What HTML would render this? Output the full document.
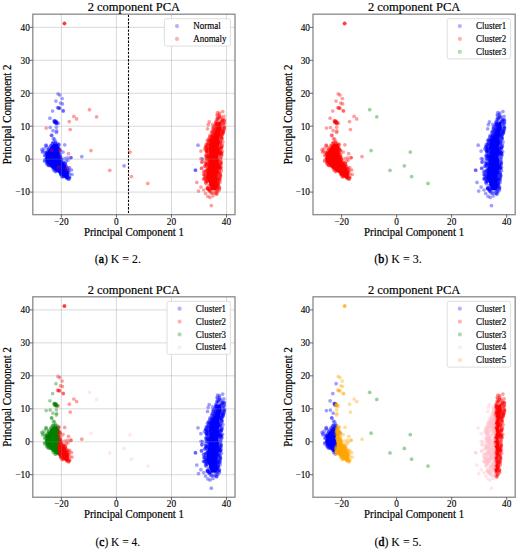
<!DOCTYPE html>
<html><head><meta charset="utf-8"><style>
html,body{margin:0;padding:0;background:#fff;}
svg{display:block;font-family:"Liberation Serif", serif;}
.g{stroke:#8a8a8a;stroke-opacity:0.4;stroke-width:0.8;}
.f{fill:none;stroke:#8e8e8e;stroke-width:1.35;}
.t{stroke:#444;stroke-width:0.8;}
.tl{font-size:9.3px;fill:#000;stroke:#000;stroke-width:0.12;}
.ti{font-size:12.7px;fill:#000;stroke:#000;stroke-width:0.18;}
.al{font-size:11.5px;fill:#000;stroke:#000;stroke-width:0.2;}
.lg{font-size:9.5px;fill:#000;stroke:#000;stroke-width:0.15;}
.cap{font-size:11.8px;fill:#000;stroke:#000;stroke-width:0.1;}
</style></head><body>
<svg width="518" height="550" viewBox="0 0 518 550">
<clipPath id="claL0"><rect x="0.0" y="0.0" width="250.0" height="280"/></clipPath><polygon points="53.1,144.0 52.8,144.5 52.4,145.0 52.0,145.5 51.6,146.0 51.3,146.5 50.9,147.0 50.5,147.5 50.1,148.0 49.8,148.5 49.4,149.0 49.0,149.5 48.6,150.0 48.3,150.5 47.9,151.0 47.6,151.5 47.4,152.0 47.1,152.5 46.9,153.0 46.7,153.5 46.5,154.0 46.4,154.5 46.2,155.0 46.1,155.5 45.9,156.0 45.8,156.5 45.7,157.0 45.7,157.5 45.7,158.0 45.7,158.5 45.7,159.0 45.8,159.5 45.9,160.0 46.0,160.5 46.1,161.0 46.4,161.5 46.7,162.0 47.0,162.5 47.3,163.0 47.8,163.5 48.2,164.0 48.6,164.5 49.1,165.0 49.6,165.5 50.1,166.0 50.6,166.5 51.1,167.0 51.6,167.5 52.2,168.0 52.8,168.5 53.3,169.0 53.9,169.5 54.6,170.0 55.2,170.5 55.9,171.0 56.5,171.5 57.1,172.0 57.8,172.5 58.4,173.0 59.1,173.5 59.8,174.0 60.4,174.5 61.1,175.0 61.8,175.5 62.5,176.0 63.2,176.5 63.9,177.0 64.6,177.5 65.2,178.0 65.9,178.5 66.7,179.0 67.8,179.0 67.9,178.5 68.0,178.0 68.2,177.5 68.3,177.0 68.3,176.5 68.4,176.0 68.5,175.5 68.5,175.0 68.5,174.5 68.4,174.0 68.3,173.5 68.3,173.0 68.1,172.5 68.0,172.0 67.8,171.5 67.7,171.0 67.5,170.5 67.3,170.0 67.1,169.5 66.9,169.0 66.6,168.5 66.4,168.0 66.1,167.5 65.9,167.0 65.6,166.5 65.3,166.0 65.0,165.5 64.7,165.0 64.3,164.5 64.0,164.0 63.6,163.5 63.3,163.0 62.9,162.5 62.4,162.0 62.0,161.5 61.5,161.0 61.1,160.5 60.7,160.0 60.3,159.5 59.9,159.0 59.8,158.5 59.6,158.0 59.5,157.5 59.3,157.0 59.3,156.5 59.2,156.0 59.1,155.5 59.1,155.0 59.1,154.5 59.0,154.0 58.9,153.5 58.9,153.0 58.9,152.5 58.9,152.0 58.9,151.5 58.9,151.0 58.9,150.5 58.9,150.0 58.9,149.5 58.9,149.0 58.8,148.5 58.7,148.0 58.6,147.5 58.5,147.0 58.4,146.5 58.2,146.0 58.0,145.5 57.9,145.0 57.6,144.5 57.4,144.0" fill="#0000ff" clip-path="url(#claL0)"/>
<clipPath id="claR0"><rect x="0.0" y="0.0" width="250.0" height="280"/></clipPath><polygon points="218.6,122.0 218.3,122.5 218.1,123.0 217.8,123.5 217.6,124.0 217.4,124.5 217.3,125.0 217.2,125.5 217.0,126.0 216.8,126.5 216.7,127.0 216.6,127.5 216.4,128.0 216.3,128.5 216.1,129.0 216.0,129.5 215.9,130.0 215.7,130.5 215.6,131.0 215.4,131.5 215.1,132.0 214.9,132.5 214.6,133.0 214.4,133.5 214.2,134.0 213.9,134.5 213.7,135.0 213.4,135.5 213.2,136.0 212.8,136.5 212.5,137.0 212.2,137.5 211.8,138.0 211.4,138.5 211.1,139.0 210.8,139.5 210.4,140.0 210.3,140.5 210.3,141.0 210.2,141.5 210.1,142.0 210.1,142.5 210.0,143.0 209.8,143.5 209.7,144.0 209.5,144.5 209.4,145.0 209.2,145.5 209.1,146.0 208.9,146.5 208.8,147.0 208.8,147.5 208.9,148.0 208.9,148.5 209.0,149.0 209.0,149.5 209.1,150.0 209.1,150.5 209.2,151.0 209.2,151.5 209.2,152.0 209.2,152.5 209.2,153.0 209.3,153.5 209.3,154.0 209.3,154.5 209.3,155.0 209.4,155.5 209.4,156.0 209.4,156.5 209.3,157.0 209.3,157.5 209.2,158.0 209.2,158.5 209.1,159.0 209.1,159.5 209.1,160.0 209.0,160.5 209.0,161.0 208.9,161.5 208.9,162.0 208.8,162.5 208.8,163.0 208.7,163.5 208.6,164.0 208.5,164.5 208.4,165.0 208.3,165.5 208.2,166.0 208.1,166.5 208.0,167.0 207.9,167.5 207.8,168.0 207.7,168.5 207.6,169.0 207.5,169.5 207.4,170.0 207.3,170.5 207.2,171.0 207.1,171.5 207.0,172.0 206.9,172.5 206.8,173.0 206.7,173.5 206.6,174.0 206.6,174.5 206.7,175.0 206.7,175.5 206.7,176.0 206.7,176.5 206.7,177.0 206.8,177.5 206.8,178.0 207.0,178.5 207.2,179.0 207.4,179.5 207.7,180.0 207.9,180.5 208.1,181.0 208.3,181.5 208.5,182.0 208.8,182.5 209.0,183.0 209.2,183.5 209.4,184.0 209.5,184.5 209.7,185.0 209.8,185.5 210.0,186.0 210.1,186.5 210.2,187.0 210.4,187.5 210.5,188.0 210.7,188.5 210.8,189.0 211.1,189.5 211.4,190.0 216.5,190.0 216.6,189.5 216.8,189.0 216.8,188.5 216.9,188.0 216.9,187.5 217.0,187.0 217.0,186.5 217.0,186.0 217.1,185.5 217.1,185.0 217.2,184.5 217.2,184.0 217.2,183.5 217.2,183.0 217.3,182.5 217.3,182.0 217.3,181.5 217.3,181.0 217.3,180.5 217.3,180.0 217.3,179.5 217.4,179.0 217.4,178.5 217.4,178.0 217.4,177.5 217.5,177.0 217.5,176.5 217.5,176.0 217.5,175.5 217.5,175.0 217.6,174.5 217.6,174.0 217.7,173.5 217.8,173.0 217.9,172.5 218.0,172.0 218.1,171.5 218.2,171.0 218.3,170.5 218.4,170.0 218.5,169.5 218.6,169.0 218.7,168.5 218.8,168.0 218.8,167.5 218.8,167.0 218.8,166.5 218.8,166.0 218.8,165.5 218.8,165.0 218.8,164.5 218.8,164.0 218.8,163.5 218.8,163.0 218.8,162.5 218.7,162.0 218.7,161.5 218.6,161.0 218.6,160.5 218.5,160.0 218.5,159.5 218.5,159.0 218.4,158.5 218.4,158.0 218.3,157.5 218.3,157.0 218.2,156.5 218.2,156.0 218.3,155.5 218.4,155.0 218.5,154.5 218.6,154.0 218.7,153.5 218.8,153.0 218.9,152.5 219.0,152.0 219.1,151.5 219.2,151.0 219.3,150.5 219.4,150.0 219.2,149.5 219.1,149.0 218.9,148.5 218.7,148.0 218.6,147.5 218.4,147.0 218.6,146.5 218.7,146.0 218.8,145.5 219.0,145.0 219.2,144.5 219.3,144.0 219.4,143.5 219.6,143.0 219.5,142.5 219.4,142.0 219.3,141.5 219.2,141.0 219.1,140.5 219.0,140.0 219.1,139.5 219.2,139.0 219.2,138.5 219.3,138.0 219.4,137.5 219.4,137.0 219.5,136.5 219.6,136.0 219.7,135.5 219.7,135.0 219.8,134.5 219.9,134.0 220.0,133.5 220.0,133.0 220.1,132.5 220.2,132.0 220.2,131.5 220.3,131.0 220.6,130.5 220.8,130.0 221.1,129.5 221.3,129.0 221.6,128.5 221.8,128.0 221.7,127.5 221.5,127.0 221.3,126.5 221.2,126.0 221.1,125.5 220.9,125.0 220.8,124.5 220.6,124.0 220.7,123.5 220.8,123.0 220.9,122.5 221.0,122.0" fill="#ff0000" clip-path="url(#claR0)"/>
<g fill="#0000ff" fill-opacity="0.38"><circle cx="53.4" cy="142.2" r="1.85"/><circle cx="55.6" cy="142.9" r="1.85"/><circle cx="52.7" cy="143.0" r="1.85"/><circle cx="54.8" cy="143.6" r="1.85"/><circle cx="52.2" cy="143.9" r="1.85"/><circle cx="57.7" cy="143.6" r="1.85"/><circle cx="56.3" cy="145.4" r="1.85"/><circle cx="55.8" cy="144.9" r="1.85"/><circle cx="59.3" cy="144.5" r="1.85"/><circle cx="58.3" cy="144.8" r="1.85"/><circle cx="51.2" cy="145.8" r="1.85"/><circle cx="58.0" cy="145.7" r="1.85"/><circle cx="55.7" cy="146.1" r="1.85"/><circle cx="53.7" cy="146.0" r="1.85"/><circle cx="50.7" cy="145.6" r="1.85"/><circle cx="56.6" cy="146.9" r="1.85"/><circle cx="52.7" cy="147.1" r="1.85"/><circle cx="54.2" cy="146.8" r="1.85"/><circle cx="57.9" cy="147.2" r="1.85"/><circle cx="51.9" cy="147.1" r="1.85"/><circle cx="58.8" cy="148.2" r="1.85"/><circle cx="51.9" cy="148.5" r="1.85"/><circle cx="49.9" cy="147.9" r="1.85"/><circle cx="57.4" cy="147.7" r="1.85"/><circle cx="54.3" cy="147.5" r="1.85"/><circle cx="56.4" cy="148.3" r="1.85"/><circle cx="58.9" cy="148.8" r="1.85"/><circle cx="56.6" cy="149.1" r="1.85"/><circle cx="55.2" cy="149.0" r="1.85"/><circle cx="58.5" cy="149.4" r="1.85"/><circle cx="53.8" cy="149.2" r="1.85"/><circle cx="48.6" cy="149.2" r="1.85"/><circle cx="60.4" cy="150.3" r="1.85"/><circle cx="50.9" cy="149.9" r="1.85"/><circle cx="56.0" cy="149.5" r="1.85"/><circle cx="53.3" cy="149.7" r="1.85"/><circle cx="48.6" cy="149.6" r="1.85"/><circle cx="57.4" cy="149.6" r="1.85"/><circle cx="51.9" cy="151.4" r="1.85"/><circle cx="47.4" cy="150.9" r="1.85"/><circle cx="54.1" cy="151.4" r="1.85"/><circle cx="57.9" cy="151.4" r="1.85"/><circle cx="50.3" cy="150.9" r="1.85"/><circle cx="51.4" cy="151.4" r="1.85"/><circle cx="59.9" cy="150.7" r="1.85"/><circle cx="49.2" cy="151.7" r="1.85"/><circle cx="52.9" cy="152.1" r="1.85"/><circle cx="49.7" cy="151.5" r="1.85"/><circle cx="52.0" cy="151.9" r="1.85"/><circle cx="54.1" cy="152.5" r="1.85"/><circle cx="56.0" cy="152.0" r="1.85"/><circle cx="54.9" cy="152.2" r="1.85"/><circle cx="59.0" cy="153.3" r="1.85"/><circle cx="58.6" cy="153.3" r="1.85"/><circle cx="51.3" cy="152.9" r="1.85"/><circle cx="46.9" cy="153.1" r="1.85"/><circle cx="46.2" cy="152.6" r="1.85"/><circle cx="48.5" cy="152.7" r="1.85"/><circle cx="50.5" cy="152.6" r="1.85"/><circle cx="45.3" cy="152.7" r="1.85"/><circle cx="50.6" cy="153.5" r="1.85"/><circle cx="58.6" cy="154.1" r="1.85"/><circle cx="47.3" cy="153.8" r="1.85"/><circle cx="50.4" cy="153.9" r="1.85"/><circle cx="46.9" cy="154.3" r="1.85"/><circle cx="60.5" cy="154.0" r="1.85"/><circle cx="52.5" cy="153.6" r="1.85"/><circle cx="46.5" cy="153.8" r="1.85"/><circle cx="57.9" cy="154.7" r="1.85"/><circle cx="45.0" cy="155.5" r="1.85"/><circle cx="53.1" cy="154.6" r="1.85"/><circle cx="53.3" cy="154.5" r="1.85"/><circle cx="53.1" cy="155.5" r="1.85"/><circle cx="58.5" cy="155.2" r="1.85"/><circle cx="48.8" cy="154.9" r="1.85"/><circle cx="47.3" cy="155.3" r="1.85"/><circle cx="57.2" cy="155.8" r="1.85"/><circle cx="48.0" cy="156.3" r="1.85"/><circle cx="60.6" cy="156.4" r="1.85"/><circle cx="57.6" cy="156.3" r="1.85"/><circle cx="56.5" cy="155.7" r="1.85"/><circle cx="52.9" cy="155.9" r="1.85"/><circle cx="44.8" cy="155.5" r="1.85"/><circle cx="48.9" cy="155.8" r="1.85"/><circle cx="60.2" cy="156.9" r="1.85"/><circle cx="59.8" cy="157.5" r="1.85"/><circle cx="60.1" cy="156.9" r="1.85"/><circle cx="47.8" cy="156.7" r="1.85"/><circle cx="47.4" cy="156.7" r="1.85"/><circle cx="54.6" cy="157.4" r="1.85"/><circle cx="58.2" cy="157.0" r="1.85"/><circle cx="55.1" cy="157.3" r="1.85"/><circle cx="55.4" cy="158.4" r="1.85"/><circle cx="57.5" cy="158.3" r="1.85"/><circle cx="52.3" cy="157.7" r="1.85"/><circle cx="57.6" cy="157.8" r="1.85"/><circle cx="57.8" cy="158.5" r="1.85"/><circle cx="50.9" cy="157.9" r="1.85"/><circle cx="60.3" cy="158.2" r="1.85"/><circle cx="47.0" cy="157.6" r="1.85"/><circle cx="46.7" cy="158.4" r="1.85"/><circle cx="46.6" cy="159.3" r="1.85"/><circle cx="61.2" cy="159.2" r="1.85"/><circle cx="50.2" cy="159.0" r="1.85"/><circle cx="46.4" cy="158.5" r="1.85"/><circle cx="61.0" cy="159.1" r="1.85"/><circle cx="53.3" cy="159.4" r="1.85"/><circle cx="51.6" cy="159.4" r="1.85"/><circle cx="58.5" cy="158.7" r="1.85"/><circle cx="49.6" cy="159.7" r="1.85"/><circle cx="54.9" cy="159.8" r="1.85"/><circle cx="51.8" cy="159.6" r="1.85"/><circle cx="60.7" cy="159.9" r="1.85"/><circle cx="52.5" cy="160.1" r="1.85"/><circle cx="60.6" cy="159.9" r="1.85"/><circle cx="60.8" cy="160.0" r="1.85"/><circle cx="53.9" cy="160.0" r="1.85"/><circle cx="44.6" cy="159.9" r="1.85"/><circle cx="44.6" cy="161.3" r="1.85"/><circle cx="47.7" cy="161.0" r="1.85"/><circle cx="58.0" cy="161.1" r="1.85"/><circle cx="50.6" cy="161.0" r="1.85"/><circle cx="54.8" cy="161.3" r="1.85"/><circle cx="46.5" cy="161.1" r="1.85"/><circle cx="49.1" cy="160.8" r="1.85"/><circle cx="58.9" cy="161.0" r="1.85"/><circle cx="54.9" cy="161.3" r="1.85"/><circle cx="53.5" cy="162.1" r="1.85"/><circle cx="54.7" cy="162.0" r="1.85"/><circle cx="58.2" cy="162.0" r="1.85"/><circle cx="55.2" cy="162.0" r="1.85"/><circle cx="62.9" cy="162.2" r="1.85"/><circle cx="61.7" cy="162.4" r="1.85"/><circle cx="50.0" cy="162.1" r="1.85"/><circle cx="62.9" cy="162.3" r="1.85"/><circle cx="47.7" cy="161.6" r="1.85"/><circle cx="47.1" cy="162.7" r="1.85"/><circle cx="47.1" cy="163.2" r="1.85"/><circle cx="60.8" cy="163.4" r="1.85"/><circle cx="48.7" cy="163.2" r="1.85"/><circle cx="58.4" cy="162.6" r="1.85"/><circle cx="62.7" cy="163.5" r="1.85"/><circle cx="49.9" cy="163.5" r="1.85"/><circle cx="53.3" cy="163.0" r="1.85"/><circle cx="64.7" cy="163.3" r="1.85"/><circle cx="54.8" cy="164.0" r="1.85"/><circle cx="53.0" cy="163.7" r="1.85"/><circle cx="52.7" cy="164.2" r="1.85"/><circle cx="47.0" cy="164.1" r="1.85"/><circle cx="55.0" cy="163.5" r="1.85"/><circle cx="52.9" cy="164.1" r="1.85"/><circle cx="56.3" cy="163.6" r="1.85"/><circle cx="65.3" cy="164.3" r="1.85"/><circle cx="65.1" cy="163.6" r="1.85"/><circle cx="48.2" cy="165.3" r="1.85"/><circle cx="52.6" cy="164.6" r="1.85"/><circle cx="55.4" cy="165.4" r="1.85"/><circle cx="62.9" cy="164.8" r="1.85"/><circle cx="50.3" cy="165.4" r="1.85"/><circle cx="58.2" cy="165.2" r="1.85"/><circle cx="49.2" cy="164.6" r="1.85"/><circle cx="60.4" cy="164.9" r="1.85"/><circle cx="48.9" cy="165.4" r="1.85"/><circle cx="63.2" cy="165.6" r="1.85"/><circle cx="64.3" cy="165.6" r="1.85"/><circle cx="64.4" cy="166.0" r="1.85"/><circle cx="54.7" cy="166.1" r="1.85"/><circle cx="65.6" cy="165.8" r="1.85"/><circle cx="50.9" cy="166.0" r="1.85"/><circle cx="52.9" cy="165.6" r="1.85"/><circle cx="51.5" cy="165.6" r="1.85"/><circle cx="52.2" cy="165.8" r="1.85"/><circle cx="63.2" cy="166.8" r="1.85"/><circle cx="58.5" cy="166.7" r="1.85"/><circle cx="55.7" cy="166.5" r="1.85"/><circle cx="54.0" cy="166.5" r="1.85"/><circle cx="62.7" cy="167.1" r="1.85"/><circle cx="52.9" cy="167.0" r="1.85"/><circle cx="66.3" cy="166.6" r="1.85"/><circle cx="64.2" cy="166.9" r="1.85"/><circle cx="58.4" cy="167.3" r="1.85"/><circle cx="59.4" cy="168.2" r="1.85"/><circle cx="67.7" cy="167.8" r="1.85"/><circle cx="65.1" cy="168.2" r="1.85"/><circle cx="61.7" cy="167.9" r="1.85"/><circle cx="56.6" cy="167.6" r="1.85"/><circle cx="52.9" cy="167.6" r="1.85"/><circle cx="63.5" cy="167.8" r="1.85"/><circle cx="53.4" cy="167.6" r="1.85"/><circle cx="66.3" cy="169.2" r="1.85"/><circle cx="56.4" cy="168.7" r="1.85"/><circle cx="56.6" cy="169.0" r="1.85"/><circle cx="54.3" cy="168.9" r="1.85"/><circle cx="56.1" cy="169.5" r="1.85"/><circle cx="68.0" cy="169.0" r="1.85"/><circle cx="55.8" cy="169.5" r="1.85"/><circle cx="56.9" cy="168.9" r="1.85"/><circle cx="59.1" cy="170.0" r="1.85"/><circle cx="61.0" cy="169.7" r="1.85"/><circle cx="61.0" cy="169.5" r="1.85"/><circle cx="57.2" cy="169.6" r="1.85"/><circle cx="59.4" cy="169.5" r="1.85"/><circle cx="53.4" cy="169.8" r="1.85"/><circle cx="56.7" cy="170.1" r="1.85"/><circle cx="61.4" cy="170.3" r="1.85"/><circle cx="65.0" cy="171.4" r="1.85"/><circle cx="60.1" cy="170.8" r="1.85"/><circle cx="69.1" cy="170.6" r="1.85"/><circle cx="65.2" cy="171.1" r="1.85"/><circle cx="55.0" cy="171.3" r="1.85"/><circle cx="67.7" cy="171.1" r="1.85"/><circle cx="65.3" cy="171.3" r="1.85"/><circle cx="62.9" cy="172.0" r="1.85"/><circle cx="67.3" cy="172.3" r="1.85"/><circle cx="67.2" cy="172.1" r="1.85"/><circle cx="68.1" cy="172.2" r="1.85"/><circle cx="65.3" cy="171.7" r="1.85"/><circle cx="56.0" cy="171.6" r="1.85"/><circle cx="60.6" cy="171.6" r="1.85"/><circle cx="64.1" cy="173.1" r="1.85"/><circle cx="65.0" cy="173.2" r="1.85"/><circle cx="63.2" cy="172.5" r="1.85"/><circle cx="67.2" cy="173.2" r="1.85"/><circle cx="63.4" cy="173.0" r="1.85"/><circle cx="65.4" cy="172.6" r="1.85"/><circle cx="61.1" cy="173.6" r="1.85"/><circle cx="61.3" cy="174.2" r="1.85"/><circle cx="60.6" cy="174.2" r="1.85"/><circle cx="69.7" cy="174.0" r="1.85"/><circle cx="62.7" cy="174.0" r="1.85"/><circle cx="67.6" cy="175.1" r="1.85"/><circle cx="66.3" cy="174.6" r="1.85"/><circle cx="61.1" cy="174.8" r="1.85"/><circle cx="67.4" cy="174.8" r="1.85"/><circle cx="65.5" cy="174.5" r="1.85"/><circle cx="63.3" cy="176.2" r="1.85"/><circle cx="67.2" cy="176.2" r="1.85"/><circle cx="63.5" cy="176.0" r="1.85"/><circle cx="65.1" cy="176.0" r="1.85"/><circle cx="62.0" cy="176.4" r="1.85"/><circle cx="69.7" cy="177.4" r="1.85"/><circle cx="62.4" cy="177.0" r="1.85"/><circle cx="68.5" cy="177.5" r="1.85"/><circle cx="65.7" cy="176.8" r="1.85"/><circle cx="69.3" cy="177.7" r="1.85"/><circle cx="67.1" cy="177.6" r="1.85"/><circle cx="66.8" cy="178.5" r="1.85"/><circle cx="68.6" cy="179.0" r="1.85"/><circle cx="68.9" cy="179.2" r="1.85"/><circle cx="58.0" cy="93.8" r="1.85"/><circle cx="59.8" cy="95.0" r="1.85"/><circle cx="62.1" cy="98.5" r="1.85"/><circle cx="55.9" cy="101.1" r="1.85"/><circle cx="60.6" cy="103.1" r="1.85"/><circle cx="62.4" cy="103.9" r="1.85"/><circle cx="57.6" cy="107.6" r="1.85"/><circle cx="58.4" cy="108.0" r="1.85"/><circle cx="59.2" cy="107.9" r="1.85"/><circle cx="59.8" cy="108.3" r="1.85"/><circle cx="63.0" cy="110.7" r="1.85"/><circle cx="63.4" cy="111.1" r="1.85"/><circle cx="52.6" cy="111.0" r="1.85"/><circle cx="49.9" cy="118.2" r="1.85"/><circle cx="54.0" cy="120.8" r="1.85"/><circle cx="54.6" cy="121.2" r="1.85"/><circle cx="55.2" cy="121.6" r="1.85"/><circle cx="55.8" cy="122.0" r="1.85"/><circle cx="56.4" cy="122.4" r="1.85"/><circle cx="57.0" cy="122.9" r="1.85"/><circle cx="54.4" cy="122.2" r="1.85"/><circle cx="55.6" cy="123.0" r="1.85"/><circle cx="56.6" cy="123.6" r="1.85"/><circle cx="55.0" cy="120.9" r="1.85"/><circle cx="56.2" cy="121.3" r="1.85"/><circle cx="55.3" cy="122.6" r="1.85"/><circle cx="58.2" cy="123.3" r="1.85"/><circle cx="50.2" cy="127.5" r="1.85"/><circle cx="56.4" cy="127.2" r="1.85"/><circle cx="53.0" cy="130.6" r="1.85"/><circle cx="56.7" cy="130.9" r="1.85"/><circle cx="56.4" cy="132.4" r="1.85"/><circle cx="51.4" cy="135.2" r="1.85"/><circle cx="51.8" cy="135.5" r="1.85"/><circle cx="53.3" cy="138.6" r="1.85"/><circle cx="54.5" cy="139.2" r="1.85"/><circle cx="55.5" cy="141.7" r="1.85"/><circle cx="46.2" cy="145.1" r="1.85"/><circle cx="64.7" cy="144.8" r="1.85"/><circle cx="41.8" cy="149.7" r="1.85"/><circle cx="43.0" cy="151.0" r="1.85"/><circle cx="45.8" cy="145.6" r="1.85"/><circle cx="47.0" cy="147.0" r="1.85"/><circle cx="42.5" cy="152.2" r="1.85"/><circle cx="44.0" cy="148.6" r="1.85"/><circle cx="66.1" cy="161.3" r="1.85"/><circle cx="67.3" cy="157.8" r="1.85"/><circle cx="70.8" cy="157.8" r="1.85"/><circle cx="69.6" cy="167.7" r="1.85"/><circle cx="68.0" cy="160.0" r="1.85"/><circle cx="71.0" cy="157.5" r="1.85"/><circle cx="63.0" cy="152.0" r="1.85"/><circle cx="64.5" cy="158.5" r="1.85"/><circle cx="71.5" cy="170.0" r="1.85"/><circle cx="72.0" cy="174.5" r="1.85"/><circle cx="81.8" cy="156.6" r="1.85"/><circle cx="124.1" cy="165.8" r="1.85"/><circle cx="195.6" cy="170.3" r="1.85"/><circle cx="195.3" cy="170.0" r="1.85"/><circle cx="198.0" cy="145.2" r="1.85"/><circle cx="202.6" cy="159.1" r="1.85"/></g>
<g fill="#ff0000" fill-opacity="0.38"><circle cx="222.7" cy="111.5" r="1.85"/><circle cx="217.6" cy="112.5" r="1.85"/><circle cx="219.5" cy="113.1" r="1.85"/><circle cx="219.5" cy="114.8" r="1.85"/><circle cx="217.0" cy="114.8" r="1.85"/><circle cx="217.6" cy="115.9" r="1.85"/><circle cx="223.9" cy="116.3" r="1.85"/><circle cx="219.5" cy="116.4" r="1.85"/><circle cx="221.2" cy="117.4" r="1.85"/><circle cx="219.8" cy="117.3" r="1.85"/><circle cx="216.8" cy="118.8" r="1.85"/><circle cx="218.4" cy="118.9" r="1.85"/><circle cx="218.1" cy="118.3" r="1.85"/><circle cx="217.4" cy="119.4" r="1.85"/><circle cx="224.3" cy="119.9" r="1.85"/><circle cx="223.0" cy="119.6" r="1.85"/><circle cx="224.2" cy="120.5" r="1.85"/><circle cx="222.2" cy="120.0" r="1.85"/><circle cx="222.3" cy="120.5" r="1.85"/><circle cx="221.3" cy="121.3" r="1.85"/><circle cx="215.8" cy="121.9" r="1.85"/><circle cx="216.5" cy="121.5" r="1.85"/><circle cx="217.7" cy="122.7" r="1.85"/><circle cx="224.2" cy="122.3" r="1.85"/><circle cx="221.1" cy="122.3" r="1.85"/><circle cx="220.2" cy="122.4" r="1.85"/><circle cx="215.9" cy="123.2" r="1.85"/><circle cx="223.3" cy="123.5" r="1.85"/><circle cx="216.5" cy="123.9" r="1.85"/><circle cx="224.2" cy="123.4" r="1.85"/><circle cx="215.9" cy="124.1" r="1.85"/><circle cx="217.5" cy="124.1" r="1.85"/><circle cx="216.4" cy="124.3" r="1.85"/><circle cx="219.8" cy="124.9" r="1.85"/><circle cx="221.7" cy="124.4" r="1.85"/><circle cx="219.4" cy="125.4" r="1.85"/><circle cx="217.3" cy="125.1" r="1.85"/><circle cx="216.7" cy="126.0" r="1.85"/><circle cx="215.0" cy="125.5" r="1.85"/><circle cx="220.5" cy="125.9" r="1.85"/><circle cx="216.5" cy="126.2" r="1.85"/><circle cx="217.9" cy="126.4" r="1.85"/><circle cx="224.3" cy="126.8" r="1.85"/><circle cx="223.4" cy="126.0" r="1.85"/><circle cx="213.7" cy="126.7" r="1.85"/><circle cx="218.8" cy="127.6" r="1.85"/><circle cx="213.1" cy="127.4" r="1.85"/><circle cx="224.3" cy="127.8" r="1.85"/><circle cx="223.4" cy="128.0" r="1.85"/><circle cx="216.1" cy="127.1" r="1.85"/><circle cx="219.2" cy="128.7" r="1.85"/><circle cx="224.3" cy="128.7" r="1.85"/><circle cx="220.7" cy="128.8" r="1.85"/><circle cx="218.4" cy="128.6" r="1.85"/><circle cx="213.3" cy="128.8" r="1.85"/><circle cx="215.6" cy="128.9" r="1.85"/><circle cx="216.2" cy="129.1" r="1.85"/><circle cx="215.5" cy="129.6" r="1.85"/><circle cx="220.9" cy="129.1" r="1.85"/><circle cx="213.3" cy="129.5" r="1.85"/><circle cx="219.5" cy="129.4" r="1.85"/><circle cx="219.3" cy="130.0" r="1.85"/><circle cx="215.8" cy="130.5" r="1.85"/><circle cx="223.6" cy="130.6" r="1.85"/><circle cx="222.7" cy="130.5" r="1.85"/><circle cx="215.0" cy="130.2" r="1.85"/><circle cx="223.6" cy="130.7" r="1.85"/><circle cx="212.1" cy="131.5" r="1.85"/><circle cx="219.9" cy="131.4" r="1.85"/><circle cx="214.9" cy="131.7" r="1.85"/><circle cx="222.8" cy="131.2" r="1.85"/><circle cx="212.3" cy="131.3" r="1.85"/><circle cx="216.9" cy="131.7" r="1.85"/><circle cx="221.1" cy="132.7" r="1.85"/><circle cx="217.5" cy="132.2" r="1.85"/><circle cx="223.2" cy="132.3" r="1.85"/><circle cx="221.4" cy="132.2" r="1.85"/><circle cx="214.1" cy="132.8" r="1.85"/><circle cx="215.0" cy="133.0" r="1.85"/><circle cx="213.3" cy="133.2" r="1.85"/><circle cx="216.1" cy="133.7" r="1.85"/><circle cx="222.8" cy="133.1" r="1.85"/><circle cx="215.8" cy="133.2" r="1.85"/><circle cx="223.1" cy="133.1" r="1.85"/><circle cx="211.6" cy="133.1" r="1.85"/><circle cx="222.0" cy="134.9" r="1.85"/><circle cx="219.9" cy="135.0" r="1.85"/><circle cx="222.4" cy="134.3" r="1.85"/><circle cx="212.8" cy="134.9" r="1.85"/><circle cx="220.0" cy="134.0" r="1.85"/><circle cx="219.0" cy="134.4" r="1.85"/><circle cx="214.3" cy="135.2" r="1.85"/><circle cx="210.0" cy="135.3" r="1.85"/><circle cx="214.6" cy="136.0" r="1.85"/><circle cx="211.6" cy="136.0" r="1.85"/><circle cx="212.7" cy="135.4" r="1.85"/><circle cx="220.8" cy="135.8" r="1.85"/><circle cx="210.0" cy="136.5" r="1.85"/><circle cx="214.4" cy="136.9" r="1.85"/><circle cx="212.0" cy="136.4" r="1.85"/><circle cx="221.6" cy="136.0" r="1.85"/><circle cx="215.0" cy="136.8" r="1.85"/><circle cx="219.8" cy="136.0" r="1.85"/><circle cx="209.5" cy="137.9" r="1.85"/><circle cx="212.3" cy="137.7" r="1.85"/><circle cx="221.4" cy="137.3" r="1.85"/><circle cx="212.5" cy="138.0" r="1.85"/><circle cx="217.4" cy="137.3" r="1.85"/><circle cx="218.8" cy="137.3" r="1.85"/><circle cx="212.6" cy="137.0" r="1.85"/><circle cx="221.5" cy="138.6" r="1.85"/><circle cx="221.9" cy="138.0" r="1.85"/><circle cx="211.4" cy="138.5" r="1.85"/><circle cx="222.1" cy="139.0" r="1.85"/><circle cx="213.7" cy="138.3" r="1.85"/><circle cx="214.3" cy="138.5" r="1.85"/><circle cx="210.1" cy="139.8" r="1.85"/><circle cx="218.6" cy="139.8" r="1.85"/><circle cx="219.1" cy="139.6" r="1.85"/><circle cx="212.3" cy="139.3" r="1.85"/><circle cx="212.8" cy="139.8" r="1.85"/><circle cx="208.5" cy="139.2" r="1.85"/><circle cx="210.7" cy="140.1" r="1.85"/><circle cx="207.4" cy="140.6" r="1.85"/><circle cx="212.0" cy="141.0" r="1.85"/><circle cx="220.8" cy="141.0" r="1.85"/><circle cx="211.0" cy="140.1" r="1.85"/><circle cx="208.4" cy="140.5" r="1.85"/><circle cx="218.0" cy="140.4" r="1.85"/><circle cx="213.4" cy="141.6" r="1.85"/><circle cx="217.6" cy="141.7" r="1.85"/><circle cx="220.3" cy="141.7" r="1.85"/><circle cx="208.7" cy="141.8" r="1.85"/><circle cx="211.4" cy="141.6" r="1.85"/><circle cx="212.7" cy="141.7" r="1.85"/><circle cx="209.9" cy="141.2" r="1.85"/><circle cx="210.6" cy="141.2" r="1.85"/><circle cx="216.1" cy="142.3" r="1.85"/><circle cx="213.1" cy="143.0" r="1.85"/><circle cx="214.9" cy="142.2" r="1.85"/><circle cx="219.9" cy="142.7" r="1.85"/><circle cx="222.9" cy="142.1" r="1.85"/><circle cx="214.4" cy="142.8" r="1.85"/><circle cx="220.4" cy="142.9" r="1.85"/><circle cx="211.2" cy="143.1" r="1.85"/><circle cx="209.5" cy="144.0" r="1.85"/><circle cx="216.0" cy="143.9" r="1.85"/><circle cx="212.5" cy="143.9" r="1.85"/><circle cx="213.8" cy="143.3" r="1.85"/><circle cx="219.3" cy="143.9" r="1.85"/><circle cx="208.1" cy="143.6" r="1.85"/><circle cx="216.6" cy="143.2" r="1.85"/><circle cx="208.4" cy="144.2" r="1.85"/><circle cx="210.3" cy="144.6" r="1.85"/><circle cx="216.9" cy="144.2" r="1.85"/><circle cx="206.2" cy="144.3" r="1.85"/><circle cx="217.3" cy="144.2" r="1.85"/><circle cx="211.2" cy="144.2" r="1.85"/><circle cx="219.3" cy="144.5" r="1.85"/><circle cx="207.1" cy="144.1" r="1.85"/><circle cx="214.9" cy="145.6" r="1.85"/><circle cx="207.3" cy="145.2" r="1.85"/><circle cx="217.3" cy="145.4" r="1.85"/><circle cx="210.5" cy="145.3" r="1.85"/><circle cx="221.6" cy="145.3" r="1.85"/><circle cx="215.2" cy="145.4" r="1.85"/><circle cx="212.7" cy="145.9" r="1.85"/><circle cx="222.3" cy="145.4" r="1.85"/><circle cx="217.5" cy="146.2" r="1.85"/><circle cx="205.5" cy="146.9" r="1.85"/><circle cx="212.5" cy="146.8" r="1.85"/><circle cx="212.2" cy="146.9" r="1.85"/><circle cx="213.1" cy="146.2" r="1.85"/><circle cx="205.7" cy="146.6" r="1.85"/><circle cx="216.1" cy="146.9" r="1.85"/><circle cx="206.9" cy="146.6" r="1.85"/><circle cx="213.8" cy="147.1" r="1.85"/><circle cx="210.1" cy="147.5" r="1.85"/><circle cx="220.8" cy="147.1" r="1.85"/><circle cx="213.5" cy="147.8" r="1.85"/><circle cx="221.5" cy="147.2" r="1.85"/><circle cx="207.5" cy="147.9" r="1.85"/><circle cx="221.7" cy="147.5" r="1.85"/><circle cx="206.2" cy="147.9" r="1.85"/><circle cx="220.8" cy="148.6" r="1.85"/><circle cx="219.4" cy="148.2" r="1.85"/><circle cx="218.8" cy="148.2" r="1.85"/><circle cx="212.3" cy="148.8" r="1.85"/><circle cx="219.5" cy="148.2" r="1.85"/><circle cx="209.1" cy="148.4" r="1.85"/><circle cx="214.2" cy="148.4" r="1.85"/><circle cx="207.5" cy="148.2" r="1.85"/><circle cx="221.0" cy="149.0" r="1.85"/><circle cx="215.2" cy="149.8" r="1.85"/><circle cx="206.2" cy="149.8" r="1.85"/><circle cx="207.6" cy="149.6" r="1.85"/><circle cx="215.0" cy="149.6" r="1.85"/><circle cx="210.8" cy="149.4" r="1.85"/><circle cx="215.6" cy="149.4" r="1.85"/><circle cx="216.9" cy="149.4" r="1.85"/><circle cx="206.0" cy="150.6" r="1.85"/><circle cx="214.0" cy="150.2" r="1.85"/><circle cx="218.7" cy="150.8" r="1.85"/><circle cx="213.5" cy="150.2" r="1.85"/><circle cx="213.8" cy="150.1" r="1.85"/><circle cx="207.8" cy="150.4" r="1.85"/><circle cx="207.2" cy="150.4" r="1.85"/><circle cx="214.4" cy="150.0" r="1.85"/><circle cx="207.1" cy="151.7" r="1.85"/><circle cx="218.8" cy="151.5" r="1.85"/><circle cx="206.6" cy="151.5" r="1.85"/><circle cx="212.1" cy="152.0" r="1.85"/><circle cx="208.0" cy="151.9" r="1.85"/><circle cx="222.5" cy="151.7" r="1.85"/><circle cx="219.5" cy="151.2" r="1.85"/><circle cx="213.9" cy="153.0" r="1.85"/><circle cx="221.0" cy="152.2" r="1.85"/><circle cx="218.9" cy="152.9" r="1.85"/><circle cx="206.8" cy="152.4" r="1.85"/><circle cx="218.3" cy="152.2" r="1.85"/><circle cx="220.7" cy="152.3" r="1.85"/><circle cx="219.3" cy="152.1" r="1.85"/><circle cx="220.9" cy="153.2" r="1.85"/><circle cx="210.1" cy="153.5" r="1.85"/><circle cx="211.0" cy="153.0" r="1.85"/><circle cx="208.8" cy="153.2" r="1.85"/><circle cx="221.2" cy="153.7" r="1.85"/><circle cx="220.5" cy="153.2" r="1.85"/><circle cx="218.7" cy="153.1" r="1.85"/><circle cx="216.1" cy="154.4" r="1.85"/><circle cx="219.9" cy="154.6" r="1.85"/><circle cx="215.2" cy="154.9" r="1.85"/><circle cx="207.5" cy="155.0" r="1.85"/><circle cx="216.0" cy="154.4" r="1.85"/><circle cx="218.7" cy="154.3" r="1.85"/><circle cx="221.8" cy="154.6" r="1.85"/><circle cx="218.1" cy="155.4" r="1.85"/><circle cx="208.7" cy="155.7" r="1.85"/><circle cx="206.6" cy="155.8" r="1.85"/><circle cx="209.9" cy="155.6" r="1.85"/><circle cx="221.5" cy="155.6" r="1.85"/><circle cx="216.4" cy="155.3" r="1.85"/><circle cx="205.9" cy="155.0" r="1.85"/><circle cx="215.6" cy="156.4" r="1.85"/><circle cx="214.0" cy="156.9" r="1.85"/><circle cx="208.0" cy="156.2" r="1.85"/><circle cx="216.2" cy="156.0" r="1.85"/><circle cx="205.9" cy="156.4" r="1.85"/><circle cx="207.5" cy="156.4" r="1.85"/><circle cx="209.4" cy="156.6" r="1.85"/><circle cx="209.1" cy="157.6" r="1.85"/><circle cx="213.4" cy="157.1" r="1.85"/><circle cx="220.8" cy="157.2" r="1.85"/><circle cx="208.2" cy="157.1" r="1.85"/><circle cx="216.0" cy="157.9" r="1.85"/><circle cx="218.3" cy="157.4" r="1.85"/><circle cx="210.0" cy="157.0" r="1.85"/><circle cx="214.8" cy="158.4" r="1.85"/><circle cx="216.2" cy="158.4" r="1.85"/><circle cx="220.9" cy="158.7" r="1.85"/><circle cx="209.7" cy="158.9" r="1.85"/><circle cx="206.4" cy="158.5" r="1.85"/><circle cx="212.3" cy="158.2" r="1.85"/><circle cx="206.6" cy="158.8" r="1.85"/><circle cx="214.6" cy="159.9" r="1.85"/><circle cx="207.9" cy="159.2" r="1.85"/><circle cx="215.6" cy="159.5" r="1.85"/><circle cx="216.1" cy="159.8" r="1.85"/><circle cx="208.5" cy="159.3" r="1.85"/><circle cx="210.5" cy="159.0" r="1.85"/><circle cx="220.2" cy="159.8" r="1.85"/><circle cx="217.3" cy="159.0" r="1.85"/><circle cx="217.9" cy="160.5" r="1.85"/><circle cx="217.8" cy="160.5" r="1.85"/><circle cx="209.3" cy="160.1" r="1.85"/><circle cx="209.4" cy="160.0" r="1.85"/><circle cx="211.1" cy="160.7" r="1.85"/><circle cx="217.0" cy="160.8" r="1.85"/><circle cx="217.3" cy="160.3" r="1.85"/><circle cx="212.7" cy="161.8" r="1.85"/><circle cx="214.2" cy="161.3" r="1.85"/><circle cx="216.2" cy="162.0" r="1.85"/><circle cx="209.1" cy="161.9" r="1.85"/><circle cx="205.7" cy="161.3" r="1.85"/><circle cx="209.4" cy="161.7" r="1.85"/><circle cx="221.2" cy="161.7" r="1.85"/><circle cx="220.2" cy="162.3" r="1.85"/><circle cx="209.4" cy="162.9" r="1.85"/><circle cx="216.0" cy="162.7" r="1.85"/><circle cx="216.6" cy="163.0" r="1.85"/><circle cx="213.3" cy="162.8" r="1.85"/><circle cx="217.1" cy="162.9" r="1.85"/><circle cx="212.7" cy="162.7" r="1.85"/><circle cx="215.0" cy="162.3" r="1.85"/><circle cx="215.8" cy="163.1" r="1.85"/><circle cx="220.8" cy="163.1" r="1.85"/><circle cx="205.7" cy="163.1" r="1.85"/><circle cx="221.1" cy="163.3" r="1.85"/><circle cx="207.6" cy="163.0" r="1.85"/><circle cx="205.9" cy="163.7" r="1.85"/><circle cx="216.0" cy="163.7" r="1.85"/><circle cx="217.8" cy="163.1" r="1.85"/><circle cx="211.3" cy="164.8" r="1.85"/><circle cx="219.2" cy="164.9" r="1.85"/><circle cx="206.1" cy="164.9" r="1.85"/><circle cx="220.8" cy="164.9" r="1.85"/><circle cx="206.9" cy="164.2" r="1.85"/><circle cx="206.9" cy="164.0" r="1.85"/><circle cx="219.7" cy="164.8" r="1.85"/><circle cx="216.0" cy="164.8" r="1.85"/><circle cx="209.8" cy="165.1" r="1.85"/><circle cx="206.5" cy="165.8" r="1.85"/><circle cx="208.4" cy="165.3" r="1.85"/><circle cx="212.2" cy="165.0" r="1.85"/><circle cx="209.3" cy="165.3" r="1.85"/><circle cx="217.3" cy="165.4" r="1.85"/><circle cx="210.4" cy="166.0" r="1.85"/><circle cx="213.6" cy="165.9" r="1.85"/><circle cx="205.1" cy="166.4" r="1.85"/><circle cx="212.3" cy="166.8" r="1.85"/><circle cx="210.7" cy="166.7" r="1.85"/><circle cx="214.1" cy="166.2" r="1.85"/><circle cx="219.9" cy="166.1" r="1.85"/><circle cx="219.1" cy="166.2" r="1.85"/><circle cx="204.6" cy="166.2" r="1.85"/><circle cx="218.1" cy="167.0" r="1.85"/><circle cx="213.2" cy="167.5" r="1.85"/><circle cx="218.7" cy="167.2" r="1.85"/><circle cx="213.3" cy="167.3" r="1.85"/><circle cx="219.3" cy="167.3" r="1.85"/><circle cx="221.3" cy="167.3" r="1.85"/><circle cx="208.2" cy="167.7" r="1.85"/><circle cx="213.3" cy="167.1" r="1.85"/><circle cx="215.8" cy="167.1" r="1.85"/><circle cx="218.5" cy="167.7" r="1.85"/><circle cx="215.5" cy="168.4" r="1.85"/><circle cx="211.4" cy="168.4" r="1.85"/><circle cx="220.2" cy="168.1" r="1.85"/><circle cx="220.2" cy="168.0" r="1.85"/><circle cx="207.9" cy="168.3" r="1.85"/><circle cx="220.4" cy="168.5" r="1.85"/><circle cx="211.0" cy="168.9" r="1.85"/><circle cx="208.4" cy="168.5" r="1.85"/><circle cx="217.6" cy="169.8" r="1.85"/><circle cx="215.6" cy="169.3" r="1.85"/><circle cx="209.9" cy="169.2" r="1.85"/><circle cx="219.2" cy="169.7" r="1.85"/><circle cx="217.4" cy="169.2" r="1.85"/><circle cx="211.9" cy="169.8" r="1.85"/><circle cx="214.4" cy="169.1" r="1.85"/><circle cx="212.3" cy="169.9" r="1.85"/><circle cx="207.2" cy="170.3" r="1.85"/><circle cx="216.5" cy="170.8" r="1.85"/><circle cx="206.6" cy="170.2" r="1.85"/><circle cx="208.3" cy="170.3" r="1.85"/><circle cx="213.2" cy="170.2" r="1.85"/><circle cx="209.7" cy="170.2" r="1.85"/><circle cx="221.4" cy="170.7" r="1.85"/><circle cx="205.6" cy="171.0" r="1.85"/><circle cx="210.5" cy="172.0" r="1.85"/><circle cx="217.9" cy="171.7" r="1.85"/><circle cx="211.4" cy="171.2" r="1.85"/><circle cx="215.1" cy="171.1" r="1.85"/><circle cx="207.3" cy="171.4" r="1.85"/><circle cx="204.2" cy="171.4" r="1.85"/><circle cx="217.8" cy="171.7" r="1.85"/><circle cx="212.6" cy="171.6" r="1.85"/><circle cx="206.0" cy="172.6" r="1.85"/><circle cx="210.7" cy="172.7" r="1.85"/><circle cx="219.7" cy="172.4" r="1.85"/><circle cx="213.7" cy="172.7" r="1.85"/><circle cx="211.0" cy="172.2" r="1.85"/><circle cx="216.4" cy="172.9" r="1.85"/><circle cx="217.3" cy="172.7" r="1.85"/><circle cx="218.7" cy="172.7" r="1.85"/><circle cx="211.4" cy="173.3" r="1.85"/><circle cx="214.5" cy="173.1" r="1.85"/><circle cx="210.8" cy="173.8" r="1.85"/><circle cx="216.0" cy="173.6" r="1.85"/><circle cx="207.7" cy="173.4" r="1.85"/><circle cx="211.4" cy="173.6" r="1.85"/><circle cx="210.6" cy="173.7" r="1.85"/><circle cx="219.9" cy="173.2" r="1.85"/><circle cx="217.1" cy="174.4" r="1.85"/><circle cx="211.9" cy="175.0" r="1.85"/><circle cx="203.8" cy="174.5" r="1.85"/><circle cx="206.0" cy="174.8" r="1.85"/><circle cx="220.0" cy="174.5" r="1.85"/><circle cx="204.9" cy="174.6" r="1.85"/><circle cx="212.8" cy="174.7" r="1.85"/><circle cx="212.3" cy="174.6" r="1.85"/><circle cx="212.5" cy="175.4" r="1.85"/><circle cx="220.1" cy="175.2" r="1.85"/><circle cx="215.4" cy="175.4" r="1.85"/><circle cx="216.8" cy="175.1" r="1.85"/><circle cx="220.7" cy="175.4" r="1.85"/><circle cx="204.2" cy="175.3" r="1.85"/><circle cx="210.3" cy="175.0" r="1.85"/><circle cx="210.6" cy="175.4" r="1.85"/><circle cx="209.5" cy="176.3" r="1.85"/><circle cx="207.2" cy="176.7" r="1.85"/><circle cx="219.9" cy="176.5" r="1.85"/><circle cx="207.1" cy="176.8" r="1.85"/><circle cx="210.2" cy="176.2" r="1.85"/><circle cx="205.5" cy="176.8" r="1.85"/><circle cx="217.6" cy="176.6" r="1.85"/><circle cx="211.6" cy="176.6" r="1.85"/><circle cx="220.3" cy="177.4" r="1.85"/><circle cx="214.5" cy="177.8" r="1.85"/><circle cx="217.7" cy="177.5" r="1.85"/><circle cx="208.5" cy="177.5" r="1.85"/><circle cx="205.5" cy="177.8" r="1.85"/><circle cx="209.5" cy="177.9" r="1.85"/><circle cx="208.0" cy="177.4" r="1.85"/><circle cx="207.8" cy="177.4" r="1.85"/><circle cx="203.6" cy="178.7" r="1.85"/><circle cx="208.4" cy="178.2" r="1.85"/><circle cx="208.8" cy="178.5" r="1.85"/><circle cx="211.0" cy="178.6" r="1.85"/><circle cx="215.0" cy="178.4" r="1.85"/><circle cx="219.6" cy="178.9" r="1.85"/><circle cx="204.5" cy="178.8" r="1.85"/><circle cx="219.2" cy="178.8" r="1.85"/><circle cx="218.0" cy="179.6" r="1.85"/><circle cx="204.2" cy="179.0" r="1.85"/><circle cx="220.0" cy="179.7" r="1.85"/><circle cx="208.2" cy="179.1" r="1.85"/><circle cx="206.4" cy="179.2" r="1.85"/><circle cx="217.1" cy="179.3" r="1.85"/><circle cx="206.5" cy="179.9" r="1.85"/><circle cx="217.3" cy="179.2" r="1.85"/><circle cx="214.4" cy="180.8" r="1.85"/><circle cx="215.4" cy="180.9" r="1.85"/><circle cx="217.3" cy="180.8" r="1.85"/><circle cx="207.6" cy="180.7" r="1.85"/><circle cx="213.1" cy="180.7" r="1.85"/><circle cx="211.6" cy="180.9" r="1.85"/><circle cx="213.5" cy="180.3" r="1.85"/><circle cx="207.0" cy="181.5" r="1.85"/><circle cx="205.7" cy="181.5" r="1.85"/><circle cx="207.1" cy="181.5" r="1.85"/><circle cx="212.8" cy="181.5" r="1.85"/><circle cx="218.6" cy="181.0" r="1.85"/><circle cx="218.2" cy="181.5" r="1.85"/><circle cx="213.8" cy="181.7" r="1.85"/><circle cx="211.1" cy="182.4" r="1.85"/><circle cx="220.1" cy="182.1" r="1.85"/><circle cx="215.1" cy="182.6" r="1.85"/><circle cx="205.7" cy="182.6" r="1.85"/><circle cx="215.8" cy="182.9" r="1.85"/><circle cx="210.4" cy="183.0" r="1.85"/><circle cx="213.2" cy="182.5" r="1.85"/><circle cx="206.2" cy="183.7" r="1.85"/><circle cx="215.1" cy="183.3" r="1.85"/><circle cx="218.6" cy="183.4" r="1.85"/><circle cx="212.8" cy="183.5" r="1.85"/><circle cx="217.3" cy="183.2" r="1.85"/><circle cx="212.2" cy="183.4" r="1.85"/><circle cx="218.1" cy="184.3" r="1.85"/><circle cx="218.1" cy="184.4" r="1.85"/><circle cx="213.4" cy="184.3" r="1.85"/><circle cx="213.4" cy="185.0" r="1.85"/><circle cx="215.6" cy="184.8" r="1.85"/><circle cx="210.9" cy="184.3" r="1.85"/><circle cx="210.4" cy="184.6" r="1.85"/><circle cx="217.5" cy="185.0" r="1.85"/><circle cx="216.6" cy="185.9" r="1.85"/><circle cx="214.1" cy="185.0" r="1.85"/><circle cx="210.6" cy="185.0" r="1.85"/><circle cx="209.0" cy="185.9" r="1.85"/><circle cx="215.0" cy="185.7" r="1.85"/><circle cx="219.2" cy="186.6" r="1.85"/><circle cx="215.2" cy="186.6" r="1.85"/><circle cx="216.3" cy="186.6" r="1.85"/><circle cx="216.1" cy="186.2" r="1.85"/><circle cx="215.9" cy="186.5" r="1.85"/><circle cx="217.2" cy="186.1" r="1.85"/><circle cx="207.4" cy="187.8" r="1.85"/><circle cx="219.3" cy="187.7" r="1.85"/><circle cx="211.9" cy="187.8" r="1.85"/><circle cx="217.5" cy="187.6" r="1.85"/><circle cx="210.4" cy="187.3" r="1.85"/><circle cx="212.6" cy="187.3" r="1.85"/><circle cx="215.6" cy="188.9" r="1.85"/><circle cx="207.9" cy="188.6" r="1.85"/><circle cx="207.7" cy="188.1" r="1.85"/><circle cx="217.8" cy="188.6" r="1.85"/><circle cx="219.3" cy="188.4" r="1.85"/><circle cx="207.3" cy="188.4" r="1.85"/><circle cx="219.4" cy="190.0" r="1.85"/><circle cx="213.6" cy="189.4" r="1.85"/><circle cx="208.9" cy="189.6" r="1.85"/><circle cx="210.3" cy="189.2" r="1.85"/><circle cx="207.8" cy="189.0" r="1.85"/><circle cx="209.6" cy="191.0" r="1.85"/><circle cx="209.2" cy="190.9" r="1.85"/><circle cx="209.7" cy="190.0" r="1.85"/><circle cx="216.5" cy="190.2" r="1.85"/><circle cx="210.8" cy="191.1" r="1.85"/><circle cx="217.1" cy="191.7" r="1.85"/><circle cx="217.9" cy="191.7" r="1.85"/><circle cx="215.5" cy="192.7" r="1.85"/><circle cx="214.0" cy="192.9" r="1.85"/><circle cx="212.0" cy="193.0" r="1.85"/><circle cx="210.9" cy="193.0" r="1.85"/><circle cx="216.7" cy="194.1" r="1.85"/><circle cx="64.4" cy="23.4" r="1.85"/><circle cx="64.6" cy="23.3" r="1.85"/><circle cx="64.3" cy="23.6" r="1.85"/><circle cx="89.5" cy="109.7" r="1.85"/><circle cx="96.6" cy="116.8" r="1.85"/><circle cx="73.9" cy="116.4" r="1.85"/><circle cx="76.6" cy="118.9" r="1.85"/><circle cx="69.3" cy="121.6" r="1.85"/><circle cx="70.2" cy="129.5" r="1.85"/><circle cx="46.2" cy="128.0" r="1.85"/><circle cx="68.5" cy="153.7" r="1.85"/><circle cx="90.9" cy="150.6" r="1.85"/><circle cx="109.8" cy="170.3" r="1.85"/><circle cx="130.1" cy="152.1" r="1.85"/><circle cx="131.4" cy="176.6" r="1.85"/><circle cx="147.8" cy="183.4" r="1.85"/><circle cx="51.6" cy="150.3" r="1.85"/><circle cx="59.8" cy="150.3" r="1.85"/><circle cx="58.6" cy="167.1" r="1.85"/><circle cx="66.7" cy="168.8" r="1.85"/><circle cx="200.9" cy="151.1" r="1.85"/><circle cx="201.9" cy="162.2" r="1.85"/><circle cx="201.6" cy="168.5" r="1.85"/><circle cx="196.8" cy="182.4" r="1.85"/><circle cx="198.5" cy="191.1" r="1.85"/><circle cx="200.9" cy="187.1" r="1.85"/><circle cx="203.8" cy="190.0" r="1.85"/><circle cx="207.8" cy="196.3" r="1.85"/><circle cx="210.1" cy="197.5" r="1.85"/><circle cx="213.0" cy="195.8" r="1.85"/><circle cx="211.3" cy="205.6" r="1.85"/><circle cx="201.4" cy="168.0" r="1.85"/><circle cx="202.0" cy="162.0" r="1.85"/><circle cx="201.0" cy="158.7" r="1.85"/><circle cx="209.2" cy="121.9" r="1.85"/><circle cx="208.2" cy="124.7" r="1.85"/><circle cx="207.5" cy="128.8" r="1.85"/><circle cx="212.7" cy="124.3" r="1.85"/><circle cx="204.5" cy="149.0" r="1.85"/><circle cx="203.5" cy="172.0" r="1.85"/><circle cx="205.5" cy="193.5" r="1.85"/><circle cx="216.5" cy="194.0" r="1.85"/></g>
<line x1="61.39" y1="14.20" x2="61.39" y2="214.65" class="g"/>
<line x1="116.43" y1="14.20" x2="116.43" y2="214.65" class="g"/>
<line x1="171.47" y1="14.20" x2="171.47" y2="214.65" class="g"/>
<line x1="226.51" y1="14.20" x2="226.51" y2="214.65" class="g"/>
<line x1="32.80" y1="192.10" x2="235.00" y2="192.10" class="g"/>
<line x1="32.80" y1="159.15" x2="235.00" y2="159.15" class="g"/>
<line x1="32.80" y1="126.20" x2="235.00" y2="126.20" class="g"/>
<line x1="32.80" y1="93.25" x2="235.00" y2="93.25" class="g"/>
<line x1="32.80" y1="60.30" x2="235.00" y2="60.30" class="g"/>
<line x1="32.80" y1="27.35" x2="235.00" y2="27.35" class="g"/>
<line x1="128.50" y1="14.70" x2="128.50" y2="214.65" stroke="#000" stroke-width="1.1" stroke-dasharray="2.3 1.4"/>
<rect x="32.80" y="14.20" width="202.20" height="200.45" class="f"/>
<line x1="61.39" y1="214.65" x2="61.39" y2="217.65" class="t"/>
<text x="61.39" y="224.85" class="tl" text-anchor="middle">−20</text>
<line x1="116.43" y1="214.65" x2="116.43" y2="217.65" class="t"/>
<text x="116.43" y="224.85" class="tl" text-anchor="middle">0</text>
<line x1="171.47" y1="214.65" x2="171.47" y2="217.65" class="t"/>
<text x="171.47" y="224.85" class="tl" text-anchor="middle">20</text>
<line x1="226.51" y1="214.65" x2="226.51" y2="217.65" class="t"/>
<text x="226.51" y="224.85" class="tl" text-anchor="middle">40</text>
<line x1="29.80" y1="192.10" x2="32.80" y2="192.10" class="t"/>
<text x="29.80" y="195.40" class="tl" text-anchor="end">−10</text>
<line x1="29.80" y1="159.15" x2="32.80" y2="159.15" class="t"/>
<text x="29.80" y="162.45" class="tl" text-anchor="end">0</text>
<line x1="29.80" y1="126.20" x2="32.80" y2="126.20" class="t"/>
<text x="29.80" y="129.50" class="tl" text-anchor="end">10</text>
<line x1="29.80" y1="93.25" x2="32.80" y2="93.25" class="t"/>
<text x="29.80" y="96.55" class="tl" text-anchor="end">20</text>
<line x1="29.80" y1="60.30" x2="32.80" y2="60.30" class="t"/>
<text x="29.80" y="63.60" class="tl" text-anchor="end">30</text>
<line x1="29.80" y1="27.35" x2="32.80" y2="27.35" class="t"/>
<text x="29.80" y="30.65" class="tl" text-anchor="end">40</text>
<text x="133.90" y="11.40" class="ti" text-anchor="middle" textLength="92.4" lengthAdjust="spacingAndGlyphs">2 component PCA</text>
<text x="133.90" y="235.60" class="al" text-anchor="middle" textLength="100" lengthAdjust="spacingAndGlyphs">Principal Component 1</text>
<text transform="translate(11.40,114.42) rotate(-90)" class="al" text-anchor="middle" textLength="99.6" lengthAdjust="spacingAndGlyphs">Principal Component 2</text>
<rect x="164.40" y="18.70" width="66.00" height="27.30" rx="1.8" fill="#fff" fill-opacity="0.93" stroke="#d6d6d6" stroke-width="0.8"/>
<circle cx="177.00" cy="26.10" r="2.1" fill="#0000ff" fill-opacity="0.3"/>
<text x="193.20" y="29.30" class="lg" textLength="27.5" lengthAdjust="spacingAndGlyphs">Normal</text>
<circle cx="177.00" cy="38.95" r="2.1" fill="#ff0000" fill-opacity="0.3"/>
<text x="193.20" y="42.15" class="lg" textLength="33.4" lengthAdjust="spacingAndGlyphs">Anomaly</text>
<text x="117.80" y="263.00" class="cap" text-anchor="middle" textLength="46.1" lengthAdjust="spacingAndGlyphs">(<tspan style="stroke-width:0.5">a</tspan>) K = 2.</text>
<clipPath id="clbL0"><rect x="280.2" y="0.0" width="250.0" height="280"/></clipPath><polygon points="333.3,144.0 333.0,144.5 332.6,145.0 332.2,145.5 331.8,146.0 331.5,146.5 331.1,147.0 330.7,147.5 330.3,148.0 330.0,148.5 329.6,149.0 329.2,149.5 328.8,150.0 328.5,150.5 328.1,151.0 327.8,151.5 327.6,152.0 327.3,152.5 327.1,153.0 326.9,153.5 326.7,154.0 326.6,154.5 326.4,155.0 326.3,155.5 326.1,156.0 326.0,156.5 325.9,157.0 325.9,157.5 325.9,158.0 325.9,158.5 325.9,159.0 326.0,159.5 326.1,160.0 326.2,160.5 326.3,161.0 326.6,161.5 326.9,162.0 327.2,162.5 327.5,163.0 328.0,163.5 328.4,164.0 328.8,164.5 329.3,165.0 329.8,165.5 330.3,166.0 330.8,166.5 331.3,167.0 331.8,167.5 332.4,168.0 333.0,168.5 333.5,169.0 334.1,169.5 334.8,170.0 335.4,170.5 336.1,171.0 336.7,171.5 337.3,172.0 338.0,172.5 338.6,173.0 339.3,173.5 340.0,174.0 340.6,174.5 341.3,175.0 342.0,175.5 342.7,176.0 343.4,176.5 344.1,177.0 344.8,177.5 345.4,178.0 346.1,178.5 346.9,179.0 348.0,179.0 348.1,178.5 348.2,178.0 348.4,177.5 348.5,177.0 348.5,176.5 348.6,176.0 348.7,175.5 348.7,175.0 348.7,174.5 348.6,174.0 348.5,173.5 348.5,173.0 348.3,172.5 348.2,172.0 348.0,171.5 347.9,171.0 347.7,170.5 347.5,170.0 347.3,169.5 347.1,169.0 346.8,168.5 346.6,168.0 346.3,167.5 346.1,167.0 345.8,166.5 345.5,166.0 345.2,165.5 344.9,165.0 344.5,164.5 344.2,164.0 343.8,163.5 343.5,163.0 343.1,162.5 342.6,162.0 342.2,161.5 341.7,161.0 341.3,160.5 340.9,160.0 340.5,159.5 340.1,159.0 340.0,158.5 339.8,158.0 339.7,157.5 339.5,157.0 339.5,156.5 339.4,156.0 339.3,155.5 339.3,155.0 339.3,154.5 339.2,154.0 339.1,153.5 339.1,153.0 339.1,152.5 339.1,152.0 339.1,151.5 339.1,151.0 339.1,150.5 339.1,150.0 339.1,149.5 339.1,149.0 339.0,148.5 338.9,148.0 338.8,147.5 338.7,147.0 338.6,146.5 338.4,146.0 338.2,145.5 338.1,145.0 337.8,144.5 337.6,144.0" fill="#ff0000" clip-path="url(#clbL0)"/>
<clipPath id="clbR0"><rect x="280.2" y="0.0" width="250.0" height="280"/></clipPath><polygon points="498.8,122.0 498.5,122.5 498.3,123.0 498.0,123.5 497.8,124.0 497.6,124.5 497.5,125.0 497.4,125.5 497.2,126.0 497.0,126.5 496.9,127.0 496.8,127.5 496.6,128.0 496.5,128.5 496.3,129.0 496.2,129.5 496.1,130.0 495.9,130.5 495.8,131.0 495.6,131.5 495.3,132.0 495.1,132.5 494.8,133.0 494.6,133.5 494.4,134.0 494.1,134.5 493.9,135.0 493.6,135.5 493.4,136.0 493.0,136.5 492.7,137.0 492.4,137.5 492.0,138.0 491.6,138.5 491.3,139.0 491.0,139.5 490.6,140.0 490.5,140.5 490.5,141.0 490.4,141.5 490.3,142.0 490.3,142.5 490.2,143.0 490.0,143.5 489.9,144.0 489.7,144.5 489.6,145.0 489.4,145.5 489.3,146.0 489.1,146.5 489.0,147.0 489.0,147.5 489.1,148.0 489.1,148.5 489.2,149.0 489.2,149.5 489.3,150.0 489.3,150.5 489.4,151.0 489.4,151.5 489.4,152.0 489.4,152.5 489.4,153.0 489.5,153.5 489.5,154.0 489.5,154.5 489.5,155.0 489.6,155.5 489.6,156.0 489.6,156.5 489.5,157.0 489.5,157.5 489.4,158.0 489.4,158.5 489.3,159.0 489.3,159.5 489.3,160.0 489.2,160.5 489.2,161.0 489.1,161.5 489.1,162.0 489.0,162.5 489.0,163.0 488.9,163.5 488.8,164.0 488.7,164.5 488.6,165.0 488.5,165.5 488.4,166.0 488.3,166.5 488.2,167.0 488.1,167.5 488.0,168.0 487.9,168.5 487.8,169.0 487.7,169.5 487.6,170.0 487.5,170.5 487.4,171.0 487.3,171.5 487.2,172.0 487.1,172.5 487.0,173.0 486.9,173.5 486.8,174.0 486.8,174.5 486.9,175.0 486.9,175.5 486.9,176.0 486.9,176.5 486.9,177.0 487.0,177.5 487.0,178.0 487.2,178.5 487.4,179.0 487.6,179.5 487.9,180.0 488.1,180.5 488.3,181.0 488.5,181.5 488.7,182.0 489.0,182.5 489.2,183.0 489.4,183.5 489.6,184.0 489.7,184.5 489.9,185.0 490.0,185.5 490.2,186.0 490.3,186.5 490.4,187.0 490.6,187.5 490.7,188.0 490.9,188.5 491.0,189.0 491.3,189.5 491.6,190.0 496.7,190.0 496.8,189.5 497.0,189.0 497.0,188.5 497.1,188.0 497.1,187.5 497.2,187.0 497.2,186.5 497.2,186.0 497.3,185.5 497.3,185.0 497.4,184.5 497.4,184.0 497.4,183.5 497.4,183.0 497.5,182.5 497.5,182.0 497.5,181.5 497.5,181.0 497.5,180.5 497.5,180.0 497.5,179.5 497.6,179.0 497.6,178.5 497.6,178.0 497.6,177.5 497.7,177.0 497.7,176.5 497.7,176.0 497.7,175.5 497.7,175.0 497.8,174.5 497.8,174.0 497.9,173.5 498.0,173.0 498.1,172.5 498.2,172.0 498.3,171.5 498.4,171.0 498.5,170.5 498.6,170.0 498.7,169.5 498.8,169.0 498.9,168.5 499.0,168.0 499.0,167.5 499.0,167.0 499.0,166.5 499.0,166.0 499.0,165.5 499.0,165.0 499.0,164.5 499.0,164.0 499.0,163.5 499.0,163.0 499.0,162.5 498.9,162.0 498.9,161.5 498.8,161.0 498.8,160.5 498.7,160.0 498.7,159.5 498.7,159.0 498.6,158.5 498.6,158.0 498.5,157.5 498.5,157.0 498.4,156.5 498.4,156.0 498.5,155.5 498.6,155.0 498.7,154.5 498.8,154.0 498.9,153.5 499.0,153.0 499.1,152.5 499.2,152.0 499.3,151.5 499.4,151.0 499.5,150.5 499.6,150.0 499.4,149.5 499.3,149.0 499.1,148.5 498.9,148.0 498.8,147.5 498.6,147.0 498.8,146.5 498.9,146.0 499.0,145.5 499.2,145.0 499.4,144.5 499.5,144.0 499.6,143.5 499.8,143.0 499.7,142.5 499.6,142.0 499.5,141.5 499.4,141.0 499.3,140.5 499.2,140.0 499.3,139.5 499.4,139.0 499.4,138.5 499.5,138.0 499.6,137.5 499.6,137.0 499.7,136.5 499.8,136.0 499.9,135.5 499.9,135.0 500.0,134.5 500.1,134.0 500.2,133.5 500.2,133.0 500.3,132.5 500.4,132.0 500.4,131.5 500.5,131.0 500.8,130.5 501.0,130.0 501.3,129.5 501.5,129.0 501.8,128.5 502.0,128.0 501.9,127.5 501.7,127.0 501.5,126.5 501.4,126.0 501.3,125.5 501.1,125.0 501.0,124.5 500.8,124.0 500.9,123.5 501.0,123.0 501.1,122.5 501.2,122.0" fill="#0000ff" clip-path="url(#clbR0)"/>
<g fill="#0000ff" fill-opacity="0.38"><circle cx="502.9" cy="111.5" r="1.85"/><circle cx="497.8" cy="112.5" r="1.85"/><circle cx="499.7" cy="113.1" r="1.85"/><circle cx="499.7" cy="114.8" r="1.85"/><circle cx="497.2" cy="114.8" r="1.85"/><circle cx="497.8" cy="115.9" r="1.85"/><circle cx="504.1" cy="116.3" r="1.85"/><circle cx="499.7" cy="116.4" r="1.85"/><circle cx="501.4" cy="117.4" r="1.85"/><circle cx="500.0" cy="117.3" r="1.85"/><circle cx="497.0" cy="118.8" r="1.85"/><circle cx="498.6" cy="118.9" r="1.85"/><circle cx="498.3" cy="118.3" r="1.85"/><circle cx="497.6" cy="119.4" r="1.85"/><circle cx="504.5" cy="119.9" r="1.85"/><circle cx="503.2" cy="119.6" r="1.85"/><circle cx="504.4" cy="120.5" r="1.85"/><circle cx="502.4" cy="120.0" r="1.85"/><circle cx="502.5" cy="120.5" r="1.85"/><circle cx="501.5" cy="121.3" r="1.85"/><circle cx="496.0" cy="121.9" r="1.85"/><circle cx="496.7" cy="121.5" r="1.85"/><circle cx="497.9" cy="122.7" r="1.85"/><circle cx="504.4" cy="122.3" r="1.85"/><circle cx="501.3" cy="122.3" r="1.85"/><circle cx="500.4" cy="122.4" r="1.85"/><circle cx="496.1" cy="123.2" r="1.85"/><circle cx="503.5" cy="123.5" r="1.85"/><circle cx="496.7" cy="123.9" r="1.85"/><circle cx="504.4" cy="123.4" r="1.85"/><circle cx="496.1" cy="124.1" r="1.85"/><circle cx="497.7" cy="124.1" r="1.85"/><circle cx="496.6" cy="124.3" r="1.85"/><circle cx="500.0" cy="124.9" r="1.85"/><circle cx="501.9" cy="124.4" r="1.85"/><circle cx="499.6" cy="125.4" r="1.85"/><circle cx="497.5" cy="125.1" r="1.85"/><circle cx="496.9" cy="126.0" r="1.85"/><circle cx="495.2" cy="125.5" r="1.85"/><circle cx="500.7" cy="125.9" r="1.85"/><circle cx="496.7" cy="126.2" r="1.85"/><circle cx="498.1" cy="126.4" r="1.85"/><circle cx="504.5" cy="126.8" r="1.85"/><circle cx="503.6" cy="126.0" r="1.85"/><circle cx="493.9" cy="126.7" r="1.85"/><circle cx="499.0" cy="127.6" r="1.85"/><circle cx="493.3" cy="127.4" r="1.85"/><circle cx="504.5" cy="127.8" r="1.85"/><circle cx="503.6" cy="128.0" r="1.85"/><circle cx="496.3" cy="127.1" r="1.85"/><circle cx="499.4" cy="128.7" r="1.85"/><circle cx="504.5" cy="128.7" r="1.85"/><circle cx="500.9" cy="128.8" r="1.85"/><circle cx="498.6" cy="128.6" r="1.85"/><circle cx="493.5" cy="128.8" r="1.85"/><circle cx="495.8" cy="128.9" r="1.85"/><circle cx="496.4" cy="129.1" r="1.85"/><circle cx="495.7" cy="129.6" r="1.85"/><circle cx="501.1" cy="129.1" r="1.85"/><circle cx="493.5" cy="129.5" r="1.85"/><circle cx="499.7" cy="129.4" r="1.85"/><circle cx="499.5" cy="130.0" r="1.85"/><circle cx="496.0" cy="130.5" r="1.85"/><circle cx="503.8" cy="130.6" r="1.85"/><circle cx="502.9" cy="130.5" r="1.85"/><circle cx="495.2" cy="130.2" r="1.85"/><circle cx="503.8" cy="130.7" r="1.85"/><circle cx="492.3" cy="131.5" r="1.85"/><circle cx="500.1" cy="131.4" r="1.85"/><circle cx="495.1" cy="131.7" r="1.85"/><circle cx="503.0" cy="131.2" r="1.85"/><circle cx="492.5" cy="131.3" r="1.85"/><circle cx="497.1" cy="131.7" r="1.85"/><circle cx="501.3" cy="132.7" r="1.85"/><circle cx="497.7" cy="132.2" r="1.85"/><circle cx="503.4" cy="132.3" r="1.85"/><circle cx="501.6" cy="132.2" r="1.85"/><circle cx="494.3" cy="132.8" r="1.85"/><circle cx="495.2" cy="133.0" r="1.85"/><circle cx="493.5" cy="133.2" r="1.85"/><circle cx="496.3" cy="133.7" r="1.85"/><circle cx="503.0" cy="133.1" r="1.85"/><circle cx="496.0" cy="133.2" r="1.85"/><circle cx="503.3" cy="133.1" r="1.85"/><circle cx="491.8" cy="133.1" r="1.85"/><circle cx="502.2" cy="134.9" r="1.85"/><circle cx="500.1" cy="135.0" r="1.85"/><circle cx="502.6" cy="134.3" r="1.85"/><circle cx="493.0" cy="134.9" r="1.85"/><circle cx="500.2" cy="134.0" r="1.85"/><circle cx="499.2" cy="134.4" r="1.85"/><circle cx="494.5" cy="135.2" r="1.85"/><circle cx="490.2" cy="135.3" r="1.85"/><circle cx="494.8" cy="136.0" r="1.85"/><circle cx="491.8" cy="136.0" r="1.85"/><circle cx="492.9" cy="135.4" r="1.85"/><circle cx="501.0" cy="135.8" r="1.85"/><circle cx="490.2" cy="136.5" r="1.85"/><circle cx="494.6" cy="136.9" r="1.85"/><circle cx="492.2" cy="136.4" r="1.85"/><circle cx="501.8" cy="136.0" r="1.85"/><circle cx="495.2" cy="136.8" r="1.85"/><circle cx="500.0" cy="136.0" r="1.85"/><circle cx="489.7" cy="137.9" r="1.85"/><circle cx="492.5" cy="137.7" r="1.85"/><circle cx="501.6" cy="137.3" r="1.85"/><circle cx="492.7" cy="138.0" r="1.85"/><circle cx="497.6" cy="137.3" r="1.85"/><circle cx="499.0" cy="137.3" r="1.85"/><circle cx="492.8" cy="137.0" r="1.85"/><circle cx="501.7" cy="138.6" r="1.85"/><circle cx="502.1" cy="138.0" r="1.85"/><circle cx="491.6" cy="138.5" r="1.85"/><circle cx="502.3" cy="139.0" r="1.85"/><circle cx="493.9" cy="138.3" r="1.85"/><circle cx="494.5" cy="138.5" r="1.85"/><circle cx="490.3" cy="139.8" r="1.85"/><circle cx="498.8" cy="139.8" r="1.85"/><circle cx="499.3" cy="139.6" r="1.85"/><circle cx="492.5" cy="139.3" r="1.85"/><circle cx="493.0" cy="139.8" r="1.85"/><circle cx="488.7" cy="139.2" r="1.85"/><circle cx="490.9" cy="140.1" r="1.85"/><circle cx="487.6" cy="140.6" r="1.85"/><circle cx="492.2" cy="141.0" r="1.85"/><circle cx="501.0" cy="141.0" r="1.85"/><circle cx="491.2" cy="140.1" r="1.85"/><circle cx="488.6" cy="140.5" r="1.85"/><circle cx="498.2" cy="140.4" r="1.85"/><circle cx="493.6" cy="141.6" r="1.85"/><circle cx="497.8" cy="141.7" r="1.85"/><circle cx="500.5" cy="141.7" r="1.85"/><circle cx="488.9" cy="141.8" r="1.85"/><circle cx="491.6" cy="141.6" r="1.85"/><circle cx="492.9" cy="141.7" r="1.85"/><circle cx="490.1" cy="141.2" r="1.85"/><circle cx="490.8" cy="141.2" r="1.85"/><circle cx="496.3" cy="142.3" r="1.85"/><circle cx="493.3" cy="143.0" r="1.85"/><circle cx="495.1" cy="142.2" r="1.85"/><circle cx="500.1" cy="142.7" r="1.85"/><circle cx="503.1" cy="142.1" r="1.85"/><circle cx="494.6" cy="142.8" r="1.85"/><circle cx="500.6" cy="142.9" r="1.85"/><circle cx="491.4" cy="143.1" r="1.85"/><circle cx="489.7" cy="144.0" r="1.85"/><circle cx="496.2" cy="143.9" r="1.85"/><circle cx="492.7" cy="143.9" r="1.85"/><circle cx="494.0" cy="143.3" r="1.85"/><circle cx="499.5" cy="143.9" r="1.85"/><circle cx="488.3" cy="143.6" r="1.85"/><circle cx="496.8" cy="143.2" r="1.85"/><circle cx="488.6" cy="144.2" r="1.85"/><circle cx="490.5" cy="144.6" r="1.85"/><circle cx="497.1" cy="144.2" r="1.85"/><circle cx="486.4" cy="144.3" r="1.85"/><circle cx="497.5" cy="144.2" r="1.85"/><circle cx="491.4" cy="144.2" r="1.85"/><circle cx="499.5" cy="144.5" r="1.85"/><circle cx="487.3" cy="144.1" r="1.85"/><circle cx="495.1" cy="145.6" r="1.85"/><circle cx="487.5" cy="145.2" r="1.85"/><circle cx="497.5" cy="145.4" r="1.85"/><circle cx="490.7" cy="145.3" r="1.85"/><circle cx="501.8" cy="145.3" r="1.85"/><circle cx="495.4" cy="145.4" r="1.85"/><circle cx="492.9" cy="145.9" r="1.85"/><circle cx="502.5" cy="145.4" r="1.85"/><circle cx="497.7" cy="146.2" r="1.85"/><circle cx="485.7" cy="146.9" r="1.85"/><circle cx="492.7" cy="146.8" r="1.85"/><circle cx="492.4" cy="146.9" r="1.85"/><circle cx="493.3" cy="146.2" r="1.85"/><circle cx="485.9" cy="146.6" r="1.85"/><circle cx="496.3" cy="146.9" r="1.85"/><circle cx="487.1" cy="146.6" r="1.85"/><circle cx="494.0" cy="147.1" r="1.85"/><circle cx="490.3" cy="147.5" r="1.85"/><circle cx="501.0" cy="147.1" r="1.85"/><circle cx="493.7" cy="147.8" r="1.85"/><circle cx="501.7" cy="147.2" r="1.85"/><circle cx="487.7" cy="147.9" r="1.85"/><circle cx="501.9" cy="147.5" r="1.85"/><circle cx="486.4" cy="147.9" r="1.85"/><circle cx="501.0" cy="148.6" r="1.85"/><circle cx="499.6" cy="148.2" r="1.85"/><circle cx="499.0" cy="148.2" r="1.85"/><circle cx="492.5" cy="148.8" r="1.85"/><circle cx="499.7" cy="148.2" r="1.85"/><circle cx="489.3" cy="148.4" r="1.85"/><circle cx="494.4" cy="148.4" r="1.85"/><circle cx="487.7" cy="148.2" r="1.85"/><circle cx="501.2" cy="149.0" r="1.85"/><circle cx="495.4" cy="149.8" r="1.85"/><circle cx="486.4" cy="149.8" r="1.85"/><circle cx="487.8" cy="149.6" r="1.85"/><circle cx="495.2" cy="149.6" r="1.85"/><circle cx="491.0" cy="149.4" r="1.85"/><circle cx="495.8" cy="149.4" r="1.85"/><circle cx="497.1" cy="149.4" r="1.85"/><circle cx="486.2" cy="150.6" r="1.85"/><circle cx="494.2" cy="150.2" r="1.85"/><circle cx="498.9" cy="150.8" r="1.85"/><circle cx="493.7" cy="150.2" r="1.85"/><circle cx="494.0" cy="150.1" r="1.85"/><circle cx="488.0" cy="150.4" r="1.85"/><circle cx="487.4" cy="150.4" r="1.85"/><circle cx="494.6" cy="150.0" r="1.85"/><circle cx="487.3" cy="151.7" r="1.85"/><circle cx="499.0" cy="151.5" r="1.85"/><circle cx="486.8" cy="151.5" r="1.85"/><circle cx="492.3" cy="152.0" r="1.85"/><circle cx="488.2" cy="151.9" r="1.85"/><circle cx="502.7" cy="151.7" r="1.85"/><circle cx="499.7" cy="151.2" r="1.85"/><circle cx="494.1" cy="153.0" r="1.85"/><circle cx="501.2" cy="152.2" r="1.85"/><circle cx="499.1" cy="152.9" r="1.85"/><circle cx="487.0" cy="152.4" r="1.85"/><circle cx="498.5" cy="152.2" r="1.85"/><circle cx="500.9" cy="152.3" r="1.85"/><circle cx="499.5" cy="152.1" r="1.85"/><circle cx="501.1" cy="153.2" r="1.85"/><circle cx="490.3" cy="153.5" r="1.85"/><circle cx="491.2" cy="153.0" r="1.85"/><circle cx="489.0" cy="153.2" r="1.85"/><circle cx="501.4" cy="153.7" r="1.85"/><circle cx="500.7" cy="153.2" r="1.85"/><circle cx="498.9" cy="153.1" r="1.85"/><circle cx="496.3" cy="154.4" r="1.85"/><circle cx="500.1" cy="154.6" r="1.85"/><circle cx="495.4" cy="154.9" r="1.85"/><circle cx="487.7" cy="155.0" r="1.85"/><circle cx="496.2" cy="154.4" r="1.85"/><circle cx="498.9" cy="154.3" r="1.85"/><circle cx="502.0" cy="154.6" r="1.85"/><circle cx="498.3" cy="155.4" r="1.85"/><circle cx="488.9" cy="155.7" r="1.85"/><circle cx="486.8" cy="155.8" r="1.85"/><circle cx="490.1" cy="155.6" r="1.85"/><circle cx="501.7" cy="155.6" r="1.85"/><circle cx="496.6" cy="155.3" r="1.85"/><circle cx="486.1" cy="155.0" r="1.85"/><circle cx="495.8" cy="156.4" r="1.85"/><circle cx="494.2" cy="156.9" r="1.85"/><circle cx="488.2" cy="156.2" r="1.85"/><circle cx="496.4" cy="156.0" r="1.85"/><circle cx="486.1" cy="156.4" r="1.85"/><circle cx="487.7" cy="156.4" r="1.85"/><circle cx="489.6" cy="156.6" r="1.85"/><circle cx="489.3" cy="157.6" r="1.85"/><circle cx="493.6" cy="157.1" r="1.85"/><circle cx="501.0" cy="157.2" r="1.85"/><circle cx="488.4" cy="157.1" r="1.85"/><circle cx="496.2" cy="157.9" r="1.85"/><circle cx="498.5" cy="157.4" r="1.85"/><circle cx="490.2" cy="157.0" r="1.85"/><circle cx="495.0" cy="158.4" r="1.85"/><circle cx="496.4" cy="158.4" r="1.85"/><circle cx="501.1" cy="158.7" r="1.85"/><circle cx="489.9" cy="158.9" r="1.85"/><circle cx="486.6" cy="158.5" r="1.85"/><circle cx="492.5" cy="158.2" r="1.85"/><circle cx="486.8" cy="158.8" r="1.85"/><circle cx="494.8" cy="159.9" r="1.85"/><circle cx="488.1" cy="159.2" r="1.85"/><circle cx="495.8" cy="159.5" r="1.85"/><circle cx="496.3" cy="159.8" r="1.85"/><circle cx="488.7" cy="159.3" r="1.85"/><circle cx="490.7" cy="159.0" r="1.85"/><circle cx="500.4" cy="159.8" r="1.85"/><circle cx="497.5" cy="159.0" r="1.85"/><circle cx="498.1" cy="160.5" r="1.85"/><circle cx="498.0" cy="160.5" r="1.85"/><circle cx="489.5" cy="160.1" r="1.85"/><circle cx="489.6" cy="160.0" r="1.85"/><circle cx="491.3" cy="160.7" r="1.85"/><circle cx="497.2" cy="160.8" r="1.85"/><circle cx="497.5" cy="160.3" r="1.85"/><circle cx="492.9" cy="161.8" r="1.85"/><circle cx="494.4" cy="161.3" r="1.85"/><circle cx="496.4" cy="162.0" r="1.85"/><circle cx="489.3" cy="161.9" r="1.85"/><circle cx="485.9" cy="161.3" r="1.85"/><circle cx="489.6" cy="161.7" r="1.85"/><circle cx="501.4" cy="161.7" r="1.85"/><circle cx="500.4" cy="162.3" r="1.85"/><circle cx="489.6" cy="162.9" r="1.85"/><circle cx="496.2" cy="162.7" r="1.85"/><circle cx="496.8" cy="163.0" r="1.85"/><circle cx="493.5" cy="162.8" r="1.85"/><circle cx="497.3" cy="162.9" r="1.85"/><circle cx="492.9" cy="162.7" r="1.85"/><circle cx="495.2" cy="162.3" r="1.85"/><circle cx="496.0" cy="163.1" r="1.85"/><circle cx="501.0" cy="163.1" r="1.85"/><circle cx="485.9" cy="163.1" r="1.85"/><circle cx="501.3" cy="163.3" r="1.85"/><circle cx="487.8" cy="163.0" r="1.85"/><circle cx="486.1" cy="163.7" r="1.85"/><circle cx="496.2" cy="163.7" r="1.85"/><circle cx="498.0" cy="163.1" r="1.85"/><circle cx="491.5" cy="164.8" r="1.85"/><circle cx="499.4" cy="164.9" r="1.85"/><circle cx="486.3" cy="164.9" r="1.85"/><circle cx="501.0" cy="164.9" r="1.85"/><circle cx="487.1" cy="164.2" r="1.85"/><circle cx="487.1" cy="164.0" r="1.85"/><circle cx="499.9" cy="164.8" r="1.85"/><circle cx="496.2" cy="164.8" r="1.85"/><circle cx="490.0" cy="165.1" r="1.85"/><circle cx="486.7" cy="165.8" r="1.85"/><circle cx="488.6" cy="165.3" r="1.85"/><circle cx="492.4" cy="165.0" r="1.85"/><circle cx="489.5" cy="165.3" r="1.85"/><circle cx="497.5" cy="165.4" r="1.85"/><circle cx="490.6" cy="166.0" r="1.85"/><circle cx="493.8" cy="165.9" r="1.85"/><circle cx="485.3" cy="166.4" r="1.85"/><circle cx="492.5" cy="166.8" r="1.85"/><circle cx="490.9" cy="166.7" r="1.85"/><circle cx="494.3" cy="166.2" r="1.85"/><circle cx="500.1" cy="166.1" r="1.85"/><circle cx="499.3" cy="166.2" r="1.85"/><circle cx="484.8" cy="166.2" r="1.85"/><circle cx="498.3" cy="167.0" r="1.85"/><circle cx="493.4" cy="167.5" r="1.85"/><circle cx="498.9" cy="167.2" r="1.85"/><circle cx="493.5" cy="167.3" r="1.85"/><circle cx="499.5" cy="167.3" r="1.85"/><circle cx="501.5" cy="167.3" r="1.85"/><circle cx="488.4" cy="167.7" r="1.85"/><circle cx="493.5" cy="167.1" r="1.85"/><circle cx="496.0" cy="167.1" r="1.85"/><circle cx="498.7" cy="167.7" r="1.85"/><circle cx="495.7" cy="168.4" r="1.85"/><circle cx="491.6" cy="168.4" r="1.85"/><circle cx="500.4" cy="168.1" r="1.85"/><circle cx="500.4" cy="168.0" r="1.85"/><circle cx="488.1" cy="168.3" r="1.85"/><circle cx="500.6" cy="168.5" r="1.85"/><circle cx="491.2" cy="168.9" r="1.85"/><circle cx="488.6" cy="168.5" r="1.85"/><circle cx="497.8" cy="169.8" r="1.85"/><circle cx="495.8" cy="169.3" r="1.85"/><circle cx="490.1" cy="169.2" r="1.85"/><circle cx="499.4" cy="169.7" r="1.85"/><circle cx="497.6" cy="169.2" r="1.85"/><circle cx="492.1" cy="169.8" r="1.85"/><circle cx="494.6" cy="169.1" r="1.85"/><circle cx="492.5" cy="169.9" r="1.85"/><circle cx="487.4" cy="170.3" r="1.85"/><circle cx="496.7" cy="170.8" r="1.85"/><circle cx="486.8" cy="170.2" r="1.85"/><circle cx="488.5" cy="170.3" r="1.85"/><circle cx="493.4" cy="170.2" r="1.85"/><circle cx="489.9" cy="170.2" r="1.85"/><circle cx="501.6" cy="170.7" r="1.85"/><circle cx="485.8" cy="171.0" r="1.85"/><circle cx="490.7" cy="172.0" r="1.85"/><circle cx="498.1" cy="171.7" r="1.85"/><circle cx="491.6" cy="171.2" r="1.85"/><circle cx="495.3" cy="171.1" r="1.85"/><circle cx="487.5" cy="171.4" r="1.85"/><circle cx="484.4" cy="171.4" r="1.85"/><circle cx="498.0" cy="171.7" r="1.85"/><circle cx="492.8" cy="171.6" r="1.85"/><circle cx="486.2" cy="172.6" r="1.85"/><circle cx="490.9" cy="172.7" r="1.85"/><circle cx="499.9" cy="172.4" r="1.85"/><circle cx="493.9" cy="172.7" r="1.85"/><circle cx="491.2" cy="172.2" r="1.85"/><circle cx="496.6" cy="172.9" r="1.85"/><circle cx="497.5" cy="172.7" r="1.85"/><circle cx="498.9" cy="172.7" r="1.85"/><circle cx="491.6" cy="173.3" r="1.85"/><circle cx="494.7" cy="173.1" r="1.85"/><circle cx="491.0" cy="173.8" r="1.85"/><circle cx="496.2" cy="173.6" r="1.85"/><circle cx="487.9" cy="173.4" r="1.85"/><circle cx="491.6" cy="173.6" r="1.85"/><circle cx="490.8" cy="173.7" r="1.85"/><circle cx="500.1" cy="173.2" r="1.85"/><circle cx="497.3" cy="174.4" r="1.85"/><circle cx="492.1" cy="175.0" r="1.85"/><circle cx="484.0" cy="174.5" r="1.85"/><circle cx="486.2" cy="174.8" r="1.85"/><circle cx="500.2" cy="174.5" r="1.85"/><circle cx="485.1" cy="174.6" r="1.85"/><circle cx="493.0" cy="174.7" r="1.85"/><circle cx="492.5" cy="174.6" r="1.85"/><circle cx="492.7" cy="175.4" r="1.85"/><circle cx="500.3" cy="175.2" r="1.85"/><circle cx="495.6" cy="175.4" r="1.85"/><circle cx="497.0" cy="175.1" r="1.85"/><circle cx="500.9" cy="175.4" r="1.85"/><circle cx="484.4" cy="175.3" r="1.85"/><circle cx="490.5" cy="175.0" r="1.85"/><circle cx="490.8" cy="175.4" r="1.85"/><circle cx="489.7" cy="176.3" r="1.85"/><circle cx="487.4" cy="176.7" r="1.85"/><circle cx="500.1" cy="176.5" r="1.85"/><circle cx="487.3" cy="176.8" r="1.85"/><circle cx="490.4" cy="176.2" r="1.85"/><circle cx="485.7" cy="176.8" r="1.85"/><circle cx="497.8" cy="176.6" r="1.85"/><circle cx="491.8" cy="176.6" r="1.85"/><circle cx="500.5" cy="177.4" r="1.85"/><circle cx="494.7" cy="177.8" r="1.85"/><circle cx="497.9" cy="177.5" r="1.85"/><circle cx="488.7" cy="177.5" r="1.85"/><circle cx="485.7" cy="177.8" r="1.85"/><circle cx="489.7" cy="177.9" r="1.85"/><circle cx="488.2" cy="177.4" r="1.85"/><circle cx="488.0" cy="177.4" r="1.85"/><circle cx="483.8" cy="178.7" r="1.85"/><circle cx="488.6" cy="178.2" r="1.85"/><circle cx="489.0" cy="178.5" r="1.85"/><circle cx="491.2" cy="178.6" r="1.85"/><circle cx="495.2" cy="178.4" r="1.85"/><circle cx="499.8" cy="178.9" r="1.85"/><circle cx="484.7" cy="178.8" r="1.85"/><circle cx="499.4" cy="178.8" r="1.85"/><circle cx="498.2" cy="179.6" r="1.85"/><circle cx="484.4" cy="179.0" r="1.85"/><circle cx="500.2" cy="179.7" r="1.85"/><circle cx="488.4" cy="179.1" r="1.85"/><circle cx="486.6" cy="179.2" r="1.85"/><circle cx="497.3" cy="179.3" r="1.85"/><circle cx="486.7" cy="179.9" r="1.85"/><circle cx="497.5" cy="179.2" r="1.85"/><circle cx="494.6" cy="180.8" r="1.85"/><circle cx="495.6" cy="180.9" r="1.85"/><circle cx="497.5" cy="180.8" r="1.85"/><circle cx="487.8" cy="180.7" r="1.85"/><circle cx="493.3" cy="180.7" r="1.85"/><circle cx="491.8" cy="180.9" r="1.85"/><circle cx="493.7" cy="180.3" r="1.85"/><circle cx="487.2" cy="181.5" r="1.85"/><circle cx="485.9" cy="181.5" r="1.85"/><circle cx="487.3" cy="181.5" r="1.85"/><circle cx="493.0" cy="181.5" r="1.85"/><circle cx="498.8" cy="181.0" r="1.85"/><circle cx="498.4" cy="181.5" r="1.85"/><circle cx="494.0" cy="181.7" r="1.85"/><circle cx="491.3" cy="182.4" r="1.85"/><circle cx="500.3" cy="182.1" r="1.85"/><circle cx="495.3" cy="182.6" r="1.85"/><circle cx="485.9" cy="182.6" r="1.85"/><circle cx="496.0" cy="182.9" r="1.85"/><circle cx="490.6" cy="183.0" r="1.85"/><circle cx="493.4" cy="182.5" r="1.85"/><circle cx="486.4" cy="183.7" r="1.85"/><circle cx="495.3" cy="183.3" r="1.85"/><circle cx="498.8" cy="183.4" r="1.85"/><circle cx="493.0" cy="183.5" r="1.85"/><circle cx="497.5" cy="183.2" r="1.85"/><circle cx="492.4" cy="183.4" r="1.85"/><circle cx="498.3" cy="184.3" r="1.85"/><circle cx="498.3" cy="184.4" r="1.85"/><circle cx="493.6" cy="184.3" r="1.85"/><circle cx="493.6" cy="185.0" r="1.85"/><circle cx="495.8" cy="184.8" r="1.85"/><circle cx="491.1" cy="184.3" r="1.85"/><circle cx="490.6" cy="184.6" r="1.85"/><circle cx="497.7" cy="185.0" r="1.85"/><circle cx="496.8" cy="185.9" r="1.85"/><circle cx="494.3" cy="185.0" r="1.85"/><circle cx="490.8" cy="185.0" r="1.85"/><circle cx="489.2" cy="185.9" r="1.85"/><circle cx="495.2" cy="185.7" r="1.85"/><circle cx="499.4" cy="186.6" r="1.85"/><circle cx="495.4" cy="186.6" r="1.85"/><circle cx="496.5" cy="186.6" r="1.85"/><circle cx="496.3" cy="186.2" r="1.85"/><circle cx="496.1" cy="186.5" r="1.85"/><circle cx="497.4" cy="186.1" r="1.85"/><circle cx="487.6" cy="187.8" r="1.85"/><circle cx="499.5" cy="187.7" r="1.85"/><circle cx="492.1" cy="187.8" r="1.85"/><circle cx="497.7" cy="187.6" r="1.85"/><circle cx="490.6" cy="187.3" r="1.85"/><circle cx="492.8" cy="187.3" r="1.85"/><circle cx="495.8" cy="188.9" r="1.85"/><circle cx="488.1" cy="188.6" r="1.85"/><circle cx="487.9" cy="188.1" r="1.85"/><circle cx="498.0" cy="188.6" r="1.85"/><circle cx="499.5" cy="188.4" r="1.85"/><circle cx="487.5" cy="188.4" r="1.85"/><circle cx="499.6" cy="190.0" r="1.85"/><circle cx="493.8" cy="189.4" r="1.85"/><circle cx="489.1" cy="189.6" r="1.85"/><circle cx="490.5" cy="189.2" r="1.85"/><circle cx="488.0" cy="189.0" r="1.85"/><circle cx="489.8" cy="191.0" r="1.85"/><circle cx="489.4" cy="190.9" r="1.85"/><circle cx="489.9" cy="190.0" r="1.85"/><circle cx="496.7" cy="190.2" r="1.85"/><circle cx="491.0" cy="191.1" r="1.85"/><circle cx="497.3" cy="191.7" r="1.85"/><circle cx="498.1" cy="191.7" r="1.85"/><circle cx="495.7" cy="192.7" r="1.85"/><circle cx="494.2" cy="192.9" r="1.85"/><circle cx="492.2" cy="193.0" r="1.85"/><circle cx="491.1" cy="193.0" r="1.85"/><circle cx="496.9" cy="194.1" r="1.85"/><circle cx="475.8" cy="170.3" r="1.85"/><circle cx="475.5" cy="170.0" r="1.85"/><circle cx="478.2" cy="145.2" r="1.85"/><circle cx="482.8" cy="159.1" r="1.85"/><circle cx="481.1" cy="151.1" r="1.85"/><circle cx="482.1" cy="162.2" r="1.85"/><circle cx="481.8" cy="168.5" r="1.85"/><circle cx="477.0" cy="182.4" r="1.85"/><circle cx="478.7" cy="191.1" r="1.85"/><circle cx="481.1" cy="187.1" r="1.85"/><circle cx="484.0" cy="190.0" r="1.85"/><circle cx="488.0" cy="196.3" r="1.85"/><circle cx="490.3" cy="197.5" r="1.85"/><circle cx="493.2" cy="195.8" r="1.85"/><circle cx="491.5" cy="205.6" r="1.85"/><circle cx="481.6" cy="168.0" r="1.85"/><circle cx="482.2" cy="162.0" r="1.85"/><circle cx="481.2" cy="158.7" r="1.85"/><circle cx="489.4" cy="121.9" r="1.85"/><circle cx="488.4" cy="124.7" r="1.85"/><circle cx="487.7" cy="128.8" r="1.85"/><circle cx="492.9" cy="124.3" r="1.85"/><circle cx="484.7" cy="149.0" r="1.85"/><circle cx="483.7" cy="172.0" r="1.85"/><circle cx="485.7" cy="193.5" r="1.85"/><circle cx="496.7" cy="194.0" r="1.85"/></g>
<g fill="#ff0000" fill-opacity="0.38"><circle cx="333.6" cy="142.2" r="1.85"/><circle cx="335.8" cy="142.9" r="1.85"/><circle cx="332.9" cy="143.0" r="1.85"/><circle cx="335.0" cy="143.6" r="1.85"/><circle cx="332.4" cy="143.9" r="1.85"/><circle cx="337.9" cy="143.6" r="1.85"/><circle cx="336.5" cy="145.4" r="1.85"/><circle cx="336.0" cy="144.9" r="1.85"/><circle cx="339.5" cy="144.5" r="1.85"/><circle cx="338.5" cy="144.8" r="1.85"/><circle cx="331.4" cy="145.8" r="1.85"/><circle cx="338.2" cy="145.7" r="1.85"/><circle cx="335.9" cy="146.1" r="1.85"/><circle cx="333.9" cy="146.0" r="1.85"/><circle cx="330.9" cy="145.6" r="1.85"/><circle cx="336.8" cy="146.9" r="1.85"/><circle cx="332.9" cy="147.1" r="1.85"/><circle cx="334.4" cy="146.8" r="1.85"/><circle cx="338.1" cy="147.2" r="1.85"/><circle cx="332.1" cy="147.1" r="1.85"/><circle cx="339.0" cy="148.2" r="1.85"/><circle cx="332.1" cy="148.5" r="1.85"/><circle cx="330.1" cy="147.9" r="1.85"/><circle cx="337.6" cy="147.7" r="1.85"/><circle cx="334.5" cy="147.5" r="1.85"/><circle cx="336.6" cy="148.3" r="1.85"/><circle cx="339.1" cy="148.8" r="1.85"/><circle cx="336.8" cy="149.1" r="1.85"/><circle cx="335.4" cy="149.0" r="1.85"/><circle cx="338.7" cy="149.4" r="1.85"/><circle cx="334.0" cy="149.2" r="1.85"/><circle cx="328.8" cy="149.2" r="1.85"/><circle cx="340.6" cy="150.3" r="1.85"/><circle cx="331.1" cy="149.9" r="1.85"/><circle cx="336.2" cy="149.5" r="1.85"/><circle cx="333.5" cy="149.7" r="1.85"/><circle cx="328.8" cy="149.6" r="1.85"/><circle cx="337.6" cy="149.6" r="1.85"/><circle cx="332.1" cy="151.4" r="1.85"/><circle cx="327.6" cy="150.9" r="1.85"/><circle cx="334.3" cy="151.4" r="1.85"/><circle cx="338.1" cy="151.4" r="1.85"/><circle cx="330.5" cy="150.9" r="1.85"/><circle cx="331.6" cy="151.4" r="1.85"/><circle cx="340.1" cy="150.7" r="1.85"/><circle cx="329.4" cy="151.7" r="1.85"/><circle cx="333.1" cy="152.1" r="1.85"/><circle cx="329.9" cy="151.5" r="1.85"/><circle cx="332.2" cy="151.9" r="1.85"/><circle cx="334.3" cy="152.5" r="1.85"/><circle cx="336.2" cy="152.0" r="1.85"/><circle cx="335.1" cy="152.2" r="1.85"/><circle cx="339.2" cy="153.3" r="1.85"/><circle cx="338.8" cy="153.3" r="1.85"/><circle cx="331.5" cy="152.9" r="1.85"/><circle cx="327.1" cy="153.1" r="1.85"/><circle cx="326.4" cy="152.6" r="1.85"/><circle cx="328.7" cy="152.7" r="1.85"/><circle cx="330.7" cy="152.6" r="1.85"/><circle cx="325.5" cy="152.7" r="1.85"/><circle cx="330.8" cy="153.5" r="1.85"/><circle cx="338.8" cy="154.1" r="1.85"/><circle cx="327.5" cy="153.8" r="1.85"/><circle cx="330.6" cy="153.9" r="1.85"/><circle cx="327.1" cy="154.3" r="1.85"/><circle cx="340.7" cy="154.0" r="1.85"/><circle cx="332.7" cy="153.6" r="1.85"/><circle cx="326.7" cy="153.8" r="1.85"/><circle cx="338.1" cy="154.7" r="1.85"/><circle cx="325.2" cy="155.5" r="1.85"/><circle cx="333.3" cy="154.6" r="1.85"/><circle cx="333.5" cy="154.5" r="1.85"/><circle cx="333.3" cy="155.5" r="1.85"/><circle cx="338.7" cy="155.2" r="1.85"/><circle cx="329.0" cy="154.9" r="1.85"/><circle cx="327.5" cy="155.3" r="1.85"/><circle cx="337.4" cy="155.8" r="1.85"/><circle cx="328.2" cy="156.3" r="1.85"/><circle cx="340.8" cy="156.4" r="1.85"/><circle cx="337.8" cy="156.3" r="1.85"/><circle cx="336.7" cy="155.7" r="1.85"/><circle cx="333.1" cy="155.9" r="1.85"/><circle cx="325.0" cy="155.5" r="1.85"/><circle cx="329.1" cy="155.8" r="1.85"/><circle cx="340.4" cy="156.9" r="1.85"/><circle cx="340.0" cy="157.5" r="1.85"/><circle cx="340.3" cy="156.9" r="1.85"/><circle cx="328.0" cy="156.7" r="1.85"/><circle cx="327.6" cy="156.7" r="1.85"/><circle cx="334.8" cy="157.4" r="1.85"/><circle cx="338.4" cy="157.0" r="1.85"/><circle cx="335.3" cy="157.3" r="1.85"/><circle cx="335.6" cy="158.4" r="1.85"/><circle cx="337.7" cy="158.3" r="1.85"/><circle cx="332.5" cy="157.7" r="1.85"/><circle cx="337.8" cy="157.8" r="1.85"/><circle cx="338.0" cy="158.5" r="1.85"/><circle cx="331.1" cy="157.9" r="1.85"/><circle cx="340.5" cy="158.2" r="1.85"/><circle cx="327.2" cy="157.6" r="1.85"/><circle cx="326.9" cy="158.4" r="1.85"/><circle cx="326.8" cy="159.3" r="1.85"/><circle cx="341.4" cy="159.2" r="1.85"/><circle cx="330.4" cy="159.0" r="1.85"/><circle cx="326.6" cy="158.5" r="1.85"/><circle cx="341.2" cy="159.1" r="1.85"/><circle cx="333.5" cy="159.4" r="1.85"/><circle cx="331.8" cy="159.4" r="1.85"/><circle cx="338.7" cy="158.7" r="1.85"/><circle cx="329.8" cy="159.7" r="1.85"/><circle cx="335.1" cy="159.8" r="1.85"/><circle cx="332.0" cy="159.6" r="1.85"/><circle cx="340.9" cy="159.9" r="1.85"/><circle cx="332.7" cy="160.1" r="1.85"/><circle cx="340.8" cy="159.9" r="1.85"/><circle cx="341.0" cy="160.0" r="1.85"/><circle cx="334.1" cy="160.0" r="1.85"/><circle cx="324.8" cy="159.9" r="1.85"/><circle cx="324.8" cy="161.3" r="1.85"/><circle cx="327.9" cy="161.0" r="1.85"/><circle cx="338.2" cy="161.1" r="1.85"/><circle cx="330.8" cy="161.0" r="1.85"/><circle cx="335.0" cy="161.3" r="1.85"/><circle cx="326.7" cy="161.1" r="1.85"/><circle cx="329.3" cy="160.8" r="1.85"/><circle cx="339.1" cy="161.0" r="1.85"/><circle cx="335.1" cy="161.3" r="1.85"/><circle cx="333.7" cy="162.1" r="1.85"/><circle cx="334.9" cy="162.0" r="1.85"/><circle cx="338.4" cy="162.0" r="1.85"/><circle cx="335.4" cy="162.0" r="1.85"/><circle cx="343.1" cy="162.2" r="1.85"/><circle cx="341.9" cy="162.4" r="1.85"/><circle cx="330.2" cy="162.1" r="1.85"/><circle cx="343.1" cy="162.3" r="1.85"/><circle cx="327.9" cy="161.6" r="1.85"/><circle cx="327.3" cy="162.7" r="1.85"/><circle cx="327.3" cy="163.2" r="1.85"/><circle cx="341.0" cy="163.4" r="1.85"/><circle cx="328.9" cy="163.2" r="1.85"/><circle cx="338.6" cy="162.6" r="1.85"/><circle cx="342.9" cy="163.5" r="1.85"/><circle cx="330.1" cy="163.5" r="1.85"/><circle cx="333.5" cy="163.0" r="1.85"/><circle cx="344.9" cy="163.3" r="1.85"/><circle cx="335.0" cy="164.0" r="1.85"/><circle cx="333.2" cy="163.7" r="1.85"/><circle cx="332.9" cy="164.2" r="1.85"/><circle cx="327.2" cy="164.1" r="1.85"/><circle cx="335.2" cy="163.5" r="1.85"/><circle cx="333.1" cy="164.1" r="1.85"/><circle cx="336.5" cy="163.6" r="1.85"/><circle cx="345.5" cy="164.3" r="1.85"/><circle cx="345.3" cy="163.6" r="1.85"/><circle cx="328.4" cy="165.3" r="1.85"/><circle cx="332.8" cy="164.6" r="1.85"/><circle cx="335.6" cy="165.4" r="1.85"/><circle cx="343.1" cy="164.8" r="1.85"/><circle cx="330.5" cy="165.4" r="1.85"/><circle cx="338.4" cy="165.2" r="1.85"/><circle cx="329.4" cy="164.6" r="1.85"/><circle cx="340.6" cy="164.9" r="1.85"/><circle cx="329.1" cy="165.4" r="1.85"/><circle cx="343.4" cy="165.6" r="1.85"/><circle cx="344.5" cy="165.6" r="1.85"/><circle cx="344.6" cy="166.0" r="1.85"/><circle cx="334.9" cy="166.1" r="1.85"/><circle cx="345.8" cy="165.8" r="1.85"/><circle cx="331.1" cy="166.0" r="1.85"/><circle cx="333.1" cy="165.6" r="1.85"/><circle cx="331.7" cy="165.6" r="1.85"/><circle cx="332.4" cy="165.8" r="1.85"/><circle cx="343.4" cy="166.8" r="1.85"/><circle cx="338.7" cy="166.7" r="1.85"/><circle cx="335.9" cy="166.5" r="1.85"/><circle cx="334.2" cy="166.5" r="1.85"/><circle cx="342.9" cy="167.1" r="1.85"/><circle cx="333.1" cy="167.0" r="1.85"/><circle cx="346.5" cy="166.6" r="1.85"/><circle cx="344.4" cy="166.9" r="1.85"/><circle cx="338.6" cy="167.3" r="1.85"/><circle cx="339.6" cy="168.2" r="1.85"/><circle cx="347.9" cy="167.8" r="1.85"/><circle cx="345.3" cy="168.2" r="1.85"/><circle cx="341.9" cy="167.9" r="1.85"/><circle cx="336.8" cy="167.6" r="1.85"/><circle cx="333.1" cy="167.6" r="1.85"/><circle cx="343.7" cy="167.8" r="1.85"/><circle cx="333.6" cy="167.6" r="1.85"/><circle cx="346.5" cy="169.2" r="1.85"/><circle cx="336.6" cy="168.7" r="1.85"/><circle cx="336.8" cy="169.0" r="1.85"/><circle cx="334.5" cy="168.9" r="1.85"/><circle cx="336.3" cy="169.5" r="1.85"/><circle cx="348.2" cy="169.0" r="1.85"/><circle cx="336.0" cy="169.5" r="1.85"/><circle cx="337.1" cy="168.9" r="1.85"/><circle cx="339.3" cy="170.0" r="1.85"/><circle cx="341.2" cy="169.7" r="1.85"/><circle cx="341.2" cy="169.5" r="1.85"/><circle cx="337.4" cy="169.6" r="1.85"/><circle cx="339.6" cy="169.5" r="1.85"/><circle cx="333.6" cy="169.8" r="1.85"/><circle cx="336.9" cy="170.1" r="1.85"/><circle cx="341.6" cy="170.3" r="1.85"/><circle cx="345.2" cy="171.4" r="1.85"/><circle cx="340.3" cy="170.8" r="1.85"/><circle cx="349.3" cy="170.6" r="1.85"/><circle cx="345.4" cy="171.1" r="1.85"/><circle cx="335.2" cy="171.3" r="1.85"/><circle cx="347.9" cy="171.1" r="1.85"/><circle cx="345.5" cy="171.3" r="1.85"/><circle cx="343.1" cy="172.0" r="1.85"/><circle cx="347.5" cy="172.3" r="1.85"/><circle cx="347.4" cy="172.1" r="1.85"/><circle cx="348.3" cy="172.2" r="1.85"/><circle cx="345.5" cy="171.7" r="1.85"/><circle cx="336.2" cy="171.6" r="1.85"/><circle cx="340.8" cy="171.6" r="1.85"/><circle cx="344.3" cy="173.1" r="1.85"/><circle cx="345.2" cy="173.2" r="1.85"/><circle cx="343.4" cy="172.5" r="1.85"/><circle cx="347.4" cy="173.2" r="1.85"/><circle cx="343.6" cy="173.0" r="1.85"/><circle cx="345.6" cy="172.6" r="1.85"/><circle cx="341.3" cy="173.6" r="1.85"/><circle cx="341.5" cy="174.2" r="1.85"/><circle cx="340.8" cy="174.2" r="1.85"/><circle cx="349.9" cy="174.0" r="1.85"/><circle cx="342.9" cy="174.0" r="1.85"/><circle cx="347.8" cy="175.1" r="1.85"/><circle cx="346.5" cy="174.6" r="1.85"/><circle cx="341.3" cy="174.8" r="1.85"/><circle cx="347.6" cy="174.8" r="1.85"/><circle cx="345.7" cy="174.5" r="1.85"/><circle cx="343.5" cy="176.2" r="1.85"/><circle cx="347.4" cy="176.2" r="1.85"/><circle cx="343.7" cy="176.0" r="1.85"/><circle cx="345.3" cy="176.0" r="1.85"/><circle cx="342.2" cy="176.4" r="1.85"/><circle cx="349.9" cy="177.4" r="1.85"/><circle cx="342.6" cy="177.0" r="1.85"/><circle cx="348.7" cy="177.5" r="1.85"/><circle cx="345.9" cy="176.8" r="1.85"/><circle cx="349.5" cy="177.7" r="1.85"/><circle cx="347.3" cy="177.6" r="1.85"/><circle cx="347.0" cy="178.5" r="1.85"/><circle cx="348.8" cy="179.0" r="1.85"/><circle cx="349.1" cy="179.2" r="1.85"/><circle cx="338.2" cy="93.8" r="1.85"/><circle cx="340.0" cy="95.0" r="1.85"/><circle cx="342.3" cy="98.5" r="1.85"/><circle cx="336.1" cy="101.1" r="1.85"/><circle cx="340.8" cy="103.1" r="1.85"/><circle cx="342.6" cy="103.9" r="1.85"/><circle cx="337.8" cy="107.6" r="1.85"/><circle cx="338.6" cy="108.0" r="1.85"/><circle cx="339.4" cy="107.9" r="1.85"/><circle cx="340.0" cy="108.3" r="1.85"/><circle cx="343.2" cy="110.7" r="1.85"/><circle cx="343.6" cy="111.1" r="1.85"/><circle cx="332.8" cy="111.0" r="1.85"/><circle cx="330.1" cy="118.2" r="1.85"/><circle cx="334.2" cy="120.8" r="1.85"/><circle cx="334.8" cy="121.2" r="1.85"/><circle cx="335.4" cy="121.6" r="1.85"/><circle cx="336.0" cy="122.0" r="1.85"/><circle cx="336.6" cy="122.4" r="1.85"/><circle cx="337.2" cy="122.9" r="1.85"/><circle cx="334.6" cy="122.2" r="1.85"/><circle cx="335.8" cy="123.0" r="1.85"/><circle cx="336.8" cy="123.6" r="1.85"/><circle cx="335.2" cy="120.9" r="1.85"/><circle cx="336.4" cy="121.3" r="1.85"/><circle cx="335.5" cy="122.6" r="1.85"/><circle cx="338.4" cy="123.3" r="1.85"/><circle cx="330.4" cy="127.5" r="1.85"/><circle cx="336.6" cy="127.2" r="1.85"/><circle cx="333.2" cy="130.6" r="1.85"/><circle cx="336.9" cy="130.9" r="1.85"/><circle cx="336.6" cy="132.4" r="1.85"/><circle cx="331.6" cy="135.2" r="1.85"/><circle cx="332.0" cy="135.5" r="1.85"/><circle cx="333.5" cy="138.6" r="1.85"/><circle cx="334.7" cy="139.2" r="1.85"/><circle cx="335.7" cy="141.7" r="1.85"/><circle cx="326.4" cy="145.1" r="1.85"/><circle cx="344.9" cy="144.8" r="1.85"/><circle cx="322.0" cy="149.7" r="1.85"/><circle cx="323.2" cy="151.0" r="1.85"/><circle cx="326.0" cy="145.6" r="1.85"/><circle cx="327.2" cy="147.0" r="1.85"/><circle cx="322.7" cy="152.2" r="1.85"/><circle cx="324.2" cy="148.6" r="1.85"/><circle cx="346.3" cy="161.3" r="1.85"/><circle cx="347.5" cy="157.8" r="1.85"/><circle cx="351.0" cy="157.8" r="1.85"/><circle cx="349.8" cy="167.7" r="1.85"/><circle cx="348.2" cy="160.0" r="1.85"/><circle cx="351.2" cy="157.5" r="1.85"/><circle cx="343.2" cy="152.0" r="1.85"/><circle cx="344.7" cy="158.5" r="1.85"/><circle cx="351.7" cy="170.0" r="1.85"/><circle cx="352.2" cy="174.5" r="1.85"/><circle cx="344.6" cy="23.4" r="1.85"/><circle cx="344.8" cy="23.3" r="1.85"/><circle cx="344.5" cy="23.6" r="1.85"/><circle cx="354.1" cy="116.4" r="1.85"/><circle cx="356.8" cy="118.9" r="1.85"/><circle cx="349.5" cy="121.6" r="1.85"/><circle cx="350.4" cy="129.5" r="1.85"/><circle cx="326.4" cy="128.0" r="1.85"/><circle cx="348.7" cy="153.7" r="1.85"/><circle cx="362.0" cy="156.6" r="1.85"/><circle cx="331.8" cy="150.3" r="1.85"/><circle cx="340.0" cy="150.3" r="1.85"/><circle cx="338.8" cy="167.1" r="1.85"/><circle cx="346.9" cy="168.8" r="1.85"/></g>
<g fill="#008000" fill-opacity="0.38"><circle cx="369.7" cy="109.7" r="1.85"/><circle cx="376.8" cy="116.8" r="1.85"/><circle cx="371.1" cy="150.6" r="1.85"/><circle cx="390.0" cy="170.3" r="1.85"/><circle cx="410.3" cy="152.1" r="1.85"/><circle cx="411.6" cy="176.6" r="1.85"/><circle cx="428.0" cy="183.4" r="1.85"/><circle cx="404.3" cy="165.8" r="1.85"/></g>
<rect x="313.00" y="14.20" width="202.20" height="200.45" class="f"/>
<line x1="341.59" y1="214.65" x2="341.59" y2="217.65" class="t"/>
<text x="341.59" y="224.85" class="tl" text-anchor="middle">−20</text>
<line x1="396.63" y1="214.65" x2="396.63" y2="217.65" class="t"/>
<text x="396.63" y="224.85" class="tl" text-anchor="middle">0</text>
<line x1="451.67" y1="214.65" x2="451.67" y2="217.65" class="t"/>
<text x="451.67" y="224.85" class="tl" text-anchor="middle">20</text>
<line x1="506.71" y1="214.65" x2="506.71" y2="217.65" class="t"/>
<text x="506.71" y="224.85" class="tl" text-anchor="middle">40</text>
<line x1="310.00" y1="192.10" x2="313.00" y2="192.10" class="t"/>
<text x="310.00" y="195.40" class="tl" text-anchor="end">−10</text>
<line x1="310.00" y1="159.15" x2="313.00" y2="159.15" class="t"/>
<text x="310.00" y="162.45" class="tl" text-anchor="end">0</text>
<line x1="310.00" y1="126.20" x2="313.00" y2="126.20" class="t"/>
<text x="310.00" y="129.50" class="tl" text-anchor="end">10</text>
<line x1="310.00" y1="93.25" x2="313.00" y2="93.25" class="t"/>
<text x="310.00" y="96.55" class="tl" text-anchor="end">20</text>
<line x1="310.00" y1="60.30" x2="313.00" y2="60.30" class="t"/>
<text x="310.00" y="63.60" class="tl" text-anchor="end">30</text>
<line x1="310.00" y1="27.35" x2="313.00" y2="27.35" class="t"/>
<text x="310.00" y="30.65" class="tl" text-anchor="end">40</text>
<text x="414.10" y="11.40" class="ti" text-anchor="middle" textLength="92.4" lengthAdjust="spacingAndGlyphs">2 component PCA</text>
<text x="414.10" y="235.60" class="al" text-anchor="middle" textLength="100" lengthAdjust="spacingAndGlyphs">Principal Component 1</text>
<text transform="translate(291.60,114.42) rotate(-90)" class="al" text-anchor="middle" textLength="99.6" lengthAdjust="spacingAndGlyphs">Principal Component 2</text>
<rect x="447.20" y="18.70" width="63.40" height="40.15" rx="1.8" fill="#fff" fill-opacity="0.93" stroke="#d6d6d6" stroke-width="0.8"/>
<circle cx="459.80" cy="26.10" r="2.1" fill="#0000ff" fill-opacity="0.3"/>
<text x="476.00" y="29.30" class="lg" textLength="30.3" lengthAdjust="spacingAndGlyphs">Cluster1</text>
<circle cx="459.80" cy="38.95" r="2.1" fill="#ff0000" fill-opacity="0.3"/>
<text x="476.00" y="42.15" class="lg" textLength="30.3" lengthAdjust="spacingAndGlyphs">Cluster2</text>
<circle cx="459.80" cy="51.80" r="2.1" fill="#008000" fill-opacity="0.3"/>
<text x="476.00" y="55.00" class="lg" textLength="30.3" lengthAdjust="spacingAndGlyphs">Cluster3</text>
<text x="398.00" y="263.00" class="cap" text-anchor="middle" textLength="47.3" lengthAdjust="spacingAndGlyphs">(<tspan style="stroke-width:0.5">b</tspan>) K = 3.</text>
<clipPath id="clcL0"><rect x="0.0" y="282.6" width="58.0" height="280"/></clipPath><polygon points="53.1,426.6 52.8,427.1 52.4,427.6 52.0,428.1 51.6,428.6 51.3,429.1 50.9,429.6 50.5,430.1 50.1,430.6 49.8,431.1 49.4,431.6 49.0,432.1 48.6,432.6 48.3,433.1 47.9,433.6 47.6,434.1 47.4,434.6 47.1,435.1 46.9,435.6 46.7,436.1 46.5,436.6 46.4,437.1 46.2,437.6 46.1,438.1 45.9,438.6 45.8,439.1 45.7,439.6 45.7,440.1 45.7,440.6 45.7,441.1 45.7,441.6 45.8,442.1 45.9,442.6 46.0,443.1 46.1,443.6 46.4,444.1 46.7,444.6 47.0,445.1 47.3,445.6 47.8,446.1 48.2,446.6 48.6,447.1 49.1,447.6 49.6,448.1 50.1,448.6 50.6,449.1 51.1,449.6 51.6,450.1 52.2,450.6 52.8,451.1 53.3,451.6 53.9,452.1 54.6,452.6 55.2,453.1 55.9,453.6 56.5,454.1 57.1,454.6 57.8,455.1 58.4,455.6 59.1,456.1 59.8,456.6 60.4,457.1 61.1,457.6 61.8,458.1 62.5,458.6 63.2,459.1 63.9,459.6 64.6,460.1 65.2,460.6 65.9,461.1 66.7,461.6 67.8,461.6 67.9,461.1 68.0,460.6 68.2,460.1 68.3,459.6 68.3,459.1 68.4,458.6 68.5,458.1 68.5,457.6 68.5,457.1 68.4,456.6 68.3,456.1 68.3,455.6 68.1,455.1 68.0,454.6 67.8,454.1 67.7,453.6 67.5,453.1 67.3,452.6 67.1,452.1 66.9,451.6 66.6,451.1 66.4,450.6 66.1,450.1 65.9,449.6 65.6,449.1 65.3,448.6 65.0,448.1 64.7,447.6 64.3,447.1 64.0,446.6 63.6,446.1 63.3,445.6 62.9,445.1 62.4,444.6 62.0,444.1 61.5,443.6 61.1,443.1 60.7,442.6 60.3,442.1 59.9,441.6 59.8,441.1 59.6,440.6 59.5,440.1 59.3,439.6 59.3,439.1 59.2,438.6 59.1,438.1 59.1,437.6 59.1,437.1 59.0,436.6 58.9,436.1 58.9,435.6 58.9,435.1 58.9,434.6 58.9,434.1 58.9,433.6 58.9,433.1 58.9,432.6 58.9,432.1 58.9,431.6 58.8,431.1 58.7,430.6 58.6,430.1 58.5,429.6 58.4,429.1 58.2,428.6 58.0,428.1 57.9,427.6 57.6,427.1 57.4,426.6" fill="#008000" clip-path="url(#clcL0)"/><clipPath id="clcL1"><rect x="58.0" y="282.6" width="192.0" height="280"/></clipPath><polygon points="53.1,426.6 52.8,427.1 52.4,427.6 52.0,428.1 51.6,428.6 51.3,429.1 50.9,429.6 50.5,430.1 50.1,430.6 49.8,431.1 49.4,431.6 49.0,432.1 48.6,432.6 48.3,433.1 47.9,433.6 47.6,434.1 47.4,434.6 47.1,435.1 46.9,435.6 46.7,436.1 46.5,436.6 46.4,437.1 46.2,437.6 46.1,438.1 45.9,438.6 45.8,439.1 45.7,439.6 45.7,440.1 45.7,440.6 45.7,441.1 45.7,441.6 45.8,442.1 45.9,442.6 46.0,443.1 46.1,443.6 46.4,444.1 46.7,444.6 47.0,445.1 47.3,445.6 47.8,446.1 48.2,446.6 48.6,447.1 49.1,447.6 49.6,448.1 50.1,448.6 50.6,449.1 51.1,449.6 51.6,450.1 52.2,450.6 52.8,451.1 53.3,451.6 53.9,452.1 54.6,452.6 55.2,453.1 55.9,453.6 56.5,454.1 57.1,454.6 57.8,455.1 58.4,455.6 59.1,456.1 59.8,456.6 60.4,457.1 61.1,457.6 61.8,458.1 62.5,458.6 63.2,459.1 63.9,459.6 64.6,460.1 65.2,460.6 65.9,461.1 66.7,461.6 67.8,461.6 67.9,461.1 68.0,460.6 68.2,460.1 68.3,459.6 68.3,459.1 68.4,458.6 68.5,458.1 68.5,457.6 68.5,457.1 68.4,456.6 68.3,456.1 68.3,455.6 68.1,455.1 68.0,454.6 67.8,454.1 67.7,453.6 67.5,453.1 67.3,452.6 67.1,452.1 66.9,451.6 66.6,451.1 66.4,450.6 66.1,450.1 65.9,449.6 65.6,449.1 65.3,448.6 65.0,448.1 64.7,447.6 64.3,447.1 64.0,446.6 63.6,446.1 63.3,445.6 62.9,445.1 62.4,444.6 62.0,444.1 61.5,443.6 61.1,443.1 60.7,442.6 60.3,442.1 59.9,441.6 59.8,441.1 59.6,440.6 59.5,440.1 59.3,439.6 59.3,439.1 59.2,438.6 59.1,438.1 59.1,437.6 59.1,437.1 59.0,436.6 58.9,436.1 58.9,435.6 58.9,435.1 58.9,434.6 58.9,434.1 58.9,433.6 58.9,433.1 58.9,432.6 58.9,432.1 58.9,431.6 58.8,431.1 58.7,430.6 58.6,430.1 58.5,429.6 58.4,429.1 58.2,428.6 58.0,428.1 57.9,427.6 57.6,427.1 57.4,426.6" fill="#ff0000" clip-path="url(#clcL1)"/>
<clipPath id="clcR0"><rect x="0.0" y="282.6" width="250.0" height="280"/></clipPath><polygon points="218.6,404.6 218.3,405.1 218.1,405.6 217.8,406.1 217.6,406.6 217.4,407.1 217.3,407.6 217.2,408.1 217.0,408.6 216.8,409.1 216.7,409.6 216.6,410.1 216.4,410.6 216.3,411.1 216.1,411.6 216.0,412.1 215.9,412.6 215.7,413.1 215.6,413.6 215.4,414.1 215.1,414.6 214.9,415.1 214.6,415.6 214.4,416.1 214.2,416.6 213.9,417.1 213.7,417.6 213.4,418.1 213.2,418.6 212.8,419.1 212.5,419.6 212.2,420.1 211.8,420.6 211.4,421.1 211.1,421.6 210.8,422.1 210.4,422.6 210.3,423.1 210.3,423.6 210.2,424.1 210.1,424.6 210.1,425.1 210.0,425.6 209.8,426.1 209.7,426.6 209.5,427.1 209.4,427.6 209.2,428.1 209.1,428.6 208.9,429.1 208.8,429.6 208.8,430.1 208.9,430.6 208.9,431.1 209.0,431.6 209.0,432.1 209.1,432.6 209.1,433.1 209.2,433.6 209.2,434.1 209.2,434.6 209.2,435.1 209.2,435.6 209.3,436.1 209.3,436.6 209.3,437.1 209.3,437.6 209.4,438.1 209.4,438.6 209.4,439.1 209.3,439.6 209.3,440.1 209.2,440.6 209.2,441.1 209.1,441.6 209.1,442.1 209.1,442.6 209.0,443.1 209.0,443.6 208.9,444.1 208.9,444.6 208.8,445.1 208.8,445.6 208.7,446.1 208.6,446.6 208.5,447.1 208.4,447.6 208.3,448.1 208.2,448.6 208.1,449.1 208.0,449.6 207.9,450.1 207.8,450.6 207.7,451.1 207.6,451.6 207.5,452.1 207.4,452.6 207.3,453.1 207.2,453.6 207.1,454.1 207.0,454.6 206.9,455.1 206.8,455.6 206.7,456.1 206.6,456.6 206.6,457.1 206.7,457.6 206.7,458.1 206.7,458.6 206.7,459.1 206.7,459.6 206.8,460.1 206.8,460.6 207.0,461.1 207.2,461.6 207.4,462.1 207.7,462.6 207.9,463.1 208.1,463.6 208.3,464.1 208.5,464.6 208.8,465.1 209.0,465.6 209.2,466.1 209.4,466.6 209.5,467.1 209.7,467.6 209.8,468.1 210.0,468.6 210.1,469.1 210.2,469.6 210.4,470.1 210.5,470.6 210.7,471.1 210.8,471.6 211.1,472.1 211.4,472.6 216.5,472.6 216.6,472.1 216.8,471.6 216.8,471.1 216.9,470.6 216.9,470.1 217.0,469.6 217.0,469.1 217.0,468.6 217.1,468.1 217.1,467.6 217.2,467.1 217.2,466.6 217.2,466.1 217.2,465.6 217.3,465.1 217.3,464.6 217.3,464.1 217.3,463.6 217.3,463.1 217.3,462.6 217.3,462.1 217.4,461.6 217.4,461.1 217.4,460.6 217.4,460.1 217.5,459.6 217.5,459.1 217.5,458.6 217.5,458.1 217.5,457.6 217.6,457.1 217.6,456.6 217.7,456.1 217.8,455.6 217.9,455.1 218.0,454.6 218.1,454.1 218.2,453.6 218.3,453.1 218.4,452.6 218.5,452.1 218.6,451.6 218.7,451.1 218.8,450.6 218.8,450.1 218.8,449.6 218.8,449.1 218.8,448.6 218.8,448.1 218.8,447.6 218.8,447.1 218.8,446.6 218.8,446.1 218.8,445.6 218.8,445.1 218.7,444.6 218.7,444.1 218.6,443.6 218.6,443.1 218.5,442.6 218.5,442.1 218.5,441.6 218.4,441.1 218.4,440.6 218.3,440.1 218.3,439.6 218.2,439.1 218.2,438.6 218.3,438.1 218.4,437.6 218.5,437.1 218.6,436.6 218.7,436.1 218.8,435.6 218.9,435.1 219.0,434.6 219.1,434.1 219.2,433.6 219.3,433.1 219.4,432.6 219.2,432.1 219.1,431.6 218.9,431.1 218.7,430.6 218.6,430.1 218.4,429.6 218.6,429.1 218.7,428.6 218.8,428.1 219.0,427.6 219.2,427.1 219.3,426.6 219.4,426.1 219.6,425.6 219.5,425.1 219.4,424.6 219.3,424.1 219.2,423.6 219.1,423.1 219.0,422.6 219.1,422.1 219.2,421.6 219.2,421.1 219.3,420.6 219.4,420.1 219.4,419.6 219.5,419.1 219.6,418.6 219.7,418.1 219.7,417.6 219.8,417.1 219.9,416.6 220.0,416.1 220.0,415.6 220.1,415.1 220.2,414.6 220.2,414.1 220.3,413.6 220.6,413.1 220.8,412.6 221.1,412.1 221.3,411.6 221.6,411.1 221.8,410.6 221.7,410.1 221.5,409.6 221.3,409.1 221.2,408.6 221.1,408.1 220.9,407.6 220.8,407.1 220.6,406.6 220.7,406.1 220.8,405.6 220.9,405.1 221.0,404.6" fill="#0000ff" clip-path="url(#clcR0)"/>
<g fill="#0000ff" fill-opacity="0.38"><circle cx="222.7" cy="394.1" r="1.85"/><circle cx="217.6" cy="395.1" r="1.85"/><circle cx="219.5" cy="395.7" r="1.85"/><circle cx="219.5" cy="397.4" r="1.85"/><circle cx="217.0" cy="397.4" r="1.85"/><circle cx="217.6" cy="398.5" r="1.85"/><circle cx="223.9" cy="398.9" r="1.85"/><circle cx="219.5" cy="399.0" r="1.85"/><circle cx="221.2" cy="400.0" r="1.85"/><circle cx="219.8" cy="399.9" r="1.85"/><circle cx="216.8" cy="401.4" r="1.85"/><circle cx="218.4" cy="401.5" r="1.85"/><circle cx="218.1" cy="400.9" r="1.85"/><circle cx="217.4" cy="402.0" r="1.85"/><circle cx="224.3" cy="402.5" r="1.85"/><circle cx="223.0" cy="402.2" r="1.85"/><circle cx="224.2" cy="403.1" r="1.85"/><circle cx="222.2" cy="402.6" r="1.85"/><circle cx="222.3" cy="403.1" r="1.85"/><circle cx="221.3" cy="403.9" r="1.85"/><circle cx="215.8" cy="404.5" r="1.85"/><circle cx="216.5" cy="404.1" r="1.85"/><circle cx="217.7" cy="405.3" r="1.85"/><circle cx="224.2" cy="404.9" r="1.85"/><circle cx="221.1" cy="404.9" r="1.85"/><circle cx="220.2" cy="405.0" r="1.85"/><circle cx="215.9" cy="405.8" r="1.85"/><circle cx="223.3" cy="406.1" r="1.85"/><circle cx="216.5" cy="406.5" r="1.85"/><circle cx="224.2" cy="406.0" r="1.85"/><circle cx="215.9" cy="406.7" r="1.85"/><circle cx="217.5" cy="406.7" r="1.85"/><circle cx="216.4" cy="406.9" r="1.85"/><circle cx="219.8" cy="407.5" r="1.85"/><circle cx="221.7" cy="407.0" r="1.85"/><circle cx="219.4" cy="408.0" r="1.85"/><circle cx="217.3" cy="407.7" r="1.85"/><circle cx="216.7" cy="408.6" r="1.85"/><circle cx="215.0" cy="408.1" r="1.85"/><circle cx="220.5" cy="408.5" r="1.85"/><circle cx="216.5" cy="408.8" r="1.85"/><circle cx="217.9" cy="409.0" r="1.85"/><circle cx="224.3" cy="409.4" r="1.85"/><circle cx="223.4" cy="408.6" r="1.85"/><circle cx="213.7" cy="409.3" r="1.85"/><circle cx="218.8" cy="410.2" r="1.85"/><circle cx="213.1" cy="410.0" r="1.85"/><circle cx="224.3" cy="410.4" r="1.85"/><circle cx="223.4" cy="410.6" r="1.85"/><circle cx="216.1" cy="409.7" r="1.85"/><circle cx="219.2" cy="411.3" r="1.85"/><circle cx="224.3" cy="411.3" r="1.85"/><circle cx="220.7" cy="411.4" r="1.85"/><circle cx="218.4" cy="411.2" r="1.85"/><circle cx="213.3" cy="411.4" r="1.85"/><circle cx="215.6" cy="411.5" r="1.85"/><circle cx="216.2" cy="411.7" r="1.85"/><circle cx="215.5" cy="412.2" r="1.85"/><circle cx="220.9" cy="411.7" r="1.85"/><circle cx="213.3" cy="412.1" r="1.85"/><circle cx="219.5" cy="412.0" r="1.85"/><circle cx="219.3" cy="412.6" r="1.85"/><circle cx="215.8" cy="413.1" r="1.85"/><circle cx="223.6" cy="413.2" r="1.85"/><circle cx="222.7" cy="413.1" r="1.85"/><circle cx="215.0" cy="412.8" r="1.85"/><circle cx="223.6" cy="413.3" r="1.85"/><circle cx="212.1" cy="414.1" r="1.85"/><circle cx="219.9" cy="414.0" r="1.85"/><circle cx="214.9" cy="414.3" r="1.85"/><circle cx="222.8" cy="413.8" r="1.85"/><circle cx="212.3" cy="413.9" r="1.85"/><circle cx="216.9" cy="414.3" r="1.85"/><circle cx="221.1" cy="415.3" r="1.85"/><circle cx="217.5" cy="414.8" r="1.85"/><circle cx="223.2" cy="414.9" r="1.85"/><circle cx="221.4" cy="414.8" r="1.85"/><circle cx="214.1" cy="415.4" r="1.85"/><circle cx="215.0" cy="415.6" r="1.85"/><circle cx="213.3" cy="415.8" r="1.85"/><circle cx="216.1" cy="416.3" r="1.85"/><circle cx="222.8" cy="415.7" r="1.85"/><circle cx="215.8" cy="415.8" r="1.85"/><circle cx="223.1" cy="415.7" r="1.85"/><circle cx="211.6" cy="415.7" r="1.85"/><circle cx="222.0" cy="417.5" r="1.85"/><circle cx="219.9" cy="417.6" r="1.85"/><circle cx="222.4" cy="416.9" r="1.85"/><circle cx="212.8" cy="417.5" r="1.85"/><circle cx="220.0" cy="416.6" r="1.85"/><circle cx="219.0" cy="417.0" r="1.85"/><circle cx="214.3" cy="417.8" r="1.85"/><circle cx="210.0" cy="417.9" r="1.85"/><circle cx="214.6" cy="418.6" r="1.85"/><circle cx="211.6" cy="418.6" r="1.85"/><circle cx="212.7" cy="418.0" r="1.85"/><circle cx="220.8" cy="418.4" r="1.85"/><circle cx="210.0" cy="419.1" r="1.85"/><circle cx="214.4" cy="419.5" r="1.85"/><circle cx="212.0" cy="419.0" r="1.85"/><circle cx="221.6" cy="418.6" r="1.85"/><circle cx="215.0" cy="419.4" r="1.85"/><circle cx="219.8" cy="418.6" r="1.85"/><circle cx="209.5" cy="420.5" r="1.85"/><circle cx="212.3" cy="420.3" r="1.85"/><circle cx="221.4" cy="419.9" r="1.85"/><circle cx="212.5" cy="420.6" r="1.85"/><circle cx="217.4" cy="419.9" r="1.85"/><circle cx="218.8" cy="419.9" r="1.85"/><circle cx="212.6" cy="419.6" r="1.85"/><circle cx="221.5" cy="421.2" r="1.85"/><circle cx="221.9" cy="420.6" r="1.85"/><circle cx="211.4" cy="421.1" r="1.85"/><circle cx="222.1" cy="421.6" r="1.85"/><circle cx="213.7" cy="420.9" r="1.85"/><circle cx="214.3" cy="421.1" r="1.85"/><circle cx="210.1" cy="422.4" r="1.85"/><circle cx="218.6" cy="422.4" r="1.85"/><circle cx="219.1" cy="422.2" r="1.85"/><circle cx="212.3" cy="421.9" r="1.85"/><circle cx="212.8" cy="422.4" r="1.85"/><circle cx="208.5" cy="421.8" r="1.85"/><circle cx="210.7" cy="422.7" r="1.85"/><circle cx="207.4" cy="423.2" r="1.85"/><circle cx="212.0" cy="423.6" r="1.85"/><circle cx="220.8" cy="423.6" r="1.85"/><circle cx="211.0" cy="422.7" r="1.85"/><circle cx="208.4" cy="423.1" r="1.85"/><circle cx="218.0" cy="423.0" r="1.85"/><circle cx="213.4" cy="424.2" r="1.85"/><circle cx="217.6" cy="424.3" r="1.85"/><circle cx="220.3" cy="424.3" r="1.85"/><circle cx="208.7" cy="424.4" r="1.85"/><circle cx="211.4" cy="424.2" r="1.85"/><circle cx="212.7" cy="424.3" r="1.85"/><circle cx="209.9" cy="423.8" r="1.85"/><circle cx="210.6" cy="423.8" r="1.85"/><circle cx="216.1" cy="424.9" r="1.85"/><circle cx="213.1" cy="425.6" r="1.85"/><circle cx="214.9" cy="424.8" r="1.85"/><circle cx="219.9" cy="425.3" r="1.85"/><circle cx="222.9" cy="424.7" r="1.85"/><circle cx="214.4" cy="425.4" r="1.85"/><circle cx="220.4" cy="425.5" r="1.85"/><circle cx="211.2" cy="425.7" r="1.85"/><circle cx="209.5" cy="426.6" r="1.85"/><circle cx="216.0" cy="426.5" r="1.85"/><circle cx="212.5" cy="426.5" r="1.85"/><circle cx="213.8" cy="425.9" r="1.85"/><circle cx="219.3" cy="426.5" r="1.85"/><circle cx="208.1" cy="426.2" r="1.85"/><circle cx="216.6" cy="425.8" r="1.85"/><circle cx="208.4" cy="426.8" r="1.85"/><circle cx="210.3" cy="427.2" r="1.85"/><circle cx="216.9" cy="426.8" r="1.85"/><circle cx="206.2" cy="426.9" r="1.85"/><circle cx="217.3" cy="426.8" r="1.85"/><circle cx="211.2" cy="426.8" r="1.85"/><circle cx="219.3" cy="427.1" r="1.85"/><circle cx="207.1" cy="426.7" r="1.85"/><circle cx="214.9" cy="428.2" r="1.85"/><circle cx="207.3" cy="427.8" r="1.85"/><circle cx="217.3" cy="428.0" r="1.85"/><circle cx="210.5" cy="427.9" r="1.85"/><circle cx="221.6" cy="427.9" r="1.85"/><circle cx="215.2" cy="428.0" r="1.85"/><circle cx="212.7" cy="428.5" r="1.85"/><circle cx="222.3" cy="428.0" r="1.85"/><circle cx="217.5" cy="428.8" r="1.85"/><circle cx="205.5" cy="429.5" r="1.85"/><circle cx="212.5" cy="429.4" r="1.85"/><circle cx="212.2" cy="429.5" r="1.85"/><circle cx="213.1" cy="428.8" r="1.85"/><circle cx="205.7" cy="429.2" r="1.85"/><circle cx="216.1" cy="429.5" r="1.85"/><circle cx="206.9" cy="429.2" r="1.85"/><circle cx="213.8" cy="429.7" r="1.85"/><circle cx="210.1" cy="430.1" r="1.85"/><circle cx="220.8" cy="429.7" r="1.85"/><circle cx="213.5" cy="430.4" r="1.85"/><circle cx="221.5" cy="429.8" r="1.85"/><circle cx="207.5" cy="430.5" r="1.85"/><circle cx="221.7" cy="430.1" r="1.85"/><circle cx="206.2" cy="430.5" r="1.85"/><circle cx="220.8" cy="431.2" r="1.85"/><circle cx="219.4" cy="430.8" r="1.85"/><circle cx="218.8" cy="430.8" r="1.85"/><circle cx="212.3" cy="431.4" r="1.85"/><circle cx="219.5" cy="430.8" r="1.85"/><circle cx="209.1" cy="431.0" r="1.85"/><circle cx="214.2" cy="431.0" r="1.85"/><circle cx="207.5" cy="430.8" r="1.85"/><circle cx="221.0" cy="431.6" r="1.85"/><circle cx="215.2" cy="432.4" r="1.85"/><circle cx="206.2" cy="432.4" r="1.85"/><circle cx="207.6" cy="432.2" r="1.85"/><circle cx="215.0" cy="432.2" r="1.85"/><circle cx="210.8" cy="432.0" r="1.85"/><circle cx="215.6" cy="432.0" r="1.85"/><circle cx="216.9" cy="432.0" r="1.85"/><circle cx="206.0" cy="433.2" r="1.85"/><circle cx="214.0" cy="432.8" r="1.85"/><circle cx="218.7" cy="433.4" r="1.85"/><circle cx="213.5" cy="432.8" r="1.85"/><circle cx="213.8" cy="432.7" r="1.85"/><circle cx="207.8" cy="433.0" r="1.85"/><circle cx="207.2" cy="433.0" r="1.85"/><circle cx="214.4" cy="432.6" r="1.85"/><circle cx="207.1" cy="434.3" r="1.85"/><circle cx="218.8" cy="434.1" r="1.85"/><circle cx="206.6" cy="434.1" r="1.85"/><circle cx="212.1" cy="434.6" r="1.85"/><circle cx="208.0" cy="434.5" r="1.85"/><circle cx="222.5" cy="434.3" r="1.85"/><circle cx="219.5" cy="433.8" r="1.85"/><circle cx="213.9" cy="435.6" r="1.85"/><circle cx="221.0" cy="434.8" r="1.85"/><circle cx="218.9" cy="435.5" r="1.85"/><circle cx="206.8" cy="435.0" r="1.85"/><circle cx="218.3" cy="434.8" r="1.85"/><circle cx="220.7" cy="434.9" r="1.85"/><circle cx="219.3" cy="434.7" r="1.85"/><circle cx="220.9" cy="435.8" r="1.85"/><circle cx="210.1" cy="436.1" r="1.85"/><circle cx="211.0" cy="435.6" r="1.85"/><circle cx="208.8" cy="435.8" r="1.85"/><circle cx="221.2" cy="436.3" r="1.85"/><circle cx="220.5" cy="435.8" r="1.85"/><circle cx="218.7" cy="435.7" r="1.85"/><circle cx="216.1" cy="437.0" r="1.85"/><circle cx="219.9" cy="437.2" r="1.85"/><circle cx="215.2" cy="437.5" r="1.85"/><circle cx="207.5" cy="437.6" r="1.85"/><circle cx="216.0" cy="437.0" r="1.85"/><circle cx="218.7" cy="436.9" r="1.85"/><circle cx="221.8" cy="437.2" r="1.85"/><circle cx="218.1" cy="438.0" r="1.85"/><circle cx="208.7" cy="438.3" r="1.85"/><circle cx="206.6" cy="438.4" r="1.85"/><circle cx="209.9" cy="438.2" r="1.85"/><circle cx="221.5" cy="438.2" r="1.85"/><circle cx="216.4" cy="437.9" r="1.85"/><circle cx="205.9" cy="437.6" r="1.85"/><circle cx="215.6" cy="439.0" r="1.85"/><circle cx="214.0" cy="439.5" r="1.85"/><circle cx="208.0" cy="438.8" r="1.85"/><circle cx="216.2" cy="438.6" r="1.85"/><circle cx="205.9" cy="439.0" r="1.85"/><circle cx="207.5" cy="439.0" r="1.85"/><circle cx="209.4" cy="439.2" r="1.85"/><circle cx="209.1" cy="440.2" r="1.85"/><circle cx="213.4" cy="439.7" r="1.85"/><circle cx="220.8" cy="439.8" r="1.85"/><circle cx="208.2" cy="439.7" r="1.85"/><circle cx="216.0" cy="440.5" r="1.85"/><circle cx="218.3" cy="440.0" r="1.85"/><circle cx="210.0" cy="439.6" r="1.85"/><circle cx="214.8" cy="441.0" r="1.85"/><circle cx="216.2" cy="441.0" r="1.85"/><circle cx="220.9" cy="441.3" r="1.85"/><circle cx="209.7" cy="441.5" r="1.85"/><circle cx="206.4" cy="441.1" r="1.85"/><circle cx="212.3" cy="440.8" r="1.85"/><circle cx="206.6" cy="441.4" r="1.85"/><circle cx="214.6" cy="442.5" r="1.85"/><circle cx="207.9" cy="441.8" r="1.85"/><circle cx="215.6" cy="442.1" r="1.85"/><circle cx="216.1" cy="442.4" r="1.85"/><circle cx="208.5" cy="441.9" r="1.85"/><circle cx="210.5" cy="441.6" r="1.85"/><circle cx="220.2" cy="442.4" r="1.85"/><circle cx="217.3" cy="441.6" r="1.85"/><circle cx="217.9" cy="443.1" r="1.85"/><circle cx="217.8" cy="443.1" r="1.85"/><circle cx="209.3" cy="442.7" r="1.85"/><circle cx="209.4" cy="442.6" r="1.85"/><circle cx="211.1" cy="443.3" r="1.85"/><circle cx="217.0" cy="443.4" r="1.85"/><circle cx="217.3" cy="442.9" r="1.85"/><circle cx="212.7" cy="444.4" r="1.85"/><circle cx="214.2" cy="443.9" r="1.85"/><circle cx="216.2" cy="444.6" r="1.85"/><circle cx="209.1" cy="444.5" r="1.85"/><circle cx="205.7" cy="443.9" r="1.85"/><circle cx="209.4" cy="444.3" r="1.85"/><circle cx="221.2" cy="444.3" r="1.85"/><circle cx="220.2" cy="444.9" r="1.85"/><circle cx="209.4" cy="445.5" r="1.85"/><circle cx="216.0" cy="445.3" r="1.85"/><circle cx="216.6" cy="445.6" r="1.85"/><circle cx="213.3" cy="445.4" r="1.85"/><circle cx="217.1" cy="445.5" r="1.85"/><circle cx="212.7" cy="445.3" r="1.85"/><circle cx="215.0" cy="444.9" r="1.85"/><circle cx="215.8" cy="445.7" r="1.85"/><circle cx="220.8" cy="445.7" r="1.85"/><circle cx="205.7" cy="445.7" r="1.85"/><circle cx="221.1" cy="445.9" r="1.85"/><circle cx="207.6" cy="445.6" r="1.85"/><circle cx="205.9" cy="446.3" r="1.85"/><circle cx="216.0" cy="446.3" r="1.85"/><circle cx="217.8" cy="445.7" r="1.85"/><circle cx="211.3" cy="447.4" r="1.85"/><circle cx="219.2" cy="447.5" r="1.85"/><circle cx="206.1" cy="447.5" r="1.85"/><circle cx="220.8" cy="447.5" r="1.85"/><circle cx="206.9" cy="446.8" r="1.85"/><circle cx="206.9" cy="446.6" r="1.85"/><circle cx="219.7" cy="447.4" r="1.85"/><circle cx="216.0" cy="447.4" r="1.85"/><circle cx="209.8" cy="447.7" r="1.85"/><circle cx="206.5" cy="448.4" r="1.85"/><circle cx="208.4" cy="447.9" r="1.85"/><circle cx="212.2" cy="447.6" r="1.85"/><circle cx="209.3" cy="447.9" r="1.85"/><circle cx="217.3" cy="448.0" r="1.85"/><circle cx="210.4" cy="448.6" r="1.85"/><circle cx="213.6" cy="448.5" r="1.85"/><circle cx="205.1" cy="449.0" r="1.85"/><circle cx="212.3" cy="449.4" r="1.85"/><circle cx="210.7" cy="449.3" r="1.85"/><circle cx="214.1" cy="448.8" r="1.85"/><circle cx="219.9" cy="448.7" r="1.85"/><circle cx="219.1" cy="448.8" r="1.85"/><circle cx="204.6" cy="448.8" r="1.85"/><circle cx="218.1" cy="449.6" r="1.85"/><circle cx="213.2" cy="450.1" r="1.85"/><circle cx="218.7" cy="449.8" r="1.85"/><circle cx="213.3" cy="449.9" r="1.85"/><circle cx="219.3" cy="449.9" r="1.85"/><circle cx="221.3" cy="449.9" r="1.85"/><circle cx="208.2" cy="450.3" r="1.85"/><circle cx="213.3" cy="449.7" r="1.85"/><circle cx="215.8" cy="449.7" r="1.85"/><circle cx="218.5" cy="450.3" r="1.85"/><circle cx="215.5" cy="451.0" r="1.85"/><circle cx="211.4" cy="451.0" r="1.85"/><circle cx="220.2" cy="450.7" r="1.85"/><circle cx="220.2" cy="450.6" r="1.85"/><circle cx="207.9" cy="450.9" r="1.85"/><circle cx="220.4" cy="451.1" r="1.85"/><circle cx="211.0" cy="451.5" r="1.85"/><circle cx="208.4" cy="451.1" r="1.85"/><circle cx="217.6" cy="452.4" r="1.85"/><circle cx="215.6" cy="451.9" r="1.85"/><circle cx="209.9" cy="451.8" r="1.85"/><circle cx="219.2" cy="452.3" r="1.85"/><circle cx="217.4" cy="451.8" r="1.85"/><circle cx="211.9" cy="452.4" r="1.85"/><circle cx="214.4" cy="451.7" r="1.85"/><circle cx="212.3" cy="452.5" r="1.85"/><circle cx="207.2" cy="452.9" r="1.85"/><circle cx="216.5" cy="453.4" r="1.85"/><circle cx="206.6" cy="452.8" r="1.85"/><circle cx="208.3" cy="452.9" r="1.85"/><circle cx="213.2" cy="452.8" r="1.85"/><circle cx="209.7" cy="452.8" r="1.85"/><circle cx="221.4" cy="453.3" r="1.85"/><circle cx="205.6" cy="453.6" r="1.85"/><circle cx="210.5" cy="454.6" r="1.85"/><circle cx="217.9" cy="454.3" r="1.85"/><circle cx="211.4" cy="453.8" r="1.85"/><circle cx="215.1" cy="453.7" r="1.85"/><circle cx="207.3" cy="454.0" r="1.85"/><circle cx="204.2" cy="454.0" r="1.85"/><circle cx="217.8" cy="454.3" r="1.85"/><circle cx="212.6" cy="454.2" r="1.85"/><circle cx="206.0" cy="455.2" r="1.85"/><circle cx="210.7" cy="455.3" r="1.85"/><circle cx="219.7" cy="455.0" r="1.85"/><circle cx="213.7" cy="455.3" r="1.85"/><circle cx="211.0" cy="454.8" r="1.85"/><circle cx="216.4" cy="455.5" r="1.85"/><circle cx="217.3" cy="455.3" r="1.85"/><circle cx="218.7" cy="455.3" r="1.85"/><circle cx="211.4" cy="455.9" r="1.85"/><circle cx="214.5" cy="455.7" r="1.85"/><circle cx="210.8" cy="456.4" r="1.85"/><circle cx="216.0" cy="456.2" r="1.85"/><circle cx="207.7" cy="456.0" r="1.85"/><circle cx="211.4" cy="456.2" r="1.85"/><circle cx="210.6" cy="456.3" r="1.85"/><circle cx="219.9" cy="455.8" r="1.85"/><circle cx="217.1" cy="457.0" r="1.85"/><circle cx="211.9" cy="457.6" r="1.85"/><circle cx="203.8" cy="457.1" r="1.85"/><circle cx="206.0" cy="457.4" r="1.85"/><circle cx="220.0" cy="457.1" r="1.85"/><circle cx="204.9" cy="457.2" r="1.85"/><circle cx="212.8" cy="457.3" r="1.85"/><circle cx="212.3" cy="457.2" r="1.85"/><circle cx="212.5" cy="458.0" r="1.85"/><circle cx="220.1" cy="457.8" r="1.85"/><circle cx="215.4" cy="458.0" r="1.85"/><circle cx="216.8" cy="457.7" r="1.85"/><circle cx="220.7" cy="458.0" r="1.85"/><circle cx="204.2" cy="457.9" r="1.85"/><circle cx="210.3" cy="457.6" r="1.85"/><circle cx="210.6" cy="458.0" r="1.85"/><circle cx="209.5" cy="458.9" r="1.85"/><circle cx="207.2" cy="459.3" r="1.85"/><circle cx="219.9" cy="459.1" r="1.85"/><circle cx="207.1" cy="459.4" r="1.85"/><circle cx="210.2" cy="458.8" r="1.85"/><circle cx="205.5" cy="459.4" r="1.85"/><circle cx="217.6" cy="459.2" r="1.85"/><circle cx="211.6" cy="459.2" r="1.85"/><circle cx="220.3" cy="460.0" r="1.85"/><circle cx="214.5" cy="460.4" r="1.85"/><circle cx="217.7" cy="460.1" r="1.85"/><circle cx="208.5" cy="460.1" r="1.85"/><circle cx="205.5" cy="460.4" r="1.85"/><circle cx="209.5" cy="460.5" r="1.85"/><circle cx="208.0" cy="460.0" r="1.85"/><circle cx="207.8" cy="460.0" r="1.85"/><circle cx="203.6" cy="461.3" r="1.85"/><circle cx="208.4" cy="460.8" r="1.85"/><circle cx="208.8" cy="461.1" r="1.85"/><circle cx="211.0" cy="461.2" r="1.85"/><circle cx="215.0" cy="461.0" r="1.85"/><circle cx="219.6" cy="461.5" r="1.85"/><circle cx="204.5" cy="461.4" r="1.85"/><circle cx="219.2" cy="461.4" r="1.85"/><circle cx="218.0" cy="462.2" r="1.85"/><circle cx="204.2" cy="461.6" r="1.85"/><circle cx="220.0" cy="462.3" r="1.85"/><circle cx="208.2" cy="461.7" r="1.85"/><circle cx="206.4" cy="461.8" r="1.85"/><circle cx="217.1" cy="461.9" r="1.85"/><circle cx="206.5" cy="462.5" r="1.85"/><circle cx="217.3" cy="461.8" r="1.85"/><circle cx="214.4" cy="463.4" r="1.85"/><circle cx="215.4" cy="463.5" r="1.85"/><circle cx="217.3" cy="463.4" r="1.85"/><circle cx="207.6" cy="463.3" r="1.85"/><circle cx="213.1" cy="463.3" r="1.85"/><circle cx="211.6" cy="463.5" r="1.85"/><circle cx="213.5" cy="462.9" r="1.85"/><circle cx="207.0" cy="464.1" r="1.85"/><circle cx="205.7" cy="464.1" r="1.85"/><circle cx="207.1" cy="464.1" r="1.85"/><circle cx="212.8" cy="464.1" r="1.85"/><circle cx="218.6" cy="463.6" r="1.85"/><circle cx="218.2" cy="464.1" r="1.85"/><circle cx="213.8" cy="464.3" r="1.85"/><circle cx="211.1" cy="465.0" r="1.85"/><circle cx="220.1" cy="464.7" r="1.85"/><circle cx="215.1" cy="465.2" r="1.85"/><circle cx="205.7" cy="465.2" r="1.85"/><circle cx="215.8" cy="465.5" r="1.85"/><circle cx="210.4" cy="465.6" r="1.85"/><circle cx="213.2" cy="465.1" r="1.85"/><circle cx="206.2" cy="466.3" r="1.85"/><circle cx="215.1" cy="465.9" r="1.85"/><circle cx="218.6" cy="466.0" r="1.85"/><circle cx="212.8" cy="466.1" r="1.85"/><circle cx="217.3" cy="465.8" r="1.85"/><circle cx="212.2" cy="466.0" r="1.85"/><circle cx="218.1" cy="466.9" r="1.85"/><circle cx="218.1" cy="467.0" r="1.85"/><circle cx="213.4" cy="466.9" r="1.85"/><circle cx="213.4" cy="467.6" r="1.85"/><circle cx="215.6" cy="467.4" r="1.85"/><circle cx="210.9" cy="466.9" r="1.85"/><circle cx="210.4" cy="467.2" r="1.85"/><circle cx="217.5" cy="467.6" r="1.85"/><circle cx="216.6" cy="468.5" r="1.85"/><circle cx="214.1" cy="467.6" r="1.85"/><circle cx="210.6" cy="467.6" r="1.85"/><circle cx="209.0" cy="468.5" r="1.85"/><circle cx="215.0" cy="468.3" r="1.85"/><circle cx="219.2" cy="469.2" r="1.85"/><circle cx="215.2" cy="469.2" r="1.85"/><circle cx="216.3" cy="469.2" r="1.85"/><circle cx="216.1" cy="468.8" r="1.85"/><circle cx="215.9" cy="469.1" r="1.85"/><circle cx="217.2" cy="468.7" r="1.85"/><circle cx="207.4" cy="470.4" r="1.85"/><circle cx="219.3" cy="470.3" r="1.85"/><circle cx="211.9" cy="470.4" r="1.85"/><circle cx="217.5" cy="470.2" r="1.85"/><circle cx="210.4" cy="469.9" r="1.85"/><circle cx="212.6" cy="469.9" r="1.85"/><circle cx="215.6" cy="471.5" r="1.85"/><circle cx="207.9" cy="471.2" r="1.85"/><circle cx="207.7" cy="470.7" r="1.85"/><circle cx="217.8" cy="471.2" r="1.85"/><circle cx="219.3" cy="471.0" r="1.85"/><circle cx="207.3" cy="471.0" r="1.85"/><circle cx="219.4" cy="472.6" r="1.85"/><circle cx="213.6" cy="472.0" r="1.85"/><circle cx="208.9" cy="472.2" r="1.85"/><circle cx="210.3" cy="471.8" r="1.85"/><circle cx="207.8" cy="471.6" r="1.85"/><circle cx="209.6" cy="473.6" r="1.85"/><circle cx="209.2" cy="473.5" r="1.85"/><circle cx="209.7" cy="472.6" r="1.85"/><circle cx="216.5" cy="472.8" r="1.85"/><circle cx="210.8" cy="473.7" r="1.85"/><circle cx="217.1" cy="474.3" r="1.85"/><circle cx="217.9" cy="474.3" r="1.85"/><circle cx="215.5" cy="475.3" r="1.85"/><circle cx="214.0" cy="475.5" r="1.85"/><circle cx="212.0" cy="475.6" r="1.85"/><circle cx="210.9" cy="475.6" r="1.85"/><circle cx="216.7" cy="476.7" r="1.85"/><circle cx="195.6" cy="452.9" r="1.85"/><circle cx="195.3" cy="452.6" r="1.85"/><circle cx="198.0" cy="427.8" r="1.85"/><circle cx="202.6" cy="441.7" r="1.85"/><circle cx="200.9" cy="433.7" r="1.85"/><circle cx="201.9" cy="444.8" r="1.85"/><circle cx="201.6" cy="451.1" r="1.85"/><circle cx="196.8" cy="465.0" r="1.85"/><circle cx="198.5" cy="473.7" r="1.85"/><circle cx="200.9" cy="469.7" r="1.85"/><circle cx="203.8" cy="472.6" r="1.85"/><circle cx="207.8" cy="478.9" r="1.85"/><circle cx="210.1" cy="480.1" r="1.85"/><circle cx="213.0" cy="478.4" r="1.85"/><circle cx="211.3" cy="488.2" r="1.85"/><circle cx="201.4" cy="450.6" r="1.85"/><circle cx="202.0" cy="444.6" r="1.85"/><circle cx="201.0" cy="441.3" r="1.85"/><circle cx="209.2" cy="404.5" r="1.85"/><circle cx="208.2" cy="407.3" r="1.85"/><circle cx="207.5" cy="411.4" r="1.85"/><circle cx="212.7" cy="406.9" r="1.85"/><circle cx="204.5" cy="431.6" r="1.85"/><circle cx="203.5" cy="454.6" r="1.85"/><circle cx="205.5" cy="476.1" r="1.85"/><circle cx="216.5" cy="476.6" r="1.85"/></g>
<g fill="#ff0000" fill-opacity="0.38"><circle cx="59.3" cy="427.1" r="1.85"/><circle cx="58.3" cy="427.4" r="1.85"/><circle cx="58.0" cy="428.3" r="1.85"/><circle cx="58.8" cy="430.8" r="1.85"/><circle cx="58.9" cy="431.4" r="1.85"/><circle cx="58.5" cy="432.0" r="1.85"/><circle cx="60.4" cy="432.9" r="1.85"/><circle cx="59.9" cy="433.3" r="1.85"/><circle cx="59.0" cy="435.9" r="1.85"/><circle cx="58.6" cy="435.9" r="1.85"/><circle cx="58.6" cy="436.7" r="1.85"/><circle cx="60.5" cy="436.6" r="1.85"/><circle cx="58.5" cy="437.8" r="1.85"/><circle cx="60.6" cy="439.0" r="1.85"/><circle cx="60.2" cy="439.5" r="1.85"/><circle cx="59.8" cy="440.1" r="1.85"/><circle cx="60.1" cy="439.5" r="1.85"/><circle cx="58.2" cy="439.6" r="1.85"/><circle cx="60.3" cy="440.8" r="1.85"/><circle cx="61.2" cy="441.8" r="1.85"/><circle cx="61.0" cy="441.7" r="1.85"/><circle cx="58.5" cy="441.3" r="1.85"/><circle cx="60.7" cy="442.5" r="1.85"/><circle cx="60.6" cy="442.5" r="1.85"/><circle cx="60.8" cy="442.6" r="1.85"/><circle cx="58.9" cy="443.6" r="1.85"/><circle cx="58.2" cy="444.6" r="1.85"/><circle cx="62.9" cy="444.8" r="1.85"/><circle cx="61.7" cy="445.0" r="1.85"/><circle cx="62.9" cy="444.9" r="1.85"/><circle cx="60.8" cy="446.0" r="1.85"/><circle cx="58.4" cy="445.2" r="1.85"/><circle cx="62.7" cy="446.1" r="1.85"/><circle cx="64.7" cy="445.9" r="1.85"/><circle cx="65.3" cy="446.9" r="1.85"/><circle cx="65.1" cy="446.2" r="1.85"/><circle cx="62.9" cy="447.4" r="1.85"/><circle cx="58.2" cy="447.8" r="1.85"/><circle cx="60.4" cy="447.5" r="1.85"/><circle cx="63.2" cy="448.2" r="1.85"/><circle cx="64.3" cy="448.2" r="1.85"/><circle cx="64.4" cy="448.6" r="1.85"/><circle cx="65.6" cy="448.4" r="1.85"/><circle cx="63.2" cy="449.4" r="1.85"/><circle cx="58.5" cy="449.3" r="1.85"/><circle cx="62.7" cy="449.7" r="1.85"/><circle cx="66.3" cy="449.2" r="1.85"/><circle cx="64.2" cy="449.5" r="1.85"/><circle cx="58.4" cy="449.9" r="1.85"/><circle cx="59.4" cy="450.8" r="1.85"/><circle cx="67.7" cy="450.4" r="1.85"/><circle cx="65.1" cy="450.8" r="1.85"/><circle cx="61.7" cy="450.5" r="1.85"/><circle cx="63.5" cy="450.4" r="1.85"/><circle cx="66.3" cy="451.8" r="1.85"/><circle cx="68.0" cy="451.6" r="1.85"/><circle cx="59.1" cy="452.6" r="1.85"/><circle cx="61.0" cy="452.3" r="1.85"/><circle cx="61.0" cy="452.1" r="1.85"/><circle cx="59.4" cy="452.1" r="1.85"/><circle cx="61.4" cy="452.9" r="1.85"/><circle cx="65.0" cy="454.0" r="1.85"/><circle cx="60.1" cy="453.4" r="1.85"/><circle cx="69.1" cy="453.2" r="1.85"/><circle cx="65.2" cy="453.7" r="1.85"/><circle cx="67.7" cy="453.7" r="1.85"/><circle cx="65.3" cy="453.9" r="1.85"/><circle cx="62.9" cy="454.6" r="1.85"/><circle cx="67.3" cy="454.9" r="1.85"/><circle cx="67.2" cy="454.7" r="1.85"/><circle cx="68.1" cy="454.8" r="1.85"/><circle cx="65.3" cy="454.3" r="1.85"/><circle cx="60.6" cy="454.2" r="1.85"/><circle cx="64.1" cy="455.7" r="1.85"/><circle cx="65.0" cy="455.8" r="1.85"/><circle cx="63.2" cy="455.1" r="1.85"/><circle cx="67.2" cy="455.8" r="1.85"/><circle cx="63.4" cy="455.6" r="1.85"/><circle cx="65.4" cy="455.2" r="1.85"/><circle cx="61.1" cy="456.2" r="1.85"/><circle cx="61.3" cy="456.8" r="1.85"/><circle cx="60.6" cy="456.8" r="1.85"/><circle cx="69.7" cy="456.6" r="1.85"/><circle cx="62.7" cy="456.6" r="1.85"/><circle cx="67.6" cy="457.7" r="1.85"/><circle cx="66.3" cy="457.2" r="1.85"/><circle cx="61.1" cy="457.4" r="1.85"/><circle cx="67.4" cy="457.4" r="1.85"/><circle cx="65.5" cy="457.1" r="1.85"/><circle cx="63.3" cy="458.8" r="1.85"/><circle cx="67.2" cy="458.8" r="1.85"/><circle cx="63.5" cy="458.6" r="1.85"/><circle cx="65.1" cy="458.6" r="1.85"/><circle cx="62.0" cy="459.0" r="1.85"/><circle cx="69.7" cy="460.0" r="1.85"/><circle cx="62.4" cy="459.6" r="1.85"/><circle cx="68.5" cy="460.1" r="1.85"/><circle cx="65.7" cy="459.4" r="1.85"/><circle cx="69.3" cy="460.3" r="1.85"/><circle cx="67.1" cy="460.2" r="1.85"/><circle cx="66.8" cy="461.1" r="1.85"/><circle cx="68.6" cy="461.6" r="1.85"/><circle cx="68.9" cy="461.8" r="1.85"/><circle cx="58.0" cy="376.4" r="1.85"/><circle cx="59.8" cy="377.6" r="1.85"/><circle cx="62.1" cy="381.1" r="1.85"/><circle cx="60.6" cy="385.7" r="1.85"/><circle cx="62.4" cy="386.5" r="1.85"/><circle cx="57.6" cy="390.2" r="1.85"/><circle cx="58.4" cy="390.6" r="1.85"/><circle cx="59.2" cy="390.5" r="1.85"/><circle cx="59.8" cy="390.9" r="1.85"/><circle cx="63.0" cy="393.3" r="1.85"/><circle cx="63.4" cy="393.7" r="1.85"/><circle cx="58.2" cy="405.9" r="1.85"/><circle cx="64.7" cy="427.4" r="1.85"/><circle cx="66.1" cy="443.9" r="1.85"/><circle cx="67.3" cy="440.4" r="1.85"/><circle cx="70.8" cy="440.4" r="1.85"/><circle cx="69.6" cy="450.3" r="1.85"/><circle cx="68.0" cy="442.6" r="1.85"/><circle cx="71.0" cy="440.1" r="1.85"/><circle cx="63.0" cy="434.6" r="1.85"/><circle cx="64.5" cy="441.1" r="1.85"/><circle cx="71.5" cy="452.6" r="1.85"/><circle cx="72.0" cy="457.1" r="1.85"/><circle cx="64.4" cy="306.0" r="1.85"/><circle cx="64.6" cy="305.9" r="1.85"/><circle cx="64.3" cy="306.2" r="1.85"/><circle cx="73.9" cy="399.0" r="1.85"/><circle cx="76.6" cy="401.5" r="1.85"/><circle cx="69.3" cy="404.2" r="1.85"/><circle cx="70.2" cy="412.1" r="1.85"/><circle cx="68.5" cy="436.3" r="1.85"/><circle cx="81.8" cy="439.2" r="1.85"/><circle cx="59.8" cy="432.9" r="1.85"/><circle cx="58.6" cy="449.7" r="1.85"/><circle cx="66.7" cy="451.4" r="1.85"/></g>
<g fill="#008000" fill-opacity="0.38"><circle cx="53.4" cy="424.8" r="1.85"/><circle cx="55.6" cy="425.5" r="1.85"/><circle cx="52.7" cy="425.6" r="1.85"/><circle cx="54.8" cy="426.2" r="1.85"/><circle cx="52.2" cy="426.5" r="1.85"/><circle cx="57.7" cy="426.2" r="1.85"/><circle cx="56.3" cy="428.0" r="1.85"/><circle cx="55.8" cy="427.5" r="1.85"/><circle cx="51.2" cy="428.4" r="1.85"/><circle cx="55.7" cy="428.7" r="1.85"/><circle cx="53.7" cy="428.6" r="1.85"/><circle cx="50.7" cy="428.2" r="1.85"/><circle cx="56.6" cy="429.5" r="1.85"/><circle cx="52.7" cy="429.7" r="1.85"/><circle cx="54.2" cy="429.4" r="1.85"/><circle cx="57.9" cy="429.8" r="1.85"/><circle cx="51.9" cy="429.7" r="1.85"/><circle cx="51.9" cy="431.1" r="1.85"/><circle cx="49.9" cy="430.5" r="1.85"/><circle cx="57.4" cy="430.3" r="1.85"/><circle cx="54.3" cy="430.1" r="1.85"/><circle cx="56.4" cy="430.9" r="1.85"/><circle cx="56.6" cy="431.7" r="1.85"/><circle cx="55.2" cy="431.6" r="1.85"/><circle cx="53.8" cy="431.8" r="1.85"/><circle cx="48.6" cy="431.8" r="1.85"/><circle cx="50.9" cy="432.5" r="1.85"/><circle cx="56.0" cy="432.1" r="1.85"/><circle cx="53.3" cy="432.3" r="1.85"/><circle cx="48.6" cy="432.2" r="1.85"/><circle cx="57.4" cy="432.2" r="1.85"/><circle cx="51.9" cy="434.0" r="1.85"/><circle cx="47.4" cy="433.5" r="1.85"/><circle cx="54.1" cy="434.0" r="1.85"/><circle cx="57.9" cy="434.0" r="1.85"/><circle cx="50.3" cy="433.5" r="1.85"/><circle cx="51.4" cy="434.0" r="1.85"/><circle cx="49.2" cy="434.3" r="1.85"/><circle cx="52.9" cy="434.7" r="1.85"/><circle cx="49.7" cy="434.1" r="1.85"/><circle cx="52.0" cy="434.5" r="1.85"/><circle cx="54.1" cy="435.1" r="1.85"/><circle cx="56.0" cy="434.6" r="1.85"/><circle cx="54.9" cy="434.8" r="1.85"/><circle cx="51.3" cy="435.5" r="1.85"/><circle cx="46.9" cy="435.7" r="1.85"/><circle cx="46.2" cy="435.2" r="1.85"/><circle cx="48.5" cy="435.3" r="1.85"/><circle cx="50.5" cy="435.2" r="1.85"/><circle cx="45.3" cy="435.3" r="1.85"/><circle cx="50.6" cy="436.1" r="1.85"/><circle cx="47.3" cy="436.4" r="1.85"/><circle cx="50.4" cy="436.5" r="1.85"/><circle cx="46.9" cy="436.9" r="1.85"/><circle cx="52.5" cy="436.2" r="1.85"/><circle cx="46.5" cy="436.4" r="1.85"/><circle cx="57.9" cy="437.3" r="1.85"/><circle cx="45.0" cy="438.1" r="1.85"/><circle cx="53.1" cy="437.2" r="1.85"/><circle cx="53.3" cy="437.1" r="1.85"/><circle cx="53.1" cy="438.1" r="1.85"/><circle cx="48.8" cy="437.5" r="1.85"/><circle cx="47.3" cy="437.9" r="1.85"/><circle cx="57.2" cy="438.4" r="1.85"/><circle cx="48.0" cy="438.9" r="1.85"/><circle cx="57.6" cy="438.9" r="1.85"/><circle cx="56.5" cy="438.3" r="1.85"/><circle cx="52.9" cy="438.5" r="1.85"/><circle cx="44.8" cy="438.1" r="1.85"/><circle cx="48.9" cy="438.4" r="1.85"/><circle cx="47.8" cy="439.3" r="1.85"/><circle cx="47.4" cy="439.3" r="1.85"/><circle cx="54.6" cy="440.0" r="1.85"/><circle cx="55.1" cy="439.9" r="1.85"/><circle cx="55.4" cy="441.0" r="1.85"/><circle cx="57.5" cy="440.9" r="1.85"/><circle cx="52.3" cy="440.3" r="1.85"/><circle cx="57.6" cy="440.4" r="1.85"/><circle cx="57.8" cy="441.1" r="1.85"/><circle cx="50.9" cy="440.5" r="1.85"/><circle cx="47.0" cy="440.2" r="1.85"/><circle cx="46.7" cy="441.0" r="1.85"/><circle cx="46.6" cy="441.9" r="1.85"/><circle cx="50.2" cy="441.6" r="1.85"/><circle cx="46.4" cy="441.1" r="1.85"/><circle cx="53.3" cy="442.0" r="1.85"/><circle cx="51.6" cy="442.0" r="1.85"/><circle cx="49.6" cy="442.3" r="1.85"/><circle cx="54.9" cy="442.4" r="1.85"/><circle cx="51.8" cy="442.2" r="1.85"/><circle cx="52.5" cy="442.7" r="1.85"/><circle cx="53.9" cy="442.6" r="1.85"/><circle cx="44.6" cy="442.5" r="1.85"/><circle cx="44.6" cy="443.9" r="1.85"/><circle cx="47.7" cy="443.6" r="1.85"/><circle cx="58.0" cy="443.7" r="1.85"/><circle cx="50.6" cy="443.6" r="1.85"/><circle cx="54.8" cy="443.9" r="1.85"/><circle cx="46.5" cy="443.7" r="1.85"/><circle cx="49.1" cy="443.4" r="1.85"/><circle cx="54.9" cy="443.9" r="1.85"/><circle cx="53.5" cy="444.7" r="1.85"/><circle cx="54.7" cy="444.6" r="1.85"/><circle cx="55.2" cy="444.6" r="1.85"/><circle cx="50.0" cy="444.7" r="1.85"/><circle cx="47.7" cy="444.2" r="1.85"/><circle cx="47.1" cy="445.3" r="1.85"/><circle cx="47.1" cy="445.8" r="1.85"/><circle cx="48.7" cy="445.8" r="1.85"/><circle cx="49.9" cy="446.1" r="1.85"/><circle cx="53.3" cy="445.6" r="1.85"/><circle cx="54.8" cy="446.6" r="1.85"/><circle cx="53.0" cy="446.3" r="1.85"/><circle cx="52.7" cy="446.8" r="1.85"/><circle cx="47.0" cy="446.7" r="1.85"/><circle cx="55.0" cy="446.1" r="1.85"/><circle cx="52.9" cy="446.7" r="1.85"/><circle cx="56.3" cy="446.2" r="1.85"/><circle cx="48.2" cy="447.9" r="1.85"/><circle cx="52.6" cy="447.2" r="1.85"/><circle cx="55.4" cy="448.0" r="1.85"/><circle cx="50.3" cy="448.0" r="1.85"/><circle cx="49.2" cy="447.2" r="1.85"/><circle cx="48.9" cy="448.0" r="1.85"/><circle cx="54.7" cy="448.7" r="1.85"/><circle cx="50.9" cy="448.6" r="1.85"/><circle cx="52.9" cy="448.2" r="1.85"/><circle cx="51.5" cy="448.2" r="1.85"/><circle cx="52.2" cy="448.4" r="1.85"/><circle cx="55.7" cy="449.1" r="1.85"/><circle cx="54.0" cy="449.1" r="1.85"/><circle cx="52.9" cy="449.6" r="1.85"/><circle cx="56.6" cy="450.2" r="1.85"/><circle cx="52.9" cy="450.2" r="1.85"/><circle cx="53.4" cy="450.2" r="1.85"/><circle cx="56.4" cy="451.3" r="1.85"/><circle cx="56.6" cy="451.6" r="1.85"/><circle cx="54.3" cy="451.5" r="1.85"/><circle cx="56.1" cy="452.1" r="1.85"/><circle cx="55.8" cy="452.1" r="1.85"/><circle cx="56.9" cy="451.5" r="1.85"/><circle cx="57.2" cy="452.2" r="1.85"/><circle cx="53.4" cy="452.4" r="1.85"/><circle cx="56.7" cy="452.7" r="1.85"/><circle cx="55.0" cy="453.9" r="1.85"/><circle cx="56.0" cy="454.2" r="1.85"/><circle cx="55.9" cy="383.7" r="1.85"/><circle cx="52.6" cy="393.6" r="1.85"/><circle cx="49.9" cy="400.8" r="1.85"/><circle cx="54.0" cy="403.4" r="1.85"/><circle cx="54.6" cy="403.8" r="1.85"/><circle cx="55.2" cy="404.2" r="1.85"/><circle cx="55.8" cy="404.6" r="1.85"/><circle cx="56.4" cy="405.0" r="1.85"/><circle cx="57.0" cy="405.5" r="1.85"/><circle cx="54.4" cy="404.8" r="1.85"/><circle cx="55.6" cy="405.6" r="1.85"/><circle cx="56.6" cy="406.2" r="1.85"/><circle cx="55.0" cy="403.5" r="1.85"/><circle cx="56.2" cy="403.9" r="1.85"/><circle cx="55.3" cy="405.2" r="1.85"/><circle cx="50.2" cy="410.1" r="1.85"/><circle cx="56.4" cy="409.8" r="1.85"/><circle cx="53.0" cy="413.2" r="1.85"/><circle cx="56.7" cy="413.5" r="1.85"/><circle cx="56.4" cy="415.0" r="1.85"/><circle cx="51.4" cy="417.8" r="1.85"/><circle cx="51.8" cy="418.1" r="1.85"/><circle cx="53.3" cy="421.2" r="1.85"/><circle cx="54.5" cy="421.8" r="1.85"/><circle cx="55.5" cy="424.3" r="1.85"/><circle cx="46.2" cy="427.7" r="1.85"/><circle cx="41.8" cy="432.3" r="1.85"/><circle cx="43.0" cy="433.6" r="1.85"/><circle cx="45.8" cy="428.2" r="1.85"/><circle cx="47.0" cy="429.6" r="1.85"/><circle cx="42.5" cy="434.8" r="1.85"/><circle cx="44.0" cy="431.2" r="1.85"/><circle cx="46.2" cy="410.6" r="1.85"/><circle cx="51.6" cy="432.9" r="1.85"/></g>
<g fill="#ffc0cb" fill-opacity="0.38"><circle cx="89.5" cy="392.3" r="1.85"/><circle cx="96.6" cy="399.4" r="1.85"/><circle cx="90.9" cy="433.2" r="1.85"/><circle cx="109.8" cy="452.9" r="1.85"/><circle cx="130.1" cy="434.7" r="1.85"/><circle cx="131.4" cy="459.2" r="1.85"/><circle cx="147.8" cy="466.0" r="1.85"/><circle cx="124.1" cy="448.4" r="1.85"/></g>
<line x1="61.39" y1="296.80" x2="61.39" y2="497.25" class="g"/>
<line x1="116.43" y1="296.80" x2="116.43" y2="497.25" class="g"/>
<line x1="171.47" y1="296.80" x2="171.47" y2="497.25" class="g"/>
<line x1="226.51" y1="296.80" x2="226.51" y2="497.25" class="g"/>
<line x1="32.80" y1="474.70" x2="235.00" y2="474.70" class="g"/>
<line x1="32.80" y1="441.75" x2="235.00" y2="441.75" class="g"/>
<line x1="32.80" y1="408.80" x2="235.00" y2="408.80" class="g"/>
<line x1="32.80" y1="375.85" x2="235.00" y2="375.85" class="g"/>
<line x1="32.80" y1="342.90" x2="235.00" y2="342.90" class="g"/>
<line x1="32.80" y1="309.95" x2="235.00" y2="309.95" class="g"/>
<rect x="32.80" y="296.80" width="202.20" height="200.45" class="f"/>
<line x1="61.39" y1="497.25" x2="61.39" y2="500.25" class="t"/>
<text x="61.39" y="507.45" class="tl" text-anchor="middle">−20</text>
<line x1="116.43" y1="497.25" x2="116.43" y2="500.25" class="t"/>
<text x="116.43" y="507.45" class="tl" text-anchor="middle">0</text>
<line x1="171.47" y1="497.25" x2="171.47" y2="500.25" class="t"/>
<text x="171.47" y="507.45" class="tl" text-anchor="middle">20</text>
<line x1="226.51" y1="497.25" x2="226.51" y2="500.25" class="t"/>
<text x="226.51" y="507.45" class="tl" text-anchor="middle">40</text>
<line x1="29.80" y1="474.70" x2="32.80" y2="474.70" class="t"/>
<text x="29.80" y="478.00" class="tl" text-anchor="end">−10</text>
<line x1="29.80" y1="441.75" x2="32.80" y2="441.75" class="t"/>
<text x="29.80" y="445.05" class="tl" text-anchor="end">0</text>
<line x1="29.80" y1="408.80" x2="32.80" y2="408.80" class="t"/>
<text x="29.80" y="412.10" class="tl" text-anchor="end">10</text>
<line x1="29.80" y1="375.85" x2="32.80" y2="375.85" class="t"/>
<text x="29.80" y="379.15" class="tl" text-anchor="end">20</text>
<line x1="29.80" y1="342.90" x2="32.80" y2="342.90" class="t"/>
<text x="29.80" y="346.20" class="tl" text-anchor="end">30</text>
<line x1="29.80" y1="309.95" x2="32.80" y2="309.95" class="t"/>
<text x="29.80" y="313.25" class="tl" text-anchor="end">40</text>
<text x="133.90" y="294.00" class="ti" text-anchor="middle" textLength="92.4" lengthAdjust="spacingAndGlyphs">2 component PCA</text>
<text x="133.90" y="518.20" class="al" text-anchor="middle" textLength="100" lengthAdjust="spacingAndGlyphs">Principal Component 1</text>
<text transform="translate(11.40,397.02) rotate(-90)" class="al" text-anchor="middle" textLength="99.6" lengthAdjust="spacingAndGlyphs">Principal Component 2</text>
<rect x="167.00" y="301.30" width="63.40" height="53.00" rx="1.8" fill="#fff" fill-opacity="0.93" stroke="#d6d6d6" stroke-width="0.8"/>
<circle cx="179.60" cy="308.70" r="2.1" fill="#0000ff" fill-opacity="0.3"/>
<text x="195.80" y="311.90" class="lg" textLength="30.3" lengthAdjust="spacingAndGlyphs">Cluster1</text>
<circle cx="179.60" cy="321.55" r="2.1" fill="#ff0000" fill-opacity="0.3"/>
<text x="195.80" y="324.75" class="lg" textLength="30.3" lengthAdjust="spacingAndGlyphs">Cluster2</text>
<circle cx="179.60" cy="334.40" r="2.1" fill="#008000" fill-opacity="0.3"/>
<text x="195.80" y="337.60" class="lg" textLength="30.3" lengthAdjust="spacingAndGlyphs">Cluster3</text>
<circle cx="179.60" cy="347.25" r="2.1" fill="#ffc0cb" fill-opacity="0.3"/>
<text x="195.80" y="350.45" class="lg" textLength="30.3" lengthAdjust="spacingAndGlyphs">Cluster4</text>
<text x="117.80" y="545.60" class="cap" text-anchor="middle" textLength="44.5" lengthAdjust="spacingAndGlyphs">(<tspan style="stroke-width:0.5">c</tspan>) K = 4.</text>
<clipPath id="cldL0"><polygon points="280.2,412.6 335.7,412.6 335.7,413.6 335.7,414.6 335.7,415.6 335.7,416.6 335.7,417.6 335.7,418.6 335.7,419.6 336.3,420.6 336.3,421.6 336.3,422.6 336.3,423.6 336.2,424.6 336.2,425.6 336.2,426.6 336.1,427.6 336.1,428.6 336.1,429.6 336.1,430.6 336.0,431.6 336.0,432.6 336.0,433.6 335.9,434.6 335.9,435.6 335.9,436.6 335.8,437.6 335.8,438.6 335.8,439.6 335.8,440.6 335.7,441.6 335.7,442.6 335.7,443.6 335.6,444.6 335.6,445.6 335.6,446.6 335.6,447.6 335.5,448.6 335.5,449.6 335.5,450.6 335.4,451.6 335.4,452.6 335.4,453.6 335.3,454.6 335.3,455.6 335.3,456.6 335.2,457.6 335.2,458.6 335.2,459.6 335.2,460.6 335.1,461.6 335.1,462.6 335.1,463.6 335.0,464.6 335.0,465.6 335.0,466.6 280.2,466.6"/></clipPath><polygon points="333.3,426.6 333.0,427.1 332.6,427.6 332.2,428.1 331.8,428.6 331.5,429.1 331.1,429.6 330.7,430.1 330.3,430.6 330.0,431.1 329.6,431.6 329.2,432.1 328.8,432.6 328.5,433.1 328.1,433.6 327.8,434.1 327.6,434.6 327.3,435.1 327.1,435.6 326.9,436.1 326.7,436.6 326.6,437.1 326.4,437.6 326.3,438.1 326.1,438.6 326.0,439.1 325.9,439.6 325.9,440.1 325.9,440.6 325.9,441.1 325.9,441.6 326.0,442.1 326.1,442.6 326.2,443.1 326.3,443.6 326.6,444.1 326.9,444.6 327.2,445.1 327.5,445.6 328.0,446.1 328.4,446.6 328.8,447.1 329.3,447.6 329.8,448.1 330.3,448.6 330.8,449.1 331.3,449.6 331.8,450.1 332.4,450.6 333.0,451.1 333.5,451.6 334.1,452.1 334.8,452.6 335.4,453.1 336.1,453.6 336.7,454.1 337.3,454.6 338.0,455.1 338.6,455.6 339.3,456.1 340.0,456.6 340.6,457.1 341.3,457.6 342.0,458.1 342.7,458.6 343.4,459.1 344.1,459.6 344.8,460.1 345.4,460.6 346.1,461.1 346.9,461.6 348.0,461.6 348.1,461.1 348.2,460.6 348.4,460.1 348.5,459.6 348.5,459.1 348.6,458.6 348.7,458.1 348.7,457.6 348.7,457.1 348.6,456.6 348.5,456.1 348.5,455.6 348.3,455.1 348.2,454.6 348.0,454.1 347.9,453.6 347.7,453.1 347.5,452.6 347.3,452.1 347.1,451.6 346.8,451.1 346.6,450.6 346.3,450.1 346.1,449.6 345.8,449.1 345.5,448.6 345.2,448.1 344.9,447.6 344.5,447.1 344.2,446.6 343.8,446.1 343.5,445.6 343.1,445.1 342.6,444.6 342.2,444.1 341.7,443.6 341.3,443.1 340.9,442.6 340.5,442.1 340.1,441.6 340.0,441.1 339.8,440.6 339.7,440.1 339.5,439.6 339.5,439.1 339.4,438.6 339.3,438.1 339.3,437.6 339.3,437.1 339.2,436.6 339.1,436.1 339.1,435.6 339.1,435.1 339.1,434.6 339.1,434.1 339.1,433.6 339.1,433.1 339.1,432.6 339.1,432.1 339.1,431.6 339.0,431.1 338.9,430.6 338.8,430.1 338.7,429.6 338.6,429.1 338.4,428.6 338.2,428.1 338.1,427.6 337.8,427.1 337.6,426.6" fill="#0000ff" clip-path="url(#cldL0)"/><clipPath id="cldL1"><polygon points="530.2,412.6 335.7,412.6 335.7,413.6 335.7,414.6 335.7,415.6 335.7,416.6 335.7,417.6 335.7,418.6 335.7,419.6 336.3,420.6 336.3,421.6 336.3,422.6 336.3,423.6 336.2,424.6 336.2,425.6 336.2,426.6 336.1,427.6 336.1,428.6 336.1,429.6 336.1,430.6 336.0,431.6 336.0,432.6 336.0,433.6 335.9,434.6 335.9,435.6 335.9,436.6 335.8,437.6 335.8,438.6 335.8,439.6 335.8,440.6 335.7,441.6 335.7,442.6 335.7,443.6 335.6,444.6 335.6,445.6 335.6,446.6 335.6,447.6 335.5,448.6 335.5,449.6 335.5,450.6 335.4,451.6 335.4,452.6 335.4,453.6 335.3,454.6 335.3,455.6 335.3,456.6 335.2,457.6 335.2,458.6 335.2,459.6 335.2,460.6 335.1,461.6 335.1,462.6 335.1,463.6 335.0,464.6 335.0,465.6 335.0,466.6 530.2,466.6"/></clipPath><polygon points="333.3,426.6 333.0,427.1 332.6,427.6 332.2,428.1 331.8,428.6 331.5,429.1 331.1,429.6 330.7,430.1 330.3,430.6 330.0,431.1 329.6,431.6 329.2,432.1 328.8,432.6 328.5,433.1 328.1,433.6 327.8,434.1 327.6,434.6 327.3,435.1 327.1,435.6 326.9,436.1 326.7,436.6 326.6,437.1 326.4,437.6 326.3,438.1 326.1,438.6 326.0,439.1 325.9,439.6 325.9,440.1 325.9,440.6 325.9,441.1 325.9,441.6 326.0,442.1 326.1,442.6 326.2,443.1 326.3,443.6 326.6,444.1 326.9,444.6 327.2,445.1 327.5,445.6 328.0,446.1 328.4,446.6 328.8,447.1 329.3,447.6 329.8,448.1 330.3,448.6 330.8,449.1 331.3,449.6 331.8,450.1 332.4,450.6 333.0,451.1 333.5,451.6 334.1,452.1 334.8,452.6 335.4,453.1 336.1,453.6 336.7,454.1 337.3,454.6 338.0,455.1 338.6,455.6 339.3,456.1 340.0,456.6 340.6,457.1 341.3,457.6 342.0,458.1 342.7,458.6 343.4,459.1 344.1,459.6 344.8,460.1 345.4,460.6 346.1,461.1 346.9,461.6 348.0,461.6 348.1,461.1 348.2,460.6 348.4,460.1 348.5,459.6 348.5,459.1 348.6,458.6 348.7,458.1 348.7,457.6 348.7,457.1 348.6,456.6 348.5,456.1 348.5,455.6 348.3,455.1 348.2,454.6 348.0,454.1 347.9,453.6 347.7,453.1 347.5,452.6 347.3,452.1 347.1,451.6 346.8,451.1 346.6,450.6 346.3,450.1 346.1,449.6 345.8,449.1 345.5,448.6 345.2,448.1 344.9,447.6 344.5,447.1 344.2,446.6 343.8,446.1 343.5,445.6 343.1,445.1 342.6,444.6 342.2,444.1 341.7,443.6 341.3,443.1 340.9,442.6 340.5,442.1 340.1,441.6 340.0,441.1 339.8,440.6 339.7,440.1 339.5,439.6 339.5,439.1 339.4,438.6 339.3,438.1 339.3,437.6 339.3,437.1 339.2,436.6 339.1,436.1 339.1,435.6 339.1,435.1 339.1,434.6 339.1,434.1 339.1,433.6 339.1,433.1 339.1,432.6 339.1,432.1 339.1,431.6 339.0,431.1 338.9,430.6 338.8,430.1 338.7,429.6 338.6,429.1 338.4,428.6 338.2,428.1 338.1,427.6 337.8,427.1 337.6,426.6" fill="#ffa500" clip-path="url(#cldL1)"/>
<clipPath id="cldR0"><rect x="494.8" y="282.6" width="35.4" height="280"/></clipPath><polygon points="498.8,404.6 498.5,405.1 498.3,405.6 498.0,406.1 497.8,406.6 497.6,407.1 497.5,407.6 497.4,408.1 497.2,408.6 497.0,409.1 496.9,409.6 496.8,410.1 496.6,410.6 496.5,411.1 496.3,411.6 496.2,412.1 496.1,412.6 495.9,413.1 495.8,413.6 495.6,414.1 495.3,414.6 495.1,415.1 494.8,415.6 494.6,416.1 494.4,416.6 494.1,417.1 493.9,417.6 493.6,418.1 493.4,418.6 493.0,419.1 492.7,419.6 492.4,420.1 492.0,420.6 491.6,421.1 491.3,421.6 491.0,422.1 490.6,422.6 490.5,423.1 490.5,423.6 490.4,424.1 490.3,424.6 490.3,425.1 490.2,425.6 490.0,426.1 489.9,426.6 489.7,427.1 489.6,427.6 489.4,428.1 489.3,428.6 489.1,429.1 489.0,429.6 489.0,430.1 489.1,430.6 489.1,431.1 489.2,431.6 489.2,432.1 489.3,432.6 489.3,433.1 489.4,433.6 489.4,434.1 489.4,434.6 489.4,435.1 489.4,435.6 489.5,436.1 489.5,436.6 489.5,437.1 489.5,437.6 489.6,438.1 489.6,438.6 489.6,439.1 489.5,439.6 489.5,440.1 489.4,440.6 489.4,441.1 489.3,441.6 489.3,442.1 489.3,442.6 489.2,443.1 489.2,443.6 489.1,444.1 489.1,444.6 489.0,445.1 489.0,445.6 488.9,446.1 488.8,446.6 488.7,447.1 488.6,447.6 488.5,448.1 488.4,448.6 488.3,449.1 488.2,449.6 488.1,450.1 488.0,450.6 487.9,451.1 487.8,451.6 487.7,452.1 487.6,452.6 487.5,453.1 487.4,453.6 487.3,454.1 487.2,454.6 487.1,455.1 487.0,455.6 486.9,456.1 486.8,456.6 486.8,457.1 486.9,457.6 486.9,458.1 486.9,458.6 486.9,459.1 486.9,459.6 487.0,460.1 487.0,460.6 487.2,461.1 487.4,461.6 487.6,462.1 487.9,462.6 488.1,463.1 488.3,463.6 488.5,464.1 488.7,464.6 489.0,465.1 489.2,465.6 489.4,466.1 489.6,466.6 489.7,467.1 489.9,467.6 490.0,468.1 490.2,468.6 490.3,469.1 490.4,469.6 490.6,470.1 490.7,470.6 490.9,471.1 491.0,471.6 491.3,472.1 491.6,472.6 496.7,472.6 496.8,472.1 497.0,471.6 497.0,471.1 497.1,470.6 497.1,470.1 497.2,469.6 497.2,469.1 497.2,468.6 497.3,468.1 497.3,467.6 497.4,467.1 497.4,466.6 497.4,466.1 497.4,465.6 497.5,465.1 497.5,464.6 497.5,464.1 497.5,463.6 497.5,463.1 497.5,462.6 497.5,462.1 497.6,461.6 497.6,461.1 497.6,460.6 497.6,460.1 497.7,459.6 497.7,459.1 497.7,458.6 497.7,458.1 497.7,457.6 497.8,457.1 497.8,456.6 497.9,456.1 498.0,455.6 498.1,455.1 498.2,454.6 498.3,454.1 498.4,453.6 498.5,453.1 498.6,452.6 498.7,452.1 498.8,451.6 498.9,451.1 499.0,450.6 499.0,450.1 499.0,449.6 499.0,449.1 499.0,448.6 499.0,448.1 499.0,447.6 499.0,447.1 499.0,446.6 499.0,446.1 499.0,445.6 499.0,445.1 498.9,444.6 498.9,444.1 498.8,443.6 498.8,443.1 498.7,442.6 498.7,442.1 498.7,441.6 498.6,441.1 498.6,440.6 498.5,440.1 498.5,439.6 498.4,439.1 498.4,438.6 498.5,438.1 498.6,437.6 498.7,437.1 498.8,436.6 498.9,436.1 499.0,435.6 499.1,435.1 499.2,434.6 499.3,434.1 499.4,433.6 499.5,433.1 499.6,432.6 499.4,432.1 499.3,431.6 499.1,431.1 498.9,430.6 498.8,430.1 498.6,429.6 498.8,429.1 498.9,428.6 499.0,428.1 499.2,427.6 499.4,427.1 499.5,426.6 499.6,426.1 499.8,425.6 499.7,425.1 499.6,424.6 499.5,424.1 499.4,423.6 499.3,423.1 499.2,422.6 499.3,422.1 499.4,421.6 499.4,421.1 499.5,420.6 499.6,420.1 499.6,419.6 499.7,419.1 499.8,418.6 499.9,418.1 499.9,417.6 500.0,417.1 500.1,416.6 500.2,416.1 500.2,415.6 500.3,415.1 500.4,414.6 500.4,414.1 500.5,413.6 500.8,413.1 501.0,412.6 501.3,412.1 501.5,411.6 501.8,411.1 502.0,410.6 501.9,410.1 501.7,409.6 501.5,409.1 501.4,408.6 501.3,408.1 501.1,407.6 501.0,407.1 500.8,406.6 500.9,406.1 501.0,405.6 501.1,405.1 501.2,404.6" fill="#ff0000" clip-path="url(#cldR0)"/>
<g fill="#0000ff" fill-opacity="0.38"><circle cx="333.6" cy="424.8" r="1.85"/><circle cx="335.8" cy="425.5" r="1.85"/><circle cx="332.9" cy="425.6" r="1.85"/><circle cx="335.0" cy="426.2" r="1.85"/><circle cx="332.4" cy="426.5" r="1.85"/><circle cx="336.0" cy="427.5" r="1.85"/><circle cx="331.4" cy="428.4" r="1.85"/><circle cx="335.9" cy="428.7" r="1.85"/><circle cx="333.9" cy="428.6" r="1.85"/><circle cx="330.9" cy="428.2" r="1.85"/><circle cx="332.9" cy="429.7" r="1.85"/><circle cx="334.4" cy="429.4" r="1.85"/><circle cx="332.1" cy="429.7" r="1.85"/><circle cx="332.1" cy="431.1" r="1.85"/><circle cx="330.1" cy="430.5" r="1.85"/><circle cx="334.5" cy="430.1" r="1.85"/><circle cx="335.4" cy="431.6" r="1.85"/><circle cx="334.0" cy="431.8" r="1.85"/><circle cx="328.8" cy="431.8" r="1.85"/><circle cx="331.1" cy="432.5" r="1.85"/><circle cx="333.5" cy="432.3" r="1.85"/><circle cx="328.8" cy="432.2" r="1.85"/><circle cx="332.1" cy="434.0" r="1.85"/><circle cx="327.6" cy="433.5" r="1.85"/><circle cx="334.3" cy="434.0" r="1.85"/><circle cx="330.5" cy="433.5" r="1.85"/><circle cx="331.6" cy="434.0" r="1.85"/><circle cx="329.4" cy="434.3" r="1.85"/><circle cx="333.1" cy="434.7" r="1.85"/><circle cx="329.9" cy="434.1" r="1.85"/><circle cx="332.2" cy="434.5" r="1.85"/><circle cx="334.3" cy="435.1" r="1.85"/><circle cx="335.1" cy="434.8" r="1.85"/><circle cx="331.5" cy="435.5" r="1.85"/><circle cx="327.1" cy="435.7" r="1.85"/><circle cx="326.4" cy="435.2" r="1.85"/><circle cx="328.7" cy="435.3" r="1.85"/><circle cx="330.7" cy="435.2" r="1.85"/><circle cx="325.5" cy="435.3" r="1.85"/><circle cx="330.8" cy="436.1" r="1.85"/><circle cx="327.5" cy="436.4" r="1.85"/><circle cx="330.6" cy="436.5" r="1.85"/><circle cx="327.1" cy="436.9" r="1.85"/><circle cx="332.7" cy="436.2" r="1.85"/><circle cx="326.7" cy="436.4" r="1.85"/><circle cx="325.2" cy="438.1" r="1.85"/><circle cx="333.3" cy="437.2" r="1.85"/><circle cx="333.5" cy="437.1" r="1.85"/><circle cx="333.3" cy="438.1" r="1.85"/><circle cx="329.0" cy="437.5" r="1.85"/><circle cx="327.5" cy="437.9" r="1.85"/><circle cx="328.2" cy="438.9" r="1.85"/><circle cx="333.1" cy="438.5" r="1.85"/><circle cx="325.0" cy="438.1" r="1.85"/><circle cx="329.1" cy="438.4" r="1.85"/><circle cx="328.0" cy="439.3" r="1.85"/><circle cx="327.6" cy="439.3" r="1.85"/><circle cx="334.8" cy="440.0" r="1.85"/><circle cx="335.3" cy="439.9" r="1.85"/><circle cx="335.6" cy="441.0" r="1.85"/><circle cx="332.5" cy="440.3" r="1.85"/><circle cx="331.1" cy="440.5" r="1.85"/><circle cx="327.2" cy="440.2" r="1.85"/><circle cx="326.9" cy="441.0" r="1.85"/><circle cx="326.8" cy="441.9" r="1.85"/><circle cx="330.4" cy="441.6" r="1.85"/><circle cx="326.6" cy="441.1" r="1.85"/><circle cx="333.5" cy="442.0" r="1.85"/><circle cx="331.8" cy="442.0" r="1.85"/><circle cx="329.8" cy="442.3" r="1.85"/><circle cx="335.1" cy="442.4" r="1.85"/><circle cx="332.0" cy="442.2" r="1.85"/><circle cx="332.7" cy="442.7" r="1.85"/><circle cx="334.1" cy="442.6" r="1.85"/><circle cx="324.8" cy="442.5" r="1.85"/><circle cx="324.8" cy="443.9" r="1.85"/><circle cx="327.9" cy="443.6" r="1.85"/><circle cx="330.8" cy="443.6" r="1.85"/><circle cx="335.0" cy="443.9" r="1.85"/><circle cx="326.7" cy="443.7" r="1.85"/><circle cx="329.3" cy="443.4" r="1.85"/><circle cx="335.1" cy="443.9" r="1.85"/><circle cx="333.7" cy="444.7" r="1.85"/><circle cx="334.9" cy="444.6" r="1.85"/><circle cx="335.4" cy="444.6" r="1.85"/><circle cx="330.2" cy="444.7" r="1.85"/><circle cx="327.9" cy="444.2" r="1.85"/><circle cx="327.3" cy="445.3" r="1.85"/><circle cx="327.3" cy="445.8" r="1.85"/><circle cx="328.9" cy="445.8" r="1.85"/><circle cx="330.1" cy="446.1" r="1.85"/><circle cx="333.5" cy="445.6" r="1.85"/><circle cx="335.0" cy="446.6" r="1.85"/><circle cx="333.2" cy="446.3" r="1.85"/><circle cx="332.9" cy="446.8" r="1.85"/><circle cx="327.2" cy="446.7" r="1.85"/><circle cx="335.2" cy="446.1" r="1.85"/><circle cx="333.1" cy="446.7" r="1.85"/><circle cx="328.4" cy="447.9" r="1.85"/><circle cx="332.8" cy="447.2" r="1.85"/><circle cx="330.5" cy="448.0" r="1.85"/><circle cx="329.4" cy="447.2" r="1.85"/><circle cx="329.1" cy="448.0" r="1.85"/><circle cx="334.9" cy="448.7" r="1.85"/><circle cx="331.1" cy="448.6" r="1.85"/><circle cx="333.1" cy="448.2" r="1.85"/><circle cx="331.7" cy="448.2" r="1.85"/><circle cx="332.4" cy="448.4" r="1.85"/><circle cx="334.2" cy="449.1" r="1.85"/><circle cx="333.1" cy="449.6" r="1.85"/><circle cx="333.1" cy="450.2" r="1.85"/><circle cx="333.6" cy="450.2" r="1.85"/><circle cx="334.5" cy="451.5" r="1.85"/><circle cx="333.6" cy="452.4" r="1.85"/><circle cx="335.2" cy="453.9" r="1.85"/><circle cx="336.1" cy="383.7" r="1.85"/><circle cx="332.8" cy="393.6" r="1.85"/><circle cx="330.1" cy="400.8" r="1.85"/><circle cx="334.2" cy="403.4" r="1.85"/><circle cx="334.8" cy="403.8" r="1.85"/><circle cx="335.4" cy="404.2" r="1.85"/><circle cx="334.6" cy="404.8" r="1.85"/><circle cx="335.2" cy="403.5" r="1.85"/><circle cx="335.5" cy="405.2" r="1.85"/><circle cx="330.4" cy="410.1" r="1.85"/><circle cx="333.2" cy="413.2" r="1.85"/><circle cx="331.6" cy="417.8" r="1.85"/><circle cx="332.0" cy="418.1" r="1.85"/><circle cx="333.5" cy="421.2" r="1.85"/><circle cx="334.7" cy="421.8" r="1.85"/><circle cx="335.7" cy="424.3" r="1.85"/><circle cx="326.4" cy="427.7" r="1.85"/><circle cx="322.0" cy="432.3" r="1.85"/><circle cx="323.2" cy="433.6" r="1.85"/><circle cx="326.0" cy="428.2" r="1.85"/><circle cx="327.2" cy="429.6" r="1.85"/><circle cx="322.7" cy="434.8" r="1.85"/><circle cx="324.2" cy="431.2" r="1.85"/><circle cx="326.4" cy="410.6" r="1.85"/><circle cx="331.8" cy="432.9" r="1.85"/><circle cx="340.0" cy="432.9" r="1.85"/></g>
<g fill="#ff0000" fill-opacity="0.38"><circle cx="502.9" cy="394.1" r="1.85"/><circle cx="497.8" cy="395.1" r="1.85"/><circle cx="499.7" cy="395.7" r="1.85"/><circle cx="499.7" cy="397.4" r="1.85"/><circle cx="497.2" cy="397.4" r="1.85"/><circle cx="497.8" cy="398.5" r="1.85"/><circle cx="504.1" cy="398.9" r="1.85"/><circle cx="499.7" cy="399.0" r="1.85"/><circle cx="501.4" cy="400.0" r="1.85"/><circle cx="500.0" cy="399.9" r="1.85"/><circle cx="497.0" cy="401.4" r="1.85"/><circle cx="498.6" cy="401.5" r="1.85"/><circle cx="498.3" cy="400.9" r="1.85"/><circle cx="497.6" cy="402.0" r="1.85"/><circle cx="504.5" cy="402.5" r="1.85"/><circle cx="503.2" cy="402.2" r="1.85"/><circle cx="504.4" cy="403.1" r="1.85"/><circle cx="502.4" cy="402.6" r="1.85"/><circle cx="502.5" cy="403.1" r="1.85"/><circle cx="501.5" cy="403.9" r="1.85"/><circle cx="496.0" cy="404.5" r="1.85"/><circle cx="496.7" cy="404.1" r="1.85"/><circle cx="497.9" cy="405.3" r="1.85"/><circle cx="504.4" cy="404.9" r="1.85"/><circle cx="501.3" cy="404.9" r="1.85"/><circle cx="500.4" cy="405.0" r="1.85"/><circle cx="496.1" cy="405.8" r="1.85"/><circle cx="503.5" cy="406.1" r="1.85"/><circle cx="496.7" cy="406.5" r="1.85"/><circle cx="504.4" cy="406.0" r="1.85"/><circle cx="496.1" cy="406.7" r="1.85"/><circle cx="497.7" cy="406.7" r="1.85"/><circle cx="496.6" cy="406.9" r="1.85"/><circle cx="500.0" cy="407.5" r="1.85"/><circle cx="501.9" cy="407.0" r="1.85"/><circle cx="499.6" cy="408.0" r="1.85"/><circle cx="497.5" cy="407.7" r="1.85"/><circle cx="496.9" cy="408.6" r="1.85"/><circle cx="495.2" cy="408.1" r="1.85"/><circle cx="500.7" cy="408.5" r="1.85"/><circle cx="496.7" cy="408.8" r="1.85"/><circle cx="498.1" cy="409.0" r="1.85"/><circle cx="504.5" cy="409.4" r="1.85"/><circle cx="503.6" cy="408.6" r="1.85"/><circle cx="499.0" cy="410.2" r="1.85"/><circle cx="504.5" cy="410.4" r="1.85"/><circle cx="503.6" cy="410.6" r="1.85"/><circle cx="496.3" cy="409.7" r="1.85"/><circle cx="499.4" cy="411.3" r="1.85"/><circle cx="504.5" cy="411.3" r="1.85"/><circle cx="500.9" cy="411.4" r="1.85"/><circle cx="498.6" cy="411.2" r="1.85"/><circle cx="495.8" cy="411.5" r="1.85"/><circle cx="496.4" cy="411.7" r="1.85"/><circle cx="495.7" cy="412.2" r="1.85"/><circle cx="501.1" cy="411.7" r="1.85"/><circle cx="499.7" cy="412.0" r="1.85"/><circle cx="499.5" cy="412.6" r="1.85"/><circle cx="496.0" cy="413.1" r="1.85"/><circle cx="503.8" cy="413.2" r="1.85"/><circle cx="502.9" cy="413.1" r="1.85"/><circle cx="495.2" cy="412.8" r="1.85"/><circle cx="503.8" cy="413.3" r="1.85"/><circle cx="500.1" cy="414.0" r="1.85"/><circle cx="495.1" cy="414.3" r="1.85"/><circle cx="503.0" cy="413.8" r="1.85"/><circle cx="497.1" cy="414.3" r="1.85"/><circle cx="501.3" cy="415.3" r="1.85"/><circle cx="497.7" cy="414.8" r="1.85"/><circle cx="503.4" cy="414.9" r="1.85"/><circle cx="501.6" cy="414.8" r="1.85"/><circle cx="495.2" cy="415.6" r="1.85"/><circle cx="496.3" cy="416.3" r="1.85"/><circle cx="503.0" cy="415.7" r="1.85"/><circle cx="496.0" cy="415.8" r="1.85"/><circle cx="503.3" cy="415.7" r="1.85"/><circle cx="502.2" cy="417.5" r="1.85"/><circle cx="500.1" cy="417.6" r="1.85"/><circle cx="502.6" cy="416.9" r="1.85"/><circle cx="500.2" cy="416.6" r="1.85"/><circle cx="499.2" cy="417.0" r="1.85"/><circle cx="501.0" cy="418.4" r="1.85"/><circle cx="501.8" cy="418.6" r="1.85"/><circle cx="495.2" cy="419.4" r="1.85"/><circle cx="500.0" cy="418.6" r="1.85"/><circle cx="501.6" cy="419.9" r="1.85"/><circle cx="497.6" cy="419.9" r="1.85"/><circle cx="499.0" cy="419.9" r="1.85"/><circle cx="501.7" cy="421.2" r="1.85"/><circle cx="502.1" cy="420.6" r="1.85"/><circle cx="502.3" cy="421.6" r="1.85"/><circle cx="498.8" cy="422.4" r="1.85"/><circle cx="499.3" cy="422.2" r="1.85"/><circle cx="501.0" cy="423.6" r="1.85"/><circle cx="498.2" cy="423.0" r="1.85"/><circle cx="497.8" cy="424.3" r="1.85"/><circle cx="500.5" cy="424.3" r="1.85"/><circle cx="496.3" cy="424.9" r="1.85"/><circle cx="495.1" cy="424.8" r="1.85"/><circle cx="500.1" cy="425.3" r="1.85"/><circle cx="503.1" cy="424.7" r="1.85"/><circle cx="500.6" cy="425.5" r="1.85"/><circle cx="496.2" cy="426.5" r="1.85"/><circle cx="499.5" cy="426.5" r="1.85"/><circle cx="496.8" cy="425.8" r="1.85"/><circle cx="497.1" cy="426.8" r="1.85"/><circle cx="497.5" cy="426.8" r="1.85"/><circle cx="499.5" cy="427.1" r="1.85"/><circle cx="495.1" cy="428.2" r="1.85"/><circle cx="497.5" cy="428.0" r="1.85"/><circle cx="501.8" cy="427.9" r="1.85"/><circle cx="495.4" cy="428.0" r="1.85"/><circle cx="502.5" cy="428.0" r="1.85"/><circle cx="497.7" cy="428.8" r="1.85"/><circle cx="496.3" cy="429.5" r="1.85"/><circle cx="501.0" cy="429.7" r="1.85"/><circle cx="501.7" cy="429.8" r="1.85"/><circle cx="501.9" cy="430.1" r="1.85"/><circle cx="501.0" cy="431.2" r="1.85"/><circle cx="499.6" cy="430.8" r="1.85"/><circle cx="499.0" cy="430.8" r="1.85"/><circle cx="499.7" cy="430.8" r="1.85"/><circle cx="501.2" cy="431.6" r="1.85"/><circle cx="495.4" cy="432.4" r="1.85"/><circle cx="495.2" cy="432.2" r="1.85"/><circle cx="495.8" cy="432.0" r="1.85"/><circle cx="497.1" cy="432.0" r="1.85"/><circle cx="498.9" cy="433.4" r="1.85"/><circle cx="499.0" cy="434.1" r="1.85"/><circle cx="502.7" cy="434.3" r="1.85"/><circle cx="499.7" cy="433.8" r="1.85"/><circle cx="501.2" cy="434.8" r="1.85"/><circle cx="499.1" cy="435.5" r="1.85"/><circle cx="498.5" cy="434.8" r="1.85"/><circle cx="500.9" cy="434.9" r="1.85"/><circle cx="499.5" cy="434.7" r="1.85"/><circle cx="501.1" cy="435.8" r="1.85"/><circle cx="501.4" cy="436.3" r="1.85"/><circle cx="500.7" cy="435.8" r="1.85"/><circle cx="498.9" cy="435.7" r="1.85"/><circle cx="496.3" cy="437.0" r="1.85"/><circle cx="500.1" cy="437.2" r="1.85"/><circle cx="495.4" cy="437.5" r="1.85"/><circle cx="496.2" cy="437.0" r="1.85"/><circle cx="498.9" cy="436.9" r="1.85"/><circle cx="502.0" cy="437.2" r="1.85"/><circle cx="498.3" cy="438.0" r="1.85"/><circle cx="501.7" cy="438.2" r="1.85"/><circle cx="496.6" cy="437.9" r="1.85"/><circle cx="495.8" cy="439.0" r="1.85"/><circle cx="496.4" cy="438.6" r="1.85"/><circle cx="501.0" cy="439.8" r="1.85"/><circle cx="496.2" cy="440.5" r="1.85"/><circle cx="498.5" cy="440.0" r="1.85"/><circle cx="495.0" cy="441.0" r="1.85"/><circle cx="496.4" cy="441.0" r="1.85"/><circle cx="501.1" cy="441.3" r="1.85"/><circle cx="494.8" cy="442.5" r="1.85"/><circle cx="495.8" cy="442.1" r="1.85"/><circle cx="496.3" cy="442.4" r="1.85"/><circle cx="500.4" cy="442.4" r="1.85"/><circle cx="497.5" cy="441.6" r="1.85"/><circle cx="498.1" cy="443.1" r="1.85"/><circle cx="498.0" cy="443.1" r="1.85"/><circle cx="497.2" cy="443.4" r="1.85"/><circle cx="497.5" cy="442.9" r="1.85"/><circle cx="496.4" cy="444.6" r="1.85"/><circle cx="501.4" cy="444.3" r="1.85"/><circle cx="500.4" cy="444.9" r="1.85"/><circle cx="496.2" cy="445.3" r="1.85"/><circle cx="496.8" cy="445.6" r="1.85"/><circle cx="497.3" cy="445.5" r="1.85"/><circle cx="495.2" cy="444.9" r="1.85"/><circle cx="496.0" cy="445.7" r="1.85"/><circle cx="501.0" cy="445.7" r="1.85"/><circle cx="501.3" cy="445.9" r="1.85"/><circle cx="496.2" cy="446.3" r="1.85"/><circle cx="498.0" cy="445.7" r="1.85"/><circle cx="499.4" cy="447.5" r="1.85"/><circle cx="501.0" cy="447.5" r="1.85"/><circle cx="499.9" cy="447.4" r="1.85"/><circle cx="496.2" cy="447.4" r="1.85"/><circle cx="497.5" cy="448.0" r="1.85"/><circle cx="500.1" cy="448.7" r="1.85"/><circle cx="499.3" cy="448.8" r="1.85"/><circle cx="498.3" cy="449.6" r="1.85"/><circle cx="498.9" cy="449.8" r="1.85"/><circle cx="499.5" cy="449.9" r="1.85"/><circle cx="501.5" cy="449.9" r="1.85"/><circle cx="496.0" cy="449.7" r="1.85"/><circle cx="498.7" cy="450.3" r="1.85"/><circle cx="495.7" cy="451.0" r="1.85"/><circle cx="500.4" cy="450.7" r="1.85"/><circle cx="500.4" cy="450.6" r="1.85"/><circle cx="500.6" cy="451.1" r="1.85"/><circle cx="497.8" cy="452.4" r="1.85"/><circle cx="495.8" cy="451.9" r="1.85"/><circle cx="499.4" cy="452.3" r="1.85"/><circle cx="497.6" cy="451.8" r="1.85"/><circle cx="496.7" cy="453.4" r="1.85"/><circle cx="501.6" cy="453.3" r="1.85"/><circle cx="498.1" cy="454.3" r="1.85"/><circle cx="495.3" cy="453.7" r="1.85"/><circle cx="498.0" cy="454.3" r="1.85"/><circle cx="499.9" cy="455.0" r="1.85"/><circle cx="496.6" cy="455.5" r="1.85"/><circle cx="497.5" cy="455.3" r="1.85"/><circle cx="498.9" cy="455.3" r="1.85"/><circle cx="496.2" cy="456.2" r="1.85"/><circle cx="500.1" cy="455.8" r="1.85"/><circle cx="497.3" cy="457.0" r="1.85"/><circle cx="500.2" cy="457.1" r="1.85"/><circle cx="500.3" cy="457.8" r="1.85"/><circle cx="495.6" cy="458.0" r="1.85"/><circle cx="497.0" cy="457.7" r="1.85"/><circle cx="500.9" cy="458.0" r="1.85"/><circle cx="500.1" cy="459.1" r="1.85"/><circle cx="497.8" cy="459.2" r="1.85"/><circle cx="500.5" cy="460.0" r="1.85"/><circle cx="497.9" cy="460.1" r="1.85"/><circle cx="495.2" cy="461.0" r="1.85"/><circle cx="499.8" cy="461.5" r="1.85"/><circle cx="499.4" cy="461.4" r="1.85"/><circle cx="498.2" cy="462.2" r="1.85"/><circle cx="500.2" cy="462.3" r="1.85"/><circle cx="497.3" cy="461.9" r="1.85"/><circle cx="497.5" cy="461.8" r="1.85"/><circle cx="495.6" cy="463.5" r="1.85"/><circle cx="497.5" cy="463.4" r="1.85"/><circle cx="498.8" cy="463.6" r="1.85"/><circle cx="498.4" cy="464.1" r="1.85"/><circle cx="500.3" cy="464.7" r="1.85"/><circle cx="495.3" cy="465.2" r="1.85"/><circle cx="496.0" cy="465.5" r="1.85"/><circle cx="495.3" cy="465.9" r="1.85"/><circle cx="498.8" cy="466.0" r="1.85"/><circle cx="497.5" cy="465.8" r="1.85"/><circle cx="498.3" cy="466.9" r="1.85"/><circle cx="498.3" cy="467.0" r="1.85"/><circle cx="495.8" cy="467.4" r="1.85"/><circle cx="497.7" cy="467.6" r="1.85"/><circle cx="496.8" cy="468.5" r="1.85"/><circle cx="495.2" cy="468.3" r="1.85"/><circle cx="499.4" cy="469.2" r="1.85"/><circle cx="495.4" cy="469.2" r="1.85"/><circle cx="496.5" cy="469.2" r="1.85"/><circle cx="496.3" cy="468.8" r="1.85"/><circle cx="496.1" cy="469.1" r="1.85"/><circle cx="497.4" cy="468.7" r="1.85"/><circle cx="499.5" cy="470.3" r="1.85"/><circle cx="497.7" cy="470.2" r="1.85"/><circle cx="495.8" cy="471.5" r="1.85"/><circle cx="498.0" cy="471.2" r="1.85"/><circle cx="499.5" cy="471.0" r="1.85"/><circle cx="499.6" cy="472.6" r="1.85"/><circle cx="496.7" cy="472.8" r="1.85"/><circle cx="497.3" cy="474.3" r="1.85"/><circle cx="498.1" cy="474.3" r="1.85"/><circle cx="495.7" cy="475.3" r="1.85"/><circle cx="496.9" cy="476.7" r="1.85"/><circle cx="496.7" cy="476.6" r="1.85"/></g>
<g fill="#008000" fill-opacity="0.38"><circle cx="369.7" cy="392.3" r="1.85"/><circle cx="376.8" cy="399.4" r="1.85"/><circle cx="371.1" cy="433.2" r="1.85"/><circle cx="390.0" cy="452.9" r="1.85"/><circle cx="410.3" cy="434.7" r="1.85"/><circle cx="411.6" cy="459.2" r="1.85"/><circle cx="428.0" cy="466.0" r="1.85"/><circle cx="404.3" cy="448.4" r="1.85"/></g>
<g fill="#ffc0cb" fill-opacity="0.38"><circle cx="493.9" cy="409.3" r="1.85"/><circle cx="493.3" cy="410.0" r="1.85"/><circle cx="493.5" cy="411.4" r="1.85"/><circle cx="493.5" cy="412.1" r="1.85"/><circle cx="492.3" cy="414.1" r="1.85"/><circle cx="492.5" cy="413.9" r="1.85"/><circle cx="494.3" cy="415.4" r="1.85"/><circle cx="493.5" cy="415.8" r="1.85"/><circle cx="491.8" cy="415.7" r="1.85"/><circle cx="493.0" cy="417.5" r="1.85"/><circle cx="494.5" cy="417.8" r="1.85"/><circle cx="490.2" cy="417.9" r="1.85"/><circle cx="494.8" cy="418.6" r="1.85"/><circle cx="491.8" cy="418.6" r="1.85"/><circle cx="492.9" cy="418.0" r="1.85"/><circle cx="490.2" cy="419.1" r="1.85"/><circle cx="494.6" cy="419.5" r="1.85"/><circle cx="492.2" cy="419.0" r="1.85"/><circle cx="489.7" cy="420.5" r="1.85"/><circle cx="492.5" cy="420.3" r="1.85"/><circle cx="492.7" cy="420.6" r="1.85"/><circle cx="492.8" cy="419.6" r="1.85"/><circle cx="491.6" cy="421.1" r="1.85"/><circle cx="493.9" cy="420.9" r="1.85"/><circle cx="494.5" cy="421.1" r="1.85"/><circle cx="490.3" cy="422.4" r="1.85"/><circle cx="492.5" cy="421.9" r="1.85"/><circle cx="493.0" cy="422.4" r="1.85"/><circle cx="488.7" cy="421.8" r="1.85"/><circle cx="490.9" cy="422.7" r="1.85"/><circle cx="487.6" cy="423.2" r="1.85"/><circle cx="492.2" cy="423.6" r="1.85"/><circle cx="491.2" cy="422.7" r="1.85"/><circle cx="488.6" cy="423.1" r="1.85"/><circle cx="493.6" cy="424.2" r="1.85"/><circle cx="488.9" cy="424.4" r="1.85"/><circle cx="491.6" cy="424.2" r="1.85"/><circle cx="492.9" cy="424.3" r="1.85"/><circle cx="490.1" cy="423.8" r="1.85"/><circle cx="490.8" cy="423.8" r="1.85"/><circle cx="493.3" cy="425.6" r="1.85"/><circle cx="494.6" cy="425.4" r="1.85"/><circle cx="491.4" cy="425.7" r="1.85"/><circle cx="489.7" cy="426.6" r="1.85"/><circle cx="492.7" cy="426.5" r="1.85"/><circle cx="494.0" cy="425.9" r="1.85"/><circle cx="488.3" cy="426.2" r="1.85"/><circle cx="488.6" cy="426.8" r="1.85"/><circle cx="490.5" cy="427.2" r="1.85"/><circle cx="486.4" cy="426.9" r="1.85"/><circle cx="491.4" cy="426.8" r="1.85"/><circle cx="487.3" cy="426.7" r="1.85"/><circle cx="487.5" cy="427.8" r="1.85"/><circle cx="490.7" cy="427.9" r="1.85"/><circle cx="492.9" cy="428.5" r="1.85"/><circle cx="485.7" cy="429.5" r="1.85"/><circle cx="492.7" cy="429.4" r="1.85"/><circle cx="492.4" cy="429.5" r="1.85"/><circle cx="493.3" cy="428.8" r="1.85"/><circle cx="485.9" cy="429.2" r="1.85"/><circle cx="487.1" cy="429.2" r="1.85"/><circle cx="494.0" cy="429.7" r="1.85"/><circle cx="490.3" cy="430.1" r="1.85"/><circle cx="493.7" cy="430.4" r="1.85"/><circle cx="487.7" cy="430.5" r="1.85"/><circle cx="486.4" cy="430.5" r="1.85"/><circle cx="492.5" cy="431.4" r="1.85"/><circle cx="489.3" cy="431.0" r="1.85"/><circle cx="494.4" cy="431.0" r="1.85"/><circle cx="487.7" cy="430.8" r="1.85"/><circle cx="486.4" cy="432.4" r="1.85"/><circle cx="487.8" cy="432.2" r="1.85"/><circle cx="491.0" cy="432.0" r="1.85"/><circle cx="486.2" cy="433.2" r="1.85"/><circle cx="494.2" cy="432.8" r="1.85"/><circle cx="493.7" cy="432.8" r="1.85"/><circle cx="494.0" cy="432.7" r="1.85"/><circle cx="488.0" cy="433.0" r="1.85"/><circle cx="487.4" cy="433.0" r="1.85"/><circle cx="494.6" cy="432.6" r="1.85"/><circle cx="487.3" cy="434.3" r="1.85"/><circle cx="486.8" cy="434.1" r="1.85"/><circle cx="492.3" cy="434.6" r="1.85"/><circle cx="488.2" cy="434.5" r="1.85"/><circle cx="494.1" cy="435.6" r="1.85"/><circle cx="487.0" cy="435.0" r="1.85"/><circle cx="490.3" cy="436.1" r="1.85"/><circle cx="491.2" cy="435.6" r="1.85"/><circle cx="489.0" cy="435.8" r="1.85"/><circle cx="487.7" cy="437.6" r="1.85"/><circle cx="488.9" cy="438.3" r="1.85"/><circle cx="486.8" cy="438.4" r="1.85"/><circle cx="490.1" cy="438.2" r="1.85"/><circle cx="486.1" cy="437.6" r="1.85"/><circle cx="494.2" cy="439.5" r="1.85"/><circle cx="488.2" cy="438.8" r="1.85"/><circle cx="486.1" cy="439.0" r="1.85"/><circle cx="487.7" cy="439.0" r="1.85"/><circle cx="489.6" cy="439.2" r="1.85"/><circle cx="489.3" cy="440.2" r="1.85"/><circle cx="493.6" cy="439.7" r="1.85"/><circle cx="488.4" cy="439.7" r="1.85"/><circle cx="490.2" cy="439.6" r="1.85"/><circle cx="489.9" cy="441.5" r="1.85"/><circle cx="486.6" cy="441.1" r="1.85"/><circle cx="492.5" cy="440.8" r="1.85"/><circle cx="486.8" cy="441.4" r="1.85"/><circle cx="488.1" cy="441.8" r="1.85"/><circle cx="488.7" cy="441.9" r="1.85"/><circle cx="490.7" cy="441.6" r="1.85"/><circle cx="489.5" cy="442.7" r="1.85"/><circle cx="489.6" cy="442.6" r="1.85"/><circle cx="491.3" cy="443.3" r="1.85"/><circle cx="492.9" cy="444.4" r="1.85"/><circle cx="494.4" cy="443.9" r="1.85"/><circle cx="489.3" cy="444.5" r="1.85"/><circle cx="485.9" cy="443.9" r="1.85"/><circle cx="489.6" cy="444.3" r="1.85"/><circle cx="489.6" cy="445.5" r="1.85"/><circle cx="493.5" cy="445.4" r="1.85"/><circle cx="492.9" cy="445.3" r="1.85"/><circle cx="485.9" cy="445.7" r="1.85"/><circle cx="487.8" cy="445.6" r="1.85"/><circle cx="486.1" cy="446.3" r="1.85"/><circle cx="491.5" cy="447.4" r="1.85"/><circle cx="486.3" cy="447.5" r="1.85"/><circle cx="487.1" cy="446.8" r="1.85"/><circle cx="487.1" cy="446.6" r="1.85"/><circle cx="490.0" cy="447.7" r="1.85"/><circle cx="486.7" cy="448.4" r="1.85"/><circle cx="488.6" cy="447.9" r="1.85"/><circle cx="492.4" cy="447.6" r="1.85"/><circle cx="489.5" cy="447.9" r="1.85"/><circle cx="490.6" cy="448.6" r="1.85"/><circle cx="493.8" cy="448.5" r="1.85"/><circle cx="485.3" cy="449.0" r="1.85"/><circle cx="492.5" cy="449.4" r="1.85"/><circle cx="490.9" cy="449.3" r="1.85"/><circle cx="494.3" cy="448.8" r="1.85"/><circle cx="484.8" cy="448.8" r="1.85"/><circle cx="493.4" cy="450.1" r="1.85"/><circle cx="493.5" cy="449.9" r="1.85"/><circle cx="488.4" cy="450.3" r="1.85"/><circle cx="493.5" cy="449.7" r="1.85"/><circle cx="491.6" cy="451.0" r="1.85"/><circle cx="488.1" cy="450.9" r="1.85"/><circle cx="491.2" cy="451.5" r="1.85"/><circle cx="488.6" cy="451.1" r="1.85"/><circle cx="490.1" cy="451.8" r="1.85"/><circle cx="492.1" cy="452.4" r="1.85"/><circle cx="494.6" cy="451.7" r="1.85"/><circle cx="492.5" cy="452.5" r="1.85"/><circle cx="487.4" cy="452.9" r="1.85"/><circle cx="486.8" cy="452.8" r="1.85"/><circle cx="488.5" cy="452.9" r="1.85"/><circle cx="493.4" cy="452.8" r="1.85"/><circle cx="489.9" cy="452.8" r="1.85"/><circle cx="485.8" cy="453.6" r="1.85"/><circle cx="490.7" cy="454.6" r="1.85"/><circle cx="491.6" cy="453.8" r="1.85"/><circle cx="487.5" cy="454.0" r="1.85"/><circle cx="484.4" cy="454.0" r="1.85"/><circle cx="492.8" cy="454.2" r="1.85"/><circle cx="486.2" cy="455.2" r="1.85"/><circle cx="490.9" cy="455.3" r="1.85"/><circle cx="493.9" cy="455.3" r="1.85"/><circle cx="491.2" cy="454.8" r="1.85"/><circle cx="491.6" cy="455.9" r="1.85"/><circle cx="494.7" cy="455.7" r="1.85"/><circle cx="491.0" cy="456.4" r="1.85"/><circle cx="487.9" cy="456.0" r="1.85"/><circle cx="491.6" cy="456.2" r="1.85"/><circle cx="490.8" cy="456.3" r="1.85"/><circle cx="492.1" cy="457.6" r="1.85"/><circle cx="484.0" cy="457.1" r="1.85"/><circle cx="486.2" cy="457.4" r="1.85"/><circle cx="485.1" cy="457.2" r="1.85"/><circle cx="493.0" cy="457.3" r="1.85"/><circle cx="492.5" cy="457.2" r="1.85"/><circle cx="492.7" cy="458.0" r="1.85"/><circle cx="484.4" cy="457.9" r="1.85"/><circle cx="490.5" cy="457.6" r="1.85"/><circle cx="490.8" cy="458.0" r="1.85"/><circle cx="489.7" cy="458.9" r="1.85"/><circle cx="487.4" cy="459.3" r="1.85"/><circle cx="487.3" cy="459.4" r="1.85"/><circle cx="490.4" cy="458.8" r="1.85"/><circle cx="485.7" cy="459.4" r="1.85"/><circle cx="491.8" cy="459.2" r="1.85"/><circle cx="494.7" cy="460.4" r="1.85"/><circle cx="488.7" cy="460.1" r="1.85"/><circle cx="485.7" cy="460.4" r="1.85"/><circle cx="489.7" cy="460.5" r="1.85"/><circle cx="488.2" cy="460.0" r="1.85"/><circle cx="488.0" cy="460.0" r="1.85"/><circle cx="483.8" cy="461.3" r="1.85"/><circle cx="488.6" cy="460.8" r="1.85"/><circle cx="489.0" cy="461.1" r="1.85"/><circle cx="491.2" cy="461.2" r="1.85"/><circle cx="484.7" cy="461.4" r="1.85"/><circle cx="484.4" cy="461.6" r="1.85"/><circle cx="488.4" cy="461.7" r="1.85"/><circle cx="486.6" cy="461.8" r="1.85"/><circle cx="486.7" cy="462.5" r="1.85"/><circle cx="494.6" cy="463.4" r="1.85"/><circle cx="487.8" cy="463.3" r="1.85"/><circle cx="493.3" cy="463.3" r="1.85"/><circle cx="491.8" cy="463.5" r="1.85"/><circle cx="493.7" cy="462.9" r="1.85"/><circle cx="487.2" cy="464.1" r="1.85"/><circle cx="485.9" cy="464.1" r="1.85"/><circle cx="487.3" cy="464.1" r="1.85"/><circle cx="493.0" cy="464.1" r="1.85"/><circle cx="494.0" cy="464.3" r="1.85"/><circle cx="491.3" cy="465.0" r="1.85"/><circle cx="485.9" cy="465.2" r="1.85"/><circle cx="490.6" cy="465.6" r="1.85"/><circle cx="493.4" cy="465.1" r="1.85"/><circle cx="486.4" cy="466.3" r="1.85"/><circle cx="493.0" cy="466.1" r="1.85"/><circle cx="492.4" cy="466.0" r="1.85"/><circle cx="493.6" cy="466.9" r="1.85"/><circle cx="493.6" cy="467.6" r="1.85"/><circle cx="491.1" cy="466.9" r="1.85"/><circle cx="490.6" cy="467.2" r="1.85"/><circle cx="494.3" cy="467.6" r="1.85"/><circle cx="490.8" cy="467.6" r="1.85"/><circle cx="489.2" cy="468.5" r="1.85"/><circle cx="487.6" cy="470.4" r="1.85"/><circle cx="492.1" cy="470.4" r="1.85"/><circle cx="490.6" cy="469.9" r="1.85"/><circle cx="492.8" cy="469.9" r="1.85"/><circle cx="488.1" cy="471.2" r="1.85"/><circle cx="487.9" cy="470.7" r="1.85"/><circle cx="487.5" cy="471.0" r="1.85"/><circle cx="493.8" cy="472.0" r="1.85"/><circle cx="489.1" cy="472.2" r="1.85"/><circle cx="490.5" cy="471.8" r="1.85"/><circle cx="488.0" cy="471.6" r="1.85"/><circle cx="489.8" cy="473.6" r="1.85"/><circle cx="489.4" cy="473.5" r="1.85"/><circle cx="489.9" cy="472.6" r="1.85"/><circle cx="491.0" cy="473.7" r="1.85"/><circle cx="494.2" cy="475.5" r="1.85"/><circle cx="492.2" cy="475.6" r="1.85"/><circle cx="491.1" cy="475.6" r="1.85"/><circle cx="475.8" cy="452.9" r="1.85"/><circle cx="475.5" cy="452.6" r="1.85"/><circle cx="478.2" cy="427.8" r="1.85"/><circle cx="482.8" cy="441.7" r="1.85"/><circle cx="481.1" cy="433.7" r="1.85"/><circle cx="482.1" cy="444.8" r="1.85"/><circle cx="481.8" cy="451.1" r="1.85"/><circle cx="477.0" cy="465.0" r="1.85"/><circle cx="478.7" cy="473.7" r="1.85"/><circle cx="481.1" cy="469.7" r="1.85"/><circle cx="484.0" cy="472.6" r="1.85"/><circle cx="488.0" cy="478.9" r="1.85"/><circle cx="490.3" cy="480.1" r="1.85"/><circle cx="493.2" cy="478.4" r="1.85"/><circle cx="491.5" cy="488.2" r="1.85"/><circle cx="481.6" cy="450.6" r="1.85"/><circle cx="482.2" cy="444.6" r="1.85"/><circle cx="481.2" cy="441.3" r="1.85"/><circle cx="489.4" cy="404.5" r="1.85"/><circle cx="488.4" cy="407.3" r="1.85"/><circle cx="487.7" cy="411.4" r="1.85"/><circle cx="492.9" cy="406.9" r="1.85"/><circle cx="484.7" cy="431.6" r="1.85"/><circle cx="483.7" cy="454.6" r="1.85"/><circle cx="485.7" cy="476.1" r="1.85"/></g>
<g fill="#ffa500" fill-opacity="0.38"><circle cx="337.9" cy="426.2" r="1.85"/><circle cx="336.5" cy="428.0" r="1.85"/><circle cx="339.5" cy="427.1" r="1.85"/><circle cx="338.5" cy="427.4" r="1.85"/><circle cx="338.2" cy="428.3" r="1.85"/><circle cx="336.8" cy="429.5" r="1.85"/><circle cx="338.1" cy="429.8" r="1.85"/><circle cx="339.0" cy="430.8" r="1.85"/><circle cx="337.6" cy="430.3" r="1.85"/><circle cx="336.6" cy="430.9" r="1.85"/><circle cx="339.1" cy="431.4" r="1.85"/><circle cx="336.8" cy="431.7" r="1.85"/><circle cx="338.7" cy="432.0" r="1.85"/><circle cx="340.6" cy="432.9" r="1.85"/><circle cx="336.2" cy="432.1" r="1.85"/><circle cx="337.6" cy="432.2" r="1.85"/><circle cx="338.1" cy="434.0" r="1.85"/><circle cx="340.1" cy="433.3" r="1.85"/><circle cx="336.2" cy="434.6" r="1.85"/><circle cx="339.2" cy="435.9" r="1.85"/><circle cx="338.8" cy="435.9" r="1.85"/><circle cx="338.8" cy="436.7" r="1.85"/><circle cx="340.7" cy="436.6" r="1.85"/><circle cx="338.1" cy="437.3" r="1.85"/><circle cx="338.7" cy="437.8" r="1.85"/><circle cx="337.4" cy="438.4" r="1.85"/><circle cx="340.8" cy="439.0" r="1.85"/><circle cx="337.8" cy="438.9" r="1.85"/><circle cx="336.7" cy="438.3" r="1.85"/><circle cx="340.4" cy="439.5" r="1.85"/><circle cx="340.0" cy="440.1" r="1.85"/><circle cx="340.3" cy="439.5" r="1.85"/><circle cx="338.4" cy="439.6" r="1.85"/><circle cx="337.7" cy="440.9" r="1.85"/><circle cx="337.8" cy="440.4" r="1.85"/><circle cx="338.0" cy="441.1" r="1.85"/><circle cx="340.5" cy="440.8" r="1.85"/><circle cx="341.4" cy="441.8" r="1.85"/><circle cx="341.2" cy="441.7" r="1.85"/><circle cx="338.7" cy="441.3" r="1.85"/><circle cx="340.9" cy="442.5" r="1.85"/><circle cx="340.8" cy="442.5" r="1.85"/><circle cx="341.0" cy="442.6" r="1.85"/><circle cx="338.2" cy="443.7" r="1.85"/><circle cx="339.1" cy="443.6" r="1.85"/><circle cx="338.4" cy="444.6" r="1.85"/><circle cx="343.1" cy="444.8" r="1.85"/><circle cx="341.9" cy="445.0" r="1.85"/><circle cx="343.1" cy="444.9" r="1.85"/><circle cx="341.0" cy="446.0" r="1.85"/><circle cx="338.6" cy="445.2" r="1.85"/><circle cx="342.9" cy="446.1" r="1.85"/><circle cx="344.9" cy="445.9" r="1.85"/><circle cx="336.5" cy="446.2" r="1.85"/><circle cx="345.5" cy="446.9" r="1.85"/><circle cx="345.3" cy="446.2" r="1.85"/><circle cx="335.6" cy="448.0" r="1.85"/><circle cx="343.1" cy="447.4" r="1.85"/><circle cx="338.4" cy="447.8" r="1.85"/><circle cx="340.6" cy="447.5" r="1.85"/><circle cx="343.4" cy="448.2" r="1.85"/><circle cx="344.5" cy="448.2" r="1.85"/><circle cx="344.6" cy="448.6" r="1.85"/><circle cx="345.8" cy="448.4" r="1.85"/><circle cx="343.4" cy="449.4" r="1.85"/><circle cx="338.7" cy="449.3" r="1.85"/><circle cx="335.9" cy="449.1" r="1.85"/><circle cx="342.9" cy="449.7" r="1.85"/><circle cx="346.5" cy="449.2" r="1.85"/><circle cx="344.4" cy="449.5" r="1.85"/><circle cx="338.6" cy="449.9" r="1.85"/><circle cx="339.6" cy="450.8" r="1.85"/><circle cx="347.9" cy="450.4" r="1.85"/><circle cx="345.3" cy="450.8" r="1.85"/><circle cx="341.9" cy="450.5" r="1.85"/><circle cx="336.8" cy="450.2" r="1.85"/><circle cx="343.7" cy="450.4" r="1.85"/><circle cx="346.5" cy="451.8" r="1.85"/><circle cx="336.6" cy="451.3" r="1.85"/><circle cx="336.8" cy="451.6" r="1.85"/><circle cx="336.3" cy="452.1" r="1.85"/><circle cx="348.2" cy="451.6" r="1.85"/><circle cx="336.0" cy="452.1" r="1.85"/><circle cx="337.1" cy="451.5" r="1.85"/><circle cx="339.3" cy="452.6" r="1.85"/><circle cx="341.2" cy="452.3" r="1.85"/><circle cx="341.2" cy="452.1" r="1.85"/><circle cx="337.4" cy="452.2" r="1.85"/><circle cx="339.6" cy="452.1" r="1.85"/><circle cx="336.9" cy="452.7" r="1.85"/><circle cx="341.6" cy="452.9" r="1.85"/><circle cx="345.2" cy="454.0" r="1.85"/><circle cx="340.3" cy="453.4" r="1.85"/><circle cx="349.3" cy="453.2" r="1.85"/><circle cx="345.4" cy="453.7" r="1.85"/><circle cx="347.9" cy="453.7" r="1.85"/><circle cx="345.5" cy="453.9" r="1.85"/><circle cx="343.1" cy="454.6" r="1.85"/><circle cx="347.5" cy="454.9" r="1.85"/><circle cx="347.4" cy="454.7" r="1.85"/><circle cx="348.3" cy="454.8" r="1.85"/><circle cx="345.5" cy="454.3" r="1.85"/><circle cx="336.2" cy="454.2" r="1.85"/><circle cx="340.8" cy="454.2" r="1.85"/><circle cx="344.3" cy="455.7" r="1.85"/><circle cx="345.2" cy="455.8" r="1.85"/><circle cx="343.4" cy="455.1" r="1.85"/><circle cx="347.4" cy="455.8" r="1.85"/><circle cx="343.6" cy="455.6" r="1.85"/><circle cx="345.6" cy="455.2" r="1.85"/><circle cx="341.3" cy="456.2" r="1.85"/><circle cx="341.5" cy="456.8" r="1.85"/><circle cx="340.8" cy="456.8" r="1.85"/><circle cx="349.9" cy="456.6" r="1.85"/><circle cx="342.9" cy="456.6" r="1.85"/><circle cx="347.8" cy="457.7" r="1.85"/><circle cx="346.5" cy="457.2" r="1.85"/><circle cx="341.3" cy="457.4" r="1.85"/><circle cx="347.6" cy="457.4" r="1.85"/><circle cx="345.7" cy="457.1" r="1.85"/><circle cx="343.5" cy="458.8" r="1.85"/><circle cx="347.4" cy="458.8" r="1.85"/><circle cx="343.7" cy="458.6" r="1.85"/><circle cx="345.3" cy="458.6" r="1.85"/><circle cx="342.2" cy="459.0" r="1.85"/><circle cx="349.9" cy="460.0" r="1.85"/><circle cx="342.6" cy="459.6" r="1.85"/><circle cx="348.7" cy="460.1" r="1.85"/><circle cx="345.9" cy="459.4" r="1.85"/><circle cx="349.5" cy="460.3" r="1.85"/><circle cx="347.3" cy="460.2" r="1.85"/><circle cx="347.0" cy="461.1" r="1.85"/><circle cx="348.8" cy="461.6" r="1.85"/><circle cx="349.1" cy="461.8" r="1.85"/><circle cx="338.2" cy="376.4" r="1.85"/><circle cx="340.0" cy="377.6" r="1.85"/><circle cx="342.3" cy="381.1" r="1.85"/><circle cx="340.8" cy="385.7" r="1.85"/><circle cx="342.6" cy="386.5" r="1.85"/><circle cx="337.8" cy="390.2" r="1.85"/><circle cx="338.6" cy="390.6" r="1.85"/><circle cx="339.4" cy="390.5" r="1.85"/><circle cx="340.0" cy="390.9" r="1.85"/><circle cx="343.2" cy="393.3" r="1.85"/><circle cx="343.6" cy="393.7" r="1.85"/><circle cx="336.0" cy="404.6" r="1.85"/><circle cx="336.6" cy="405.0" r="1.85"/><circle cx="337.2" cy="405.5" r="1.85"/><circle cx="335.8" cy="405.6" r="1.85"/><circle cx="336.8" cy="406.2" r="1.85"/><circle cx="336.4" cy="403.9" r="1.85"/><circle cx="338.4" cy="405.9" r="1.85"/><circle cx="336.6" cy="409.8" r="1.85"/><circle cx="336.9" cy="413.5" r="1.85"/><circle cx="336.6" cy="415.0" r="1.85"/><circle cx="344.9" cy="427.4" r="1.85"/><circle cx="346.3" cy="443.9" r="1.85"/><circle cx="347.5" cy="440.4" r="1.85"/><circle cx="351.0" cy="440.4" r="1.85"/><circle cx="349.8" cy="450.3" r="1.85"/><circle cx="348.2" cy="442.6" r="1.85"/><circle cx="351.2" cy="440.1" r="1.85"/><circle cx="343.2" cy="434.6" r="1.85"/><circle cx="344.7" cy="441.1" r="1.85"/><circle cx="351.7" cy="452.6" r="1.85"/><circle cx="352.2" cy="457.1" r="1.85"/><circle cx="344.6" cy="306.0" r="1.85"/><circle cx="344.8" cy="305.9" r="1.85"/><circle cx="344.5" cy="306.2" r="1.85"/><circle cx="354.1" cy="399.0" r="1.85"/><circle cx="356.8" cy="401.5" r="1.85"/><circle cx="349.5" cy="404.2" r="1.85"/><circle cx="350.4" cy="412.1" r="1.85"/><circle cx="348.7" cy="436.3" r="1.85"/><circle cx="362.0" cy="439.2" r="1.85"/><circle cx="338.8" cy="449.7" r="1.85"/><circle cx="346.9" cy="451.4" r="1.85"/></g>
<rect x="313.00" y="296.80" width="202.20" height="200.45" class="f"/>
<line x1="341.59" y1="497.25" x2="341.59" y2="500.25" class="t"/>
<text x="341.59" y="507.45" class="tl" text-anchor="middle">−20</text>
<line x1="396.63" y1="497.25" x2="396.63" y2="500.25" class="t"/>
<text x="396.63" y="507.45" class="tl" text-anchor="middle">0</text>
<line x1="451.67" y1="497.25" x2="451.67" y2="500.25" class="t"/>
<text x="451.67" y="507.45" class="tl" text-anchor="middle">20</text>
<line x1="506.71" y1="497.25" x2="506.71" y2="500.25" class="t"/>
<text x="506.71" y="507.45" class="tl" text-anchor="middle">40</text>
<line x1="310.00" y1="474.70" x2="313.00" y2="474.70" class="t"/>
<text x="310.00" y="478.00" class="tl" text-anchor="end">−10</text>
<line x1="310.00" y1="441.75" x2="313.00" y2="441.75" class="t"/>
<text x="310.00" y="445.05" class="tl" text-anchor="end">0</text>
<line x1="310.00" y1="408.80" x2="313.00" y2="408.80" class="t"/>
<text x="310.00" y="412.10" class="tl" text-anchor="end">10</text>
<line x1="310.00" y1="375.85" x2="313.00" y2="375.85" class="t"/>
<text x="310.00" y="379.15" class="tl" text-anchor="end">20</text>
<line x1="310.00" y1="342.90" x2="313.00" y2="342.90" class="t"/>
<text x="310.00" y="346.20" class="tl" text-anchor="end">30</text>
<line x1="310.00" y1="309.95" x2="313.00" y2="309.95" class="t"/>
<text x="310.00" y="313.25" class="tl" text-anchor="end">40</text>
<text x="414.10" y="294.00" class="ti" text-anchor="middle" textLength="92.4" lengthAdjust="spacingAndGlyphs">2 component PCA</text>
<text x="414.10" y="518.20" class="al" text-anchor="middle" textLength="100" lengthAdjust="spacingAndGlyphs">Principal Component 1</text>
<text transform="translate(291.60,397.02) rotate(-90)" class="al" text-anchor="middle" textLength="99.6" lengthAdjust="spacingAndGlyphs">Principal Component 2</text>
<rect x="447.20" y="301.30" width="63.40" height="65.85" rx="1.8" fill="#fff" fill-opacity="0.93" stroke="#d6d6d6" stroke-width="0.8"/>
<circle cx="459.80" cy="308.70" r="2.1" fill="#0000ff" fill-opacity="0.3"/>
<text x="476.00" y="311.90" class="lg" textLength="30.3" lengthAdjust="spacingAndGlyphs">Cluster1</text>
<circle cx="459.80" cy="321.55" r="2.1" fill="#ff0000" fill-opacity="0.3"/>
<text x="476.00" y="324.75" class="lg" textLength="30.3" lengthAdjust="spacingAndGlyphs">Cluster2</text>
<circle cx="459.80" cy="334.40" r="2.1" fill="#008000" fill-opacity="0.3"/>
<text x="476.00" y="337.60" class="lg" textLength="30.3" lengthAdjust="spacingAndGlyphs">Cluster3</text>
<circle cx="459.80" cy="347.25" r="2.1" fill="#ffc0cb" fill-opacity="0.3"/>
<text x="476.00" y="350.45" class="lg" textLength="30.3" lengthAdjust="spacingAndGlyphs">Cluster4</text>
<circle cx="459.80" cy="360.10" r="2.1" fill="#ffa500" fill-opacity="0.3"/>
<text x="476.00" y="363.30" class="lg" textLength="30.3" lengthAdjust="spacingAndGlyphs">Cluster5</text>
<text x="398.00" y="545.60" class="cap" text-anchor="middle" textLength="46.8" lengthAdjust="spacingAndGlyphs">(<tspan style="stroke-width:0.5">d</tspan>) K = 5.</text>
</svg></body></html>
